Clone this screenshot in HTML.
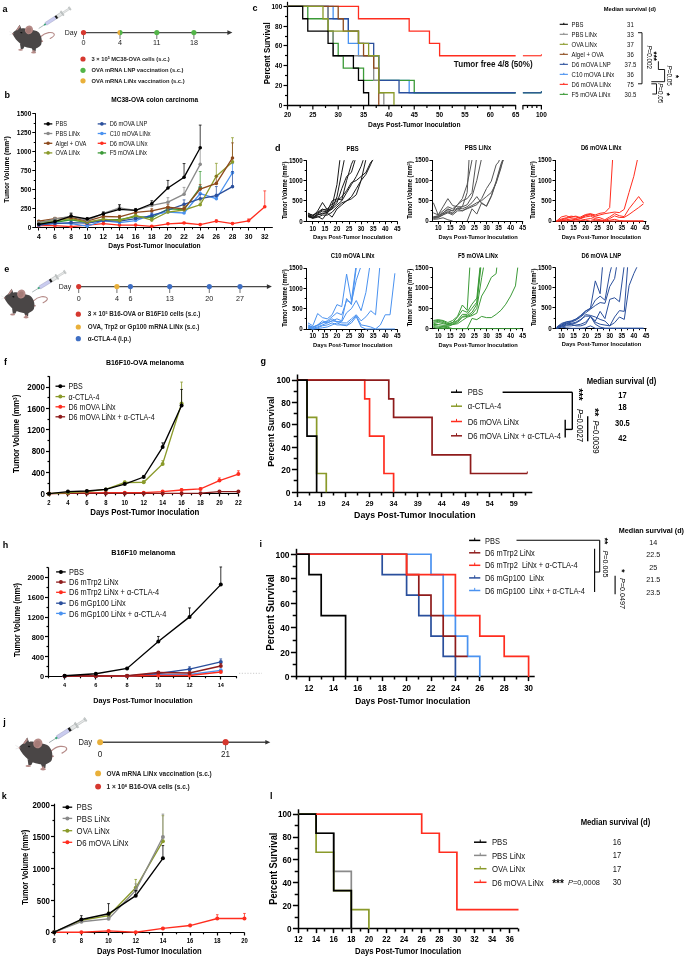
<!DOCTYPE html><html><head><meta charset="utf-8"><style>html,body{margin:0;padding:0;background:#fff;width:685px;height:957px;overflow:hidden}svg{display:block;will-change:transform}</style></head><body><svg width="685" height="957" viewBox="0 0 685 957" font-family='"Liberation Sans", sans-serif'>
<rect width="685" height="957" fill="#fff"/>
<defs>
<g id="mouse">
<path d="M40.2,37 C43,34.5 45.5,33 48.5,32.6 C51.5,32.2 54.2,33 54.3,34.6 C54.4,36.2 52.5,37.2 50.2,38.4" fill="none" stroke="#b58a87" stroke-width="1.1" stroke-linecap="round"/>
<ellipse cx="41.3" cy="41.2" rx="1.9" ry="0.9" fill="#b58a87"/>
<path d="M31.5,47 L36,47.5 L35.6,51.6 L33,51.8 Z" fill="#4a4646"/>
<ellipse cx="33.6" cy="52.6" rx="2.5" ry="1.0" fill="#b58a87"/>
<rect x="32.6" y="50.2" width="2" height="2.2" fill="#b58a87"/>
<path d="M20,43.5 L25,45.5 L23.3,48.8 L20.8,49.2 Z" fill="#4a4646"/>
<ellipse cx="20.6" cy="49.8" rx="2.4" ry="0.9" fill="#b58a87"/>
<path d="M12.3,33.6 C13.5,31.8 14.8,30.8 16.2,30 L19.7,24.7 L21.3,28.6 C23,28.2 24,28.3 24.9,28.5 L32.5,30.1 C34,30.3 35.5,30.6 36.6,31.1 C38.5,32 39.6,33.3 40.2,34.7 C41.2,36.5 41.7,38.2 41.7,39.8 C41.8,41.5 41.6,43 41.2,44.4 C40.6,45.6 39.7,46.4 38.7,46.9 C37.6,47.6 36.6,48.1 35.6,48.5 C33.7,48.6 31.8,48.4 30,48 C28,47.6 26,47 24.3,46.4 C23.4,46 22.6,45.5 21.8,44.9 C20.4,43.9 19.2,42.9 18.2,41.8 C16.6,40.2 15.2,38.5 14.1,36.7 C13.4,35.7 12.8,34.6 12.3,33.6 Z" fill="#4a4646"/>
<path d="M15.9,30.3 L19.6,24.9 L20.2,27.2 L17.6,30.2 Z" fill="#b58a87"/>
<ellipse cx="29" cy="29.9" rx="4.0" ry="4.4" fill="#b58a87" transform="rotate(20 29 29.9)"/>
<ellipse cx="28.6" cy="30.4" rx="2.4" ry="3.0" fill="#a57b77" transform="rotate(20 28.6 30.4)"/>
<ellipse cx="21.3" cy="32.6" rx="1.1" ry="0.65" fill="#111" transform="rotate(15 21.3 32.6)"/>
<circle cx="12.9" cy="33.8" r="0.8" fill="#b58a87"/>
<path d="M12,33 L9.3,31.6 M12,34 L9.5,34.8" stroke="#d8d8d8" stroke-width="0.4"/>
</g>
<g id="syr">
<line x1="0" y1="0" x2="8.6" y2="0" stroke="#7a8c8c" stroke-width="0.55"/>
<rect x="6.5" y="-0.9" width="2.2" height="1.8" fill="#3aa67a"/>
<rect x="8.5" y="-1.6" width="12" height="3.2" fill="#c9cbef" stroke="#9a9cb8" stroke-width="0.35"/>
<rect x="20" y="-1.7" width="2.2" height="3.4" fill="#1a1a1a"/>
<rect x="22.2" y="-1.6" width="5.6" height="3.2" fill="#e4e6e6" stroke="#8f9696" stroke-width="0.35"/>
<rect x="27.4" y="-2.6" width="1.2" height="5.2" fill="#c8cccc" stroke="#8f9696" stroke-width="0.3"/>
<rect x="28.6" y="-0.85" width="8" height="1.7" fill="#e6e8e8" stroke="#9aa0a0" stroke-width="0.3"/>
<rect x="36.4" y="-1.7" width="1.2" height="3.4" fill="#d0d4d4" stroke="#8f9696" stroke-width="0.3"/>
</g>
</defs>
<text x="0" y="3.24" font-size="9.00" font-weight="bold" text-anchor="start" fill="#000" transform="translate(2.60 8.76) scale(1 1)">a</text>
<use href="#mouse" transform="translate(12.30 33.60) scale(1.0) translate(-12.3 -33.6)"/>
<use href="#syr" transform="translate(38.70 28.50) rotate(-32.85) scale(1.000)"/>
<text x="0" y="2.74" font-size="7.61" font-weight="normal" text-anchor="start" fill="#222" transform="translate(64.80 32.60) scale(0.92 1)">Day</text>
<line x1="83.50" y1="32.60" x2="229.40" y2="32.60" stroke="#4a4a4a" stroke-width="1.4"/>
<path d="M232.40,32.60 L227.40,30.30 L227.40,34.90 Z" fill="#333"/>
<line x1="83.50" y1="32.60" x2="83.50" y2="39.00" stroke="#444" stroke-width="0.75"/>
<line x1="120.00" y1="32.60" x2="120.00" y2="39.00" stroke="#444" stroke-width="0.75"/>
<line x1="156.80" y1="32.60" x2="156.80" y2="39.00" stroke="#444" stroke-width="0.75"/>
<line x1="193.90" y1="32.60" x2="193.90" y2="39.00" stroke="#444" stroke-width="0.75"/>
<circle cx="83.50" cy="32.60" r="2.6" fill="#d6382f"/>
<path d="M120.00,30.00 A2.6,2.6 0 0 0 120.00,35.20 Z" fill="#e9b03a"/>
<path d="M120.00,30.00 A2.6,2.6 0 0 1 120.00,35.20 Z" fill="#53b548"/>
<circle cx="156.80" cy="32.60" r="2.6" fill="#53b548"/>
<circle cx="193.90" cy="32.60" r="2.6" fill="#53b548"/>
<text x="0" y="2.82" font-size="7.83" font-weight="normal" text-anchor="middle" fill="#222" transform="translate(83.50 42.50) scale(0.92 1)">0</text>
<text x="0" y="2.82" font-size="7.83" font-weight="normal" text-anchor="middle" fill="#222" transform="translate(120.00 42.50) scale(0.92 1)">4</text>
<text x="0" y="2.82" font-size="7.83" font-weight="normal" text-anchor="middle" fill="#222" transform="translate(156.80 42.50) scale(0.92 1)">11</text>
<text x="0" y="2.82" font-size="7.83" font-weight="normal" text-anchor="middle" fill="#222" transform="translate(193.90 42.50) scale(0.92 1)">18</text>
<circle cx="83.00" cy="59.00" r="2.6" fill="#d6382f"/>
<text x="0" y="2.07" font-size="5.75" font-weight="bold" text-anchor="start" fill="#222" transform="translate(91.50 59.00) scale(1.0 1)">3 × 10<tspan font-size="3.6" dy="-2.2">5</tspan><tspan dy="2.2"> MC38-OVA cells (s.c.)</tspan></text>
<circle cx="83.00" cy="70.30" r="2.6" fill="#53b548"/>
<text x="0" y="2.07" font-size="5.75" font-weight="bold" text-anchor="start" fill="#222" transform="translate(91.50 70.30) scale(1.0 1)">OVA mRNA LNP vaccination (s.c.)</text>
<circle cx="83.00" cy="80.80" r="2.6" fill="#e9b03a"/>
<text x="0" y="2.07" font-size="5.75" font-weight="bold" text-anchor="start" fill="#222" transform="translate(91.50 80.80) scale(1.0 1)">OVA mRNA LiNx vaccination (s.c.)</text>
<text x="0" y="3.24" font-size="9.00" font-weight="bold" text-anchor="start" fill="#000" transform="translate(4.30 268.26) scale(1 1)">e</text>
<use href="#mouse" transform="translate(4.10 297.80) scale(1.03) translate(-12.3 -33.6)"/>
<use href="#syr" transform="translate(32.20 292.10) rotate(-31.57) scale(1.036)"/>
<text x="0" y="2.74" font-size="7.61" font-weight="normal" text-anchor="start" fill="#222" transform="translate(58.70 286.60) scale(0.92 1)">Day</text>
<line x1="78.70" y1="286.60" x2="268.90" y2="286.60" stroke="#4a4a4a" stroke-width="1.4"/>
<path d="M271.90,286.60 L266.90,284.30 L266.90,288.90 Z" fill="#333"/>
<line x1="78.70" y1="286.60" x2="78.70" y2="293.00" stroke="#444" stroke-width="0.75"/>
<line x1="116.90" y1="286.60" x2="116.90" y2="293.00" stroke="#444" stroke-width="0.75"/>
<line x1="130.40" y1="286.60" x2="130.40" y2="293.00" stroke="#444" stroke-width="0.75"/>
<line x1="169.70" y1="286.60" x2="169.70" y2="293.00" stroke="#444" stroke-width="0.75"/>
<line x1="209.30" y1="286.60" x2="209.30" y2="293.00" stroke="#444" stroke-width="0.75"/>
<line x1="240.00" y1="286.60" x2="240.00" y2="293.00" stroke="#444" stroke-width="0.75"/>
<circle cx="78.70" cy="286.60" r="2.6" fill="#d6382f"/>
<circle cx="116.90" cy="286.60" r="2.6" fill="#e9b03a"/>
<circle cx="130.40" cy="286.60" r="2.6" fill="#3f6fc4"/>
<circle cx="169.70" cy="286.60" r="2.6" fill="#3f6fc4"/>
<circle cx="209.30" cy="286.60" r="2.6" fill="#3f6fc4"/>
<circle cx="240.00" cy="286.60" r="2.6" fill="#3f6fc4"/>
<text x="0" y="2.82" font-size="7.83" font-weight="normal" text-anchor="middle" fill="#222" transform="translate(78.70 297.80) scale(0.92 1)">0</text>
<text x="0" y="2.82" font-size="7.83" font-weight="normal" text-anchor="middle" fill="#222" transform="translate(116.90 297.80) scale(0.92 1)">4</text>
<text x="0" y="2.82" font-size="7.83" font-weight="normal" text-anchor="middle" fill="#222" transform="translate(130.40 297.80) scale(0.92 1)">6</text>
<text x="0" y="2.82" font-size="7.83" font-weight="normal" text-anchor="middle" fill="#222" transform="translate(169.70 297.80) scale(0.92 1)">13</text>
<text x="0" y="2.82" font-size="7.83" font-weight="normal" text-anchor="middle" fill="#222" transform="translate(209.30 297.80) scale(0.92 1)">20</text>
<text x="0" y="2.82" font-size="7.83" font-weight="normal" text-anchor="middle" fill="#222" transform="translate(240.00 297.80) scale(0.92 1)">27</text>
<circle cx="78.30" cy="314.20" r="2.6" fill="#d6382f"/>
<text x="0" y="2.27" font-size="6.30" font-weight="bold" text-anchor="start" fill="#222" transform="translate(87.80 314.20) scale(1.0 1)">3 × 10<tspan font-size="3.6" dy="-2.2">5</tspan><tspan dy="2.2"> B16-OVA or B16F10 cells (s.c.)</tspan></text>
<circle cx="78.30" cy="327.00" r="2.6" fill="#e9b03a"/>
<text x="0" y="2.27" font-size="6.30" font-weight="bold" text-anchor="start" fill="#222" transform="translate(87.80 327.00) scale(1.0 1)">OVA, Trp2 or Gp100 mRNA LiNx (s.c.)</text>
<circle cx="78.30" cy="338.70" r="2.6" fill="#3f6fc4"/>
<text x="0" y="2.27" font-size="6.30" font-weight="bold" text-anchor="start" fill="#222" transform="translate(87.80 338.70) scale(1.0 1)">α-CTLA-4 (i.p.)</text>
<text x="0" y="3.24" font-size="9.00" font-weight="bold" text-anchor="start" fill="#000" transform="translate(3.20 721.46) scale(1 1)">j</text>
<use href="#mouse" transform="translate(18.80 747.60) scale(1.14) translate(-12.3 -33.6)"/>
<use href="#syr" transform="translate(49.10 742.60) rotate(-32.45) scale(1.160)"/>
<text x="0" y="2.97" font-size="8.26" font-weight="normal" text-anchor="start" fill="#222" transform="translate(78.50 742.30) scale(0.92 1)">Day</text>
<line x1="100.10" y1="742.30" x2="267.30" y2="742.30" stroke="#4a4a4a" stroke-width="1.5"/>
<path d="M270.30,742.30 L265.30,740.00 L265.30,744.60 Z" fill="#333"/>
<circle cx="100.10" cy="742.30" r="2.95" fill="#e9b03a"/>
<circle cx="225.60" cy="742.30" r="2.95" fill="#d6382f"/>
<text x="0" y="3.21" font-size="8.91" font-weight="normal" text-anchor="middle" fill="#222" transform="translate(100.10 754.20) scale(0.92 1)">0</text>
<text x="0" y="3.21" font-size="8.91" font-weight="normal" text-anchor="middle" fill="#222" transform="translate(225.60 754.20) scale(0.92 1)">21</text>
<line x1="225.60" y1="742.30" x2="225.60" y2="750.00" stroke="#444" stroke-width="0.8"/>
<circle cx="225.60" cy="742.30" r="2.95" fill="#d6382f"/>
<circle cx="98.10" cy="773.40" r="2.95" fill="#e9b03a"/>
<text x="0" y="2.34" font-size="6.50" font-weight="bold" text-anchor="start" fill="#222" transform="translate(106.50 773.40) scale(1.0 1)">OVA mRNA LiNx vaccination (s.c.)</text>
<circle cx="98.10" cy="786.60" r="2.95" fill="#d6382f"/>
<text x="0" y="2.34" font-size="6.50" font-weight="bold" text-anchor="start" fill="#222" transform="translate(106.50 786.60) scale(1.0 1)">1 × 10<tspan font-size="4.4" dy="-2.4">6</tspan><tspan dy="2.4"> B16-OVA cells (s.c.)</tspan></text>
<text x="0" y="3.24" font-size="9.00" font-weight="bold" text-anchor="start" fill="#000" transform="translate(4.60 94.66) scale(1 1)">b</text>
<text x="0" y="2.56" font-size="7.12" font-weight="bold" text-anchor="middle" fill="#000" transform="translate(154.70 99.00) scale(0.92 1)">MC38-OVA colon carcinoma</text>
<line x1="35.50" y1="113.20" x2="35.50" y2="227.80" stroke="#000" stroke-width="1"/>
<line x1="32.30" y1="227.50" x2="35.50" y2="227.50" stroke="#000" stroke-width="1"/>
<line x1="32.30" y1="208.50" x2="35.50" y2="208.50" stroke="#000" stroke-width="1"/>
<line x1="32.30" y1="189.50" x2="35.50" y2="189.50" stroke="#000" stroke-width="1"/>
<line x1="32.30" y1="170.50" x2="35.50" y2="170.50" stroke="#000" stroke-width="1"/>
<line x1="32.30" y1="151.50" x2="35.50" y2="151.50" stroke="#000" stroke-width="1"/>
<line x1="32.30" y1="132.50" x2="35.50" y2="132.50" stroke="#000" stroke-width="1"/>
<line x1="32.30" y1="113.50" x2="35.50" y2="113.50" stroke="#000" stroke-width="1"/>
<line x1="33.70" y1="217.50" x2="35.50" y2="217.50" stroke="#000" stroke-width="1"/>
<line x1="33.70" y1="198.50" x2="35.50" y2="198.50" stroke="#000" stroke-width="1"/>
<line x1="33.70" y1="180.50" x2="35.50" y2="180.50" stroke="#000" stroke-width="1"/>
<line x1="33.70" y1="161.50" x2="35.50" y2="161.50" stroke="#000" stroke-width="1"/>
<line x1="33.70" y1="142.50" x2="35.50" y2="142.50" stroke="#000" stroke-width="1"/>
<line x1="33.70" y1="123.50" x2="35.50" y2="123.50" stroke="#000" stroke-width="1"/>
<text x="0" y="2.54" font-size="7.07" font-weight="bold" text-anchor="end" fill="#000" transform="translate(31.30 227.30) scale(0.92 1)">0</text>
<text x="0" y="2.54" font-size="7.07" font-weight="bold" text-anchor="end" fill="#000" transform="translate(31.30 208.40) scale(0.92 1)">250</text>
<text x="0" y="2.54" font-size="7.07" font-weight="bold" text-anchor="end" fill="#000" transform="translate(31.30 189.50) scale(0.92 1)">500</text>
<text x="0" y="2.54" font-size="7.07" font-weight="bold" text-anchor="end" fill="#000" transform="translate(31.30 170.60) scale(0.92 1)">750</text>
<text x="0" y="2.54" font-size="7.07" font-weight="bold" text-anchor="end" fill="#000" transform="translate(31.30 151.70) scale(0.92 1)">1000</text>
<text x="0" y="2.54" font-size="7.07" font-weight="bold" text-anchor="end" fill="#000" transform="translate(31.30 132.80) scale(0.92 1)">1250</text>
<text x="0" y="2.54" font-size="7.07" font-weight="bold" text-anchor="end" fill="#000" transform="translate(31.30 113.90) scale(0.92 1)">1500</text>
<line x1="34.90" y1="227.50" x2="272.80" y2="227.50" stroke="#000" stroke-width="1"/>
<line x1="38.50" y1="227.50" x2="38.50" y2="230.50" stroke="#000" stroke-width="1"/>
<line x1="54.50" y1="227.50" x2="54.50" y2="230.50" stroke="#000" stroke-width="1"/>
<line x1="71.50" y1="227.50" x2="71.50" y2="230.50" stroke="#000" stroke-width="1"/>
<line x1="87.50" y1="227.50" x2="87.50" y2="230.50" stroke="#000" stroke-width="1"/>
<line x1="103.50" y1="227.50" x2="103.50" y2="230.50" stroke="#000" stroke-width="1"/>
<line x1="119.50" y1="227.50" x2="119.50" y2="230.50" stroke="#000" stroke-width="1"/>
<line x1="135.50" y1="227.50" x2="135.50" y2="230.50" stroke="#000" stroke-width="1"/>
<line x1="151.50" y1="227.50" x2="151.50" y2="230.50" stroke="#000" stroke-width="1"/>
<line x1="167.50" y1="227.50" x2="167.50" y2="230.50" stroke="#000" stroke-width="1"/>
<line x1="184.50" y1="227.50" x2="184.50" y2="230.50" stroke="#000" stroke-width="1"/>
<line x1="200.50" y1="227.50" x2="200.50" y2="230.50" stroke="#000" stroke-width="1"/>
<line x1="216.50" y1="227.50" x2="216.50" y2="230.50" stroke="#000" stroke-width="1"/>
<line x1="232.50" y1="227.50" x2="232.50" y2="230.50" stroke="#000" stroke-width="1"/>
<line x1="248.50" y1="227.50" x2="248.50" y2="230.50" stroke="#000" stroke-width="1"/>
<line x1="264.50" y1="227.50" x2="264.50" y2="230.50" stroke="#000" stroke-width="1"/>
<line x1="46.50" y1="227.50" x2="46.50" y2="229.30" stroke="#000" stroke-width="1"/>
<line x1="63.50" y1="227.50" x2="63.50" y2="229.30" stroke="#000" stroke-width="1"/>
<line x1="79.50" y1="227.50" x2="79.50" y2="229.30" stroke="#000" stroke-width="1"/>
<line x1="95.50" y1="227.50" x2="95.50" y2="229.30" stroke="#000" stroke-width="1"/>
<line x1="111.50" y1="227.50" x2="111.50" y2="229.30" stroke="#000" stroke-width="1"/>
<line x1="127.50" y1="227.50" x2="127.50" y2="229.30" stroke="#000" stroke-width="1"/>
<line x1="143.50" y1="227.50" x2="143.50" y2="229.30" stroke="#000" stroke-width="1"/>
<line x1="159.50" y1="227.50" x2="159.50" y2="229.30" stroke="#000" stroke-width="1"/>
<line x1="175.50" y1="227.50" x2="175.50" y2="229.30" stroke="#000" stroke-width="1"/>
<line x1="192.50" y1="227.50" x2="192.50" y2="229.30" stroke="#000" stroke-width="1"/>
<line x1="208.50" y1="227.50" x2="208.50" y2="229.30" stroke="#000" stroke-width="1"/>
<line x1="224.50" y1="227.50" x2="224.50" y2="229.30" stroke="#000" stroke-width="1"/>
<line x1="240.50" y1="227.50" x2="240.50" y2="229.30" stroke="#000" stroke-width="1"/>
<line x1="256.50" y1="227.50" x2="256.50" y2="229.30" stroke="#000" stroke-width="1"/>
<text x="0" y="2.66" font-size="7.39" font-weight="bold" text-anchor="middle" fill="#000" transform="translate(38.80 236.00) scale(0.92 1)">4</text>
<text x="0" y="2.66" font-size="7.39" font-weight="bold" text-anchor="middle" fill="#000" transform="translate(54.94 236.00) scale(0.92 1)">6</text>
<text x="0" y="2.66" font-size="7.39" font-weight="bold" text-anchor="middle" fill="#000" transform="translate(71.08 236.00) scale(0.92 1)">8</text>
<text x="0" y="2.66" font-size="7.39" font-weight="bold" text-anchor="middle" fill="#000" transform="translate(87.22 236.00) scale(0.92 1)">10</text>
<text x="0" y="2.66" font-size="7.39" font-weight="bold" text-anchor="middle" fill="#000" transform="translate(103.36 236.00) scale(0.92 1)">12</text>
<text x="0" y="2.66" font-size="7.39" font-weight="bold" text-anchor="middle" fill="#000" transform="translate(119.50 236.00) scale(0.92 1)">14</text>
<text x="0" y="2.66" font-size="7.39" font-weight="bold" text-anchor="middle" fill="#000" transform="translate(135.64 236.00) scale(0.92 1)">16</text>
<text x="0" y="2.66" font-size="7.39" font-weight="bold" text-anchor="middle" fill="#000" transform="translate(151.78 236.00) scale(0.92 1)">18</text>
<text x="0" y="2.66" font-size="7.39" font-weight="bold" text-anchor="middle" fill="#000" transform="translate(167.92 236.00) scale(0.92 1)">20</text>
<text x="0" y="2.66" font-size="7.39" font-weight="bold" text-anchor="middle" fill="#000" transform="translate(184.06 236.00) scale(0.92 1)">22</text>
<text x="0" y="2.66" font-size="7.39" font-weight="bold" text-anchor="middle" fill="#000" transform="translate(200.20 236.00) scale(0.92 1)">24</text>
<text x="0" y="2.66" font-size="7.39" font-weight="bold" text-anchor="middle" fill="#000" transform="translate(216.34 236.00) scale(0.92 1)">26</text>
<text x="0" y="2.66" font-size="7.39" font-weight="bold" text-anchor="middle" fill="#000" transform="translate(232.48 236.00) scale(0.92 1)">28</text>
<text x="0" y="2.66" font-size="7.39" font-weight="bold" text-anchor="middle" fill="#000" transform="translate(248.62 236.00) scale(0.92 1)">30</text>
<text x="0" y="2.66" font-size="7.39" font-weight="bold" text-anchor="middle" fill="#000" transform="translate(264.76 236.00) scale(0.92 1)">32</text>
<text x="0" y="2.62" font-size="7.28" font-weight="bold" text-anchor="middle" fill="#000" transform="translate(6.30 169.50) rotate(-90) scale(0.92 1)">Tumor Volume (mm<tspan font-size="4.4" dy="-2.2">3</tspan><tspan dy="2.2">)</tspan></text>
<text x="0" y="2.62" font-size="7.28" font-weight="bold" text-anchor="middle" fill="#000" transform="translate(154.50 245.80) scale(0.92 1)">Days Post-Tumor Inoculation</text>
<line x1="38.80" y1="225.71" x2="38.80" y2="225.33" stroke="#ff2d1f" stroke-width="0.75"/>
<line x1="37.40" y1="225.33" x2="40.20" y2="225.33" stroke="#ff2d1f" stroke-width="0.75"/>
<line x1="54.94" y1="225.71" x2="54.94" y2="225.33" stroke="#ff2d1f" stroke-width="0.75"/>
<line x1="53.54" y1="225.33" x2="56.34" y2="225.33" stroke="#ff2d1f" stroke-width="0.75"/>
<line x1="71.08" y1="226.70" x2="71.08" y2="226.32" stroke="#ff2d1f" stroke-width="0.75"/>
<line x1="69.68" y1="226.32" x2="72.48" y2="226.32" stroke="#ff2d1f" stroke-width="0.75"/>
<line x1="87.22" y1="225.11" x2="87.22" y2="224.73" stroke="#ff2d1f" stroke-width="0.75"/>
<line x1="85.82" y1="224.73" x2="88.62" y2="224.73" stroke="#ff2d1f" stroke-width="0.75"/>
<line x1="103.36" y1="223.60" x2="103.36" y2="222.84" stroke="#ff2d1f" stroke-width="0.75"/>
<line x1="101.96" y1="222.84" x2="104.76" y2="222.84" stroke="#ff2d1f" stroke-width="0.75"/>
<line x1="119.50" y1="225.11" x2="119.50" y2="224.35" stroke="#ff2d1f" stroke-width="0.75"/>
<line x1="118.10" y1="224.35" x2="120.90" y2="224.35" stroke="#ff2d1f" stroke-width="0.75"/>
<line x1="135.64" y1="225.11" x2="135.64" y2="224.35" stroke="#ff2d1f" stroke-width="0.75"/>
<line x1="134.24" y1="224.35" x2="137.04" y2="224.35" stroke="#ff2d1f" stroke-width="0.75"/>
<line x1="151.78" y1="226.32" x2="151.78" y2="225.56" stroke="#ff2d1f" stroke-width="0.75"/>
<line x1="150.38" y1="225.56" x2="153.18" y2="225.56" stroke="#ff2d1f" stroke-width="0.75"/>
<line x1="167.92" y1="223.82" x2="167.92" y2="223.07" stroke="#ff2d1f" stroke-width="0.75"/>
<line x1="166.52" y1="223.07" x2="169.32" y2="223.07" stroke="#ff2d1f" stroke-width="0.75"/>
<line x1="184.06" y1="222.99" x2="184.06" y2="222.23" stroke="#ff2d1f" stroke-width="0.75"/>
<line x1="182.66" y1="222.23" x2="185.46" y2="222.23" stroke="#ff2d1f" stroke-width="0.75"/>
<line x1="200.20" y1="224.58" x2="200.20" y2="223.82" stroke="#ff2d1f" stroke-width="0.75"/>
<line x1="198.80" y1="223.82" x2="201.60" y2="223.82" stroke="#ff2d1f" stroke-width="0.75"/>
<line x1="216.34" y1="221.18" x2="216.34" y2="219.66" stroke="#ff2d1f" stroke-width="0.75"/>
<line x1="214.94" y1="219.66" x2="217.74" y2="219.66" stroke="#ff2d1f" stroke-width="0.75"/>
<line x1="232.48" y1="223.60" x2="232.48" y2="222.46" stroke="#ff2d1f" stroke-width="0.75"/>
<line x1="231.08" y1="222.46" x2="233.88" y2="222.46" stroke="#ff2d1f" stroke-width="0.75"/>
<line x1="248.62" y1="220.80" x2="248.62" y2="218.91" stroke="#ff2d1f" stroke-width="0.75"/>
<line x1="247.22" y1="218.91" x2="250.02" y2="218.91" stroke="#ff2d1f" stroke-width="0.75"/>
<line x1="264.76" y1="206.74" x2="264.76" y2="190.86" stroke="#ff2d1f" stroke-width="0.75"/>
<line x1="263.36" y1="190.86" x2="266.16" y2="190.86" stroke="#ff2d1f" stroke-width="0.75"/>
<polyline points="38.80,225.71 54.94,225.71 71.08,226.70 87.22,225.11 103.36,223.60 119.50,225.11 135.64,225.11 151.78,226.32 167.92,223.82 184.06,222.99 200.20,224.58 216.34,221.18 232.48,223.60 248.62,220.80 264.76,206.74" fill="none" stroke="#ff2d1f" stroke-width="1.3" stroke-linejoin="miter"/>
<circle cx="38.80" cy="225.71" r="1.8" fill="#ff2d1f"/>
<circle cx="54.94" cy="225.71" r="1.8" fill="#ff2d1f"/>
<circle cx="71.08" cy="226.70" r="1.8" fill="#ff2d1f"/>
<circle cx="87.22" cy="225.11" r="1.8" fill="#ff2d1f"/>
<circle cx="103.36" cy="223.60" r="1.8" fill="#ff2d1f"/>
<circle cx="119.50" cy="225.11" r="1.8" fill="#ff2d1f"/>
<circle cx="135.64" cy="225.11" r="1.8" fill="#ff2d1f"/>
<circle cx="151.78" cy="226.32" r="1.8" fill="#ff2d1f"/>
<circle cx="167.92" cy="223.82" r="1.8" fill="#ff2d1f"/>
<circle cx="184.06" cy="222.99" r="1.8" fill="#ff2d1f"/>
<circle cx="200.20" cy="224.58" r="1.8" fill="#ff2d1f"/>
<circle cx="216.34" cy="221.18" r="1.8" fill="#ff2d1f"/>
<circle cx="232.48" cy="223.60" r="1.8" fill="#ff2d1f"/>
<circle cx="248.62" cy="220.80" r="1.8" fill="#ff2d1f"/>
<circle cx="264.76" cy="206.74" r="1.8" fill="#ff2d1f"/>
<line x1="38.80" y1="223.52" x2="38.80" y2="222.76" stroke="#3b9a37" stroke-width="0.75"/>
<line x1="37.40" y1="222.76" x2="40.20" y2="222.76" stroke="#3b9a37" stroke-width="0.75"/>
<line x1="54.94" y1="222.23" x2="54.94" y2="221.48" stroke="#3b9a37" stroke-width="0.75"/>
<line x1="53.54" y1="221.48" x2="56.34" y2="221.48" stroke="#3b9a37" stroke-width="0.75"/>
<line x1="71.08" y1="219.74" x2="71.08" y2="218.61" stroke="#3b9a37" stroke-width="0.75"/>
<line x1="69.68" y1="218.61" x2="72.48" y2="218.61" stroke="#3b9a37" stroke-width="0.75"/>
<line x1="87.22" y1="222.61" x2="87.22" y2="221.48" stroke="#3b9a37" stroke-width="0.75"/>
<line x1="85.82" y1="221.48" x2="88.62" y2="221.48" stroke="#3b9a37" stroke-width="0.75"/>
<line x1="103.36" y1="219.74" x2="103.36" y2="218.61" stroke="#3b9a37" stroke-width="0.75"/>
<line x1="101.96" y1="218.61" x2="104.76" y2="218.61" stroke="#3b9a37" stroke-width="0.75"/>
<line x1="119.50" y1="219.74" x2="119.50" y2="218.61" stroke="#3b9a37" stroke-width="0.75"/>
<line x1="118.10" y1="218.61" x2="120.90" y2="218.61" stroke="#3b9a37" stroke-width="0.75"/>
<line x1="135.64" y1="216.49" x2="135.64" y2="214.98" stroke="#3b9a37" stroke-width="0.75"/>
<line x1="134.24" y1="214.98" x2="137.04" y2="214.98" stroke="#3b9a37" stroke-width="0.75"/>
<line x1="151.78" y1="217.70" x2="151.78" y2="216.19" stroke="#3b9a37" stroke-width="0.75"/>
<line x1="150.38" y1="216.19" x2="153.18" y2="216.19" stroke="#3b9a37" stroke-width="0.75"/>
<line x1="167.92" y1="208.85" x2="167.92" y2="206.59" stroke="#3b9a37" stroke-width="0.75"/>
<line x1="166.52" y1="206.59" x2="169.32" y2="206.59" stroke="#3b9a37" stroke-width="0.75"/>
<line x1="184.06" y1="209.53" x2="184.06" y2="207.27" stroke="#3b9a37" stroke-width="0.75"/>
<line x1="182.66" y1="207.27" x2="185.46" y2="207.27" stroke="#3b9a37" stroke-width="0.75"/>
<line x1="200.20" y1="187.38" x2="200.20" y2="171.51" stroke="#3b9a37" stroke-width="0.75"/>
<line x1="198.80" y1="171.51" x2="201.60" y2="171.51" stroke="#3b9a37" stroke-width="0.75"/>
<polyline points="38.80,223.52 54.94,222.23 71.08,219.74 87.22,222.61 103.36,219.74 119.50,219.74 135.64,216.49 151.78,217.70 167.92,208.85 184.06,209.53 200.20,187.38" fill="none" stroke="#3b9a37" stroke-width="1.3" stroke-linejoin="miter"/>
<circle cx="38.80" cy="223.52" r="1.8" fill="#3b9a37"/>
<circle cx="54.94" cy="222.23" r="1.8" fill="#3b9a37"/>
<circle cx="71.08" cy="219.74" r="1.8" fill="#3b9a37"/>
<circle cx="87.22" cy="222.61" r="1.8" fill="#3b9a37"/>
<circle cx="103.36" cy="219.74" r="1.8" fill="#3b9a37"/>
<circle cx="119.50" cy="219.74" r="1.8" fill="#3b9a37"/>
<circle cx="135.64" cy="216.49" r="1.8" fill="#3b9a37"/>
<circle cx="151.78" cy="217.70" r="1.8" fill="#3b9a37"/>
<circle cx="167.92" cy="208.85" r="1.8" fill="#3b9a37"/>
<circle cx="184.06" cy="209.53" r="1.8" fill="#3b9a37"/>
<circle cx="200.20" cy="187.38" r="1.8" fill="#3b9a37"/>
<line x1="38.80" y1="225.11" x2="38.80" y2="224.73" stroke="#4a92f0" stroke-width="0.75"/>
<line x1="37.40" y1="224.73" x2="40.20" y2="224.73" stroke="#4a92f0" stroke-width="0.75"/>
<line x1="54.94" y1="223.22" x2="54.94" y2="222.46" stroke="#4a92f0" stroke-width="0.75"/>
<line x1="53.54" y1="222.46" x2="56.34" y2="222.46" stroke="#4a92f0" stroke-width="0.75"/>
<line x1="71.08" y1="223.60" x2="71.08" y2="222.84" stroke="#4a92f0" stroke-width="0.75"/>
<line x1="69.68" y1="222.84" x2="72.48" y2="222.84" stroke="#4a92f0" stroke-width="0.75"/>
<line x1="87.22" y1="226.09" x2="87.22" y2="225.33" stroke="#4a92f0" stroke-width="0.75"/>
<line x1="85.82" y1="225.33" x2="88.62" y2="225.33" stroke="#4a92f0" stroke-width="0.75"/>
<line x1="103.36" y1="220.57" x2="103.36" y2="219.44" stroke="#4a92f0" stroke-width="0.75"/>
<line x1="101.96" y1="219.44" x2="104.76" y2="219.44" stroke="#4a92f0" stroke-width="0.75"/>
<line x1="119.50" y1="222.61" x2="119.50" y2="221.48" stroke="#4a92f0" stroke-width="0.75"/>
<line x1="118.10" y1="221.48" x2="120.90" y2="221.48" stroke="#4a92f0" stroke-width="0.75"/>
<line x1="135.64" y1="220.57" x2="135.64" y2="219.06" stroke="#4a92f0" stroke-width="0.75"/>
<line x1="134.24" y1="219.06" x2="137.04" y2="219.06" stroke="#4a92f0" stroke-width="0.75"/>
<line x1="151.78" y1="214.98" x2="151.78" y2="212.71" stroke="#4a92f0" stroke-width="0.75"/>
<line x1="150.38" y1="212.71" x2="153.18" y2="212.71" stroke="#4a92f0" stroke-width="0.75"/>
<line x1="167.92" y1="212.03" x2="167.92" y2="209.00" stroke="#4a92f0" stroke-width="0.75"/>
<line x1="166.52" y1="209.00" x2="169.32" y2="209.00" stroke="#4a92f0" stroke-width="0.75"/>
<line x1="184.06" y1="213.01" x2="184.06" y2="209.99" stroke="#4a92f0" stroke-width="0.75"/>
<line x1="182.66" y1="209.99" x2="185.46" y2="209.99" stroke="#4a92f0" stroke-width="0.75"/>
<line x1="200.20" y1="193.58" x2="200.20" y2="186.78" stroke="#4a92f0" stroke-width="0.75"/>
<line x1="198.80" y1="186.78" x2="201.60" y2="186.78" stroke="#4a92f0" stroke-width="0.75"/>
<line x1="216.34" y1="198.72" x2="216.34" y2="194.19" stroke="#4a92f0" stroke-width="0.75"/>
<line x1="214.94" y1="194.19" x2="217.74" y2="194.19" stroke="#4a92f0" stroke-width="0.75"/>
<line x1="232.48" y1="172.72" x2="232.48" y2="163.64" stroke="#4a92f0" stroke-width="0.75"/>
<line x1="231.08" y1="163.64" x2="233.88" y2="163.64" stroke="#4a92f0" stroke-width="0.75"/>
<polyline points="38.80,225.11 54.94,223.22 71.08,223.60 87.22,226.09 103.36,220.57 119.50,222.61 135.64,220.57 151.78,214.98 167.92,212.03 184.06,213.01 200.20,193.58 216.34,198.72 232.48,172.72" fill="none" stroke="#4a92f0" stroke-width="1.3" stroke-linejoin="miter"/>
<circle cx="38.80" cy="225.11" r="1.8" fill="#4a92f0"/>
<circle cx="54.94" cy="223.22" r="1.8" fill="#4a92f0"/>
<circle cx="71.08" cy="223.60" r="1.8" fill="#4a92f0"/>
<circle cx="87.22" cy="226.09" r="1.8" fill="#4a92f0"/>
<circle cx="103.36" cy="220.57" r="1.8" fill="#4a92f0"/>
<circle cx="119.50" cy="222.61" r="1.8" fill="#4a92f0"/>
<circle cx="135.64" cy="220.57" r="1.8" fill="#4a92f0"/>
<circle cx="151.78" cy="214.98" r="1.8" fill="#4a92f0"/>
<circle cx="167.92" cy="212.03" r="1.8" fill="#4a92f0"/>
<circle cx="184.06" cy="213.01" r="1.8" fill="#4a92f0"/>
<circle cx="200.20" cy="193.58" r="1.8" fill="#4a92f0"/>
<circle cx="216.34" cy="198.72" r="1.8" fill="#4a92f0"/>
<circle cx="232.48" cy="172.72" r="1.8" fill="#4a92f0"/>
<line x1="38.80" y1="224.73" x2="38.80" y2="224.35" stroke="#2a4f9c" stroke-width="0.75"/>
<line x1="37.40" y1="224.35" x2="40.20" y2="224.35" stroke="#2a4f9c" stroke-width="0.75"/>
<line x1="54.94" y1="223.60" x2="54.94" y2="222.84" stroke="#2a4f9c" stroke-width="0.75"/>
<line x1="53.54" y1="222.84" x2="56.34" y2="222.84" stroke="#2a4f9c" stroke-width="0.75"/>
<line x1="71.08" y1="222.61" x2="71.08" y2="221.86" stroke="#2a4f9c" stroke-width="0.75"/>
<line x1="69.68" y1="221.86" x2="72.48" y2="221.86" stroke="#2a4f9c" stroke-width="0.75"/>
<line x1="87.22" y1="223.22" x2="87.22" y2="222.46" stroke="#2a4f9c" stroke-width="0.75"/>
<line x1="85.82" y1="222.46" x2="88.62" y2="222.46" stroke="#2a4f9c" stroke-width="0.75"/>
<line x1="103.36" y1="220.57" x2="103.36" y2="219.44" stroke="#2a4f9c" stroke-width="0.75"/>
<line x1="101.96" y1="219.44" x2="104.76" y2="219.44" stroke="#2a4f9c" stroke-width="0.75"/>
<line x1="119.50" y1="221.03" x2="119.50" y2="219.89" stroke="#2a4f9c" stroke-width="0.75"/>
<line x1="118.10" y1="219.89" x2="120.90" y2="219.89" stroke="#2a4f9c" stroke-width="0.75"/>
<line x1="135.64" y1="218.53" x2="135.64" y2="217.02" stroke="#2a4f9c" stroke-width="0.75"/>
<line x1="134.24" y1="217.02" x2="137.04" y2="217.02" stroke="#2a4f9c" stroke-width="0.75"/>
<line x1="151.78" y1="215.96" x2="151.78" y2="213.69" stroke="#2a4f9c" stroke-width="0.75"/>
<line x1="150.38" y1="213.69" x2="153.18" y2="213.69" stroke="#2a4f9c" stroke-width="0.75"/>
<line x1="167.92" y1="209.99" x2="167.92" y2="206.96" stroke="#2a4f9c" stroke-width="0.75"/>
<line x1="166.52" y1="206.96" x2="169.32" y2="206.96" stroke="#2a4f9c" stroke-width="0.75"/>
<line x1="184.06" y1="204.39" x2="184.06" y2="199.86" stroke="#2a4f9c" stroke-width="0.75"/>
<line x1="182.66" y1="199.86" x2="185.46" y2="199.86" stroke="#2a4f9c" stroke-width="0.75"/>
<line x1="200.20" y1="198.72" x2="200.20" y2="194.19" stroke="#2a4f9c" stroke-width="0.75"/>
<line x1="198.80" y1="194.19" x2="201.60" y2="194.19" stroke="#2a4f9c" stroke-width="0.75"/>
<line x1="216.34" y1="195.62" x2="216.34" y2="186.55" stroke="#2a4f9c" stroke-width="0.75"/>
<line x1="214.94" y1="186.55" x2="217.74" y2="186.55" stroke="#2a4f9c" stroke-width="0.75"/>
<line x1="232.48" y1="186.63" x2="232.48" y2="171.51" stroke="#2a4f9c" stroke-width="0.75"/>
<line x1="231.08" y1="171.51" x2="233.88" y2="171.51" stroke="#2a4f9c" stroke-width="0.75"/>
<polyline points="38.80,224.73 54.94,223.60 71.08,222.61 87.22,223.22 103.36,220.57 119.50,221.03 135.64,218.53 151.78,215.96 167.92,209.99 184.06,204.39 200.20,198.72 216.34,195.62 232.48,186.63" fill="none" stroke="#2a4f9c" stroke-width="1.3" stroke-linejoin="miter"/>
<circle cx="38.80" cy="224.73" r="1.8" fill="#2a4f9c"/>
<circle cx="54.94" cy="223.60" r="1.8" fill="#2a4f9c"/>
<circle cx="71.08" cy="222.61" r="1.8" fill="#2a4f9c"/>
<circle cx="87.22" cy="223.22" r="1.8" fill="#2a4f9c"/>
<circle cx="103.36" cy="220.57" r="1.8" fill="#2a4f9c"/>
<circle cx="119.50" cy="221.03" r="1.8" fill="#2a4f9c"/>
<circle cx="135.64" cy="218.53" r="1.8" fill="#2a4f9c"/>
<circle cx="151.78" cy="215.96" r="1.8" fill="#2a4f9c"/>
<circle cx="167.92" cy="209.99" r="1.8" fill="#2a4f9c"/>
<circle cx="184.06" cy="204.39" r="1.8" fill="#2a4f9c"/>
<circle cx="200.20" cy="198.72" r="1.8" fill="#2a4f9c"/>
<circle cx="216.34" cy="195.62" r="1.8" fill="#2a4f9c"/>
<circle cx="232.48" cy="186.63" r="1.8" fill="#2a4f9c"/>
<line x1="38.80" y1="222.23" x2="38.80" y2="221.48" stroke="#8a9a2a" stroke-width="0.75"/>
<line x1="37.40" y1="221.48" x2="40.20" y2="221.48" stroke="#8a9a2a" stroke-width="0.75"/>
<line x1="54.94" y1="220.57" x2="54.94" y2="219.44" stroke="#8a9a2a" stroke-width="0.75"/>
<line x1="53.54" y1="219.44" x2="56.34" y2="219.44" stroke="#8a9a2a" stroke-width="0.75"/>
<line x1="71.08" y1="218.53" x2="71.08" y2="217.02" stroke="#8a9a2a" stroke-width="0.75"/>
<line x1="69.68" y1="217.02" x2="72.48" y2="217.02" stroke="#8a9a2a" stroke-width="0.75"/>
<line x1="87.22" y1="222.23" x2="87.22" y2="221.10" stroke="#8a9a2a" stroke-width="0.75"/>
<line x1="85.82" y1="221.10" x2="88.62" y2="221.10" stroke="#8a9a2a" stroke-width="0.75"/>
<line x1="103.36" y1="219.14" x2="103.36" y2="217.62" stroke="#8a9a2a" stroke-width="0.75"/>
<line x1="101.96" y1="217.62" x2="104.76" y2="217.62" stroke="#8a9a2a" stroke-width="0.75"/>
<line x1="119.50" y1="220.57" x2="119.50" y2="219.06" stroke="#8a9a2a" stroke-width="0.75"/>
<line x1="118.10" y1="219.06" x2="120.90" y2="219.06" stroke="#8a9a2a" stroke-width="0.75"/>
<line x1="135.64" y1="215.51" x2="135.64" y2="213.24" stroke="#8a9a2a" stroke-width="0.75"/>
<line x1="134.24" y1="213.24" x2="137.04" y2="213.24" stroke="#8a9a2a" stroke-width="0.75"/>
<line x1="151.78" y1="220.12" x2="151.78" y2="217.85" stroke="#8a9a2a" stroke-width="0.75"/>
<line x1="150.38" y1="217.85" x2="153.18" y2="217.85" stroke="#8a9a2a" stroke-width="0.75"/>
<line x1="167.92" y1="212.03" x2="167.92" y2="209.00" stroke="#8a9a2a" stroke-width="0.75"/>
<line x1="166.52" y1="209.00" x2="169.32" y2="209.00" stroke="#8a9a2a" stroke-width="0.75"/>
<line x1="184.06" y1="209.99" x2="184.06" y2="206.96" stroke="#8a9a2a" stroke-width="0.75"/>
<line x1="182.66" y1="206.96" x2="185.46" y2="206.96" stroke="#8a9a2a" stroke-width="0.75"/>
<line x1="200.20" y1="204.77" x2="200.20" y2="200.24" stroke="#8a9a2a" stroke-width="0.75"/>
<line x1="198.80" y1="200.24" x2="201.60" y2="200.24" stroke="#8a9a2a" stroke-width="0.75"/>
<line x1="216.34" y1="176.19" x2="216.34" y2="163.34" stroke="#8a9a2a" stroke-width="0.75"/>
<line x1="214.94" y1="163.34" x2="217.74" y2="163.34" stroke="#8a9a2a" stroke-width="0.75"/>
<line x1="232.48" y1="161.91" x2="232.48" y2="137.71" stroke="#8a9a2a" stroke-width="0.75"/>
<line x1="231.08" y1="137.71" x2="233.88" y2="137.71" stroke="#8a9a2a" stroke-width="0.75"/>
<polyline points="38.80,222.23 54.94,220.57 71.08,218.53 87.22,222.23 103.36,219.14 119.50,220.57 135.64,215.51 151.78,220.12 167.92,212.03 184.06,209.99 200.20,204.77 216.34,176.19 232.48,161.91" fill="none" stroke="#8a9a2a" stroke-width="1.3" stroke-linejoin="miter"/>
<circle cx="38.80" cy="222.23" r="1.8" fill="#8a9a2a"/>
<circle cx="54.94" cy="220.57" r="1.8" fill="#8a9a2a"/>
<circle cx="71.08" cy="218.53" r="1.8" fill="#8a9a2a"/>
<circle cx="87.22" cy="222.23" r="1.8" fill="#8a9a2a"/>
<circle cx="103.36" cy="219.14" r="1.8" fill="#8a9a2a"/>
<circle cx="119.50" cy="220.57" r="1.8" fill="#8a9a2a"/>
<circle cx="135.64" cy="215.51" r="1.8" fill="#8a9a2a"/>
<circle cx="151.78" cy="220.12" r="1.8" fill="#8a9a2a"/>
<circle cx="167.92" cy="212.03" r="1.8" fill="#8a9a2a"/>
<circle cx="184.06" cy="209.99" r="1.8" fill="#8a9a2a"/>
<circle cx="200.20" cy="204.77" r="1.8" fill="#8a9a2a"/>
<circle cx="216.34" cy="176.19" r="1.8" fill="#8a9a2a"/>
<circle cx="232.48" cy="161.91" r="1.8" fill="#8a9a2a"/>
<line x1="38.80" y1="221.18" x2="38.80" y2="220.42" stroke="#8e4a1c" stroke-width="0.75"/>
<line x1="37.40" y1="220.42" x2="40.20" y2="220.42" stroke="#8e4a1c" stroke-width="0.75"/>
<line x1="54.94" y1="218.53" x2="54.94" y2="217.40" stroke="#8e4a1c" stroke-width="0.75"/>
<line x1="53.54" y1="217.40" x2="56.34" y2="217.40" stroke="#8e4a1c" stroke-width="0.75"/>
<line x1="71.08" y1="217.47" x2="71.08" y2="215.96" stroke="#8e4a1c" stroke-width="0.75"/>
<line x1="69.68" y1="215.96" x2="72.48" y2="215.96" stroke="#8e4a1c" stroke-width="0.75"/>
<line x1="87.22" y1="221.03" x2="87.22" y2="219.89" stroke="#8e4a1c" stroke-width="0.75"/>
<line x1="85.82" y1="219.89" x2="88.62" y2="219.89" stroke="#8e4a1c" stroke-width="0.75"/>
<line x1="103.36" y1="216.49" x2="103.36" y2="214.98" stroke="#8e4a1c" stroke-width="0.75"/>
<line x1="101.96" y1="214.98" x2="104.76" y2="214.98" stroke="#8e4a1c" stroke-width="0.75"/>
<line x1="119.50" y1="216.87" x2="119.50" y2="215.36" stroke="#8e4a1c" stroke-width="0.75"/>
<line x1="118.10" y1="215.36" x2="120.90" y2="215.36" stroke="#8e4a1c" stroke-width="0.75"/>
<line x1="135.64" y1="212.41" x2="135.64" y2="210.14" stroke="#8e4a1c" stroke-width="0.75"/>
<line x1="134.24" y1="210.14" x2="137.04" y2="210.14" stroke="#8e4a1c" stroke-width="0.75"/>
<line x1="151.78" y1="210.97" x2="151.78" y2="208.70" stroke="#8e4a1c" stroke-width="0.75"/>
<line x1="150.38" y1="208.70" x2="153.18" y2="208.70" stroke="#8e4a1c" stroke-width="0.75"/>
<line x1="167.92" y1="207.27" x2="167.92" y2="204.24" stroke="#8e4a1c" stroke-width="0.75"/>
<line x1="166.52" y1="204.24" x2="169.32" y2="204.24" stroke="#8e4a1c" stroke-width="0.75"/>
<line x1="184.06" y1="208.85" x2="184.06" y2="205.83" stroke="#8e4a1c" stroke-width="0.75"/>
<line x1="182.66" y1="205.83" x2="185.46" y2="205.83" stroke="#8e4a1c" stroke-width="0.75"/>
<line x1="200.20" y1="189.12" x2="200.20" y2="184.59" stroke="#8e4a1c" stroke-width="0.75"/>
<line x1="198.80" y1="184.59" x2="201.60" y2="184.59" stroke="#8e4a1c" stroke-width="0.75"/>
<line x1="216.34" y1="183.38" x2="216.34" y2="175.82" stroke="#8e4a1c" stroke-width="0.75"/>
<line x1="214.94" y1="175.82" x2="217.74" y2="175.82" stroke="#8e4a1c" stroke-width="0.75"/>
<line x1="232.48" y1="157.97" x2="232.48" y2="142.85" stroke="#8e4a1c" stroke-width="0.75"/>
<line x1="231.08" y1="142.85" x2="233.88" y2="142.85" stroke="#8e4a1c" stroke-width="0.75"/>
<polyline points="38.80,221.18 54.94,218.53 71.08,217.47 87.22,221.03 103.36,216.49 119.50,216.87 135.64,212.41 151.78,210.97 167.92,207.27 184.06,208.85 200.20,189.12 216.34,183.38 232.48,157.97" fill="none" stroke="#8e4a1c" stroke-width="1.3" stroke-linejoin="miter"/>
<circle cx="38.80" cy="221.18" r="1.8" fill="#8e4a1c"/>
<circle cx="54.94" cy="218.53" r="1.8" fill="#8e4a1c"/>
<circle cx="71.08" cy="217.47" r="1.8" fill="#8e4a1c"/>
<circle cx="87.22" cy="221.03" r="1.8" fill="#8e4a1c"/>
<circle cx="103.36" cy="216.49" r="1.8" fill="#8e4a1c"/>
<circle cx="119.50" cy="216.87" r="1.8" fill="#8e4a1c"/>
<circle cx="135.64" cy="212.41" r="1.8" fill="#8e4a1c"/>
<circle cx="151.78" cy="210.97" r="1.8" fill="#8e4a1c"/>
<circle cx="167.92" cy="207.27" r="1.8" fill="#8e4a1c"/>
<circle cx="184.06" cy="208.85" r="1.8" fill="#8e4a1c"/>
<circle cx="200.20" cy="189.12" r="1.8" fill="#8e4a1c"/>
<circle cx="216.34" cy="183.38" r="1.8" fill="#8e4a1c"/>
<circle cx="232.48" cy="157.97" r="1.8" fill="#8e4a1c"/>
<line x1="38.80" y1="222.61" x2="38.80" y2="221.86" stroke="#8a8a8a" stroke-width="0.75"/>
<line x1="37.40" y1="221.86" x2="40.20" y2="221.86" stroke="#8a8a8a" stroke-width="0.75"/>
<line x1="54.94" y1="219.14" x2="54.94" y2="217.62" stroke="#8a8a8a" stroke-width="0.75"/>
<line x1="53.54" y1="217.62" x2="56.34" y2="217.62" stroke="#8a8a8a" stroke-width="0.75"/>
<line x1="71.08" y1="216.11" x2="71.08" y2="213.84" stroke="#8a8a8a" stroke-width="0.75"/>
<line x1="69.68" y1="213.84" x2="72.48" y2="213.84" stroke="#8a8a8a" stroke-width="0.75"/>
<line x1="87.22" y1="220.57" x2="87.22" y2="219.06" stroke="#8a8a8a" stroke-width="0.75"/>
<line x1="85.82" y1="219.06" x2="88.62" y2="219.06" stroke="#8a8a8a" stroke-width="0.75"/>
<line x1="103.36" y1="213.39" x2="103.36" y2="211.88" stroke="#8a8a8a" stroke-width="0.75"/>
<line x1="101.96" y1="211.88" x2="104.76" y2="211.88" stroke="#8a8a8a" stroke-width="0.75"/>
<line x1="119.50" y1="207.87" x2="119.50" y2="204.85" stroke="#8a8a8a" stroke-width="0.75"/>
<line x1="118.10" y1="204.85" x2="120.90" y2="204.85" stroke="#8a8a8a" stroke-width="0.75"/>
<line x1="135.64" y1="210.29" x2="135.64" y2="208.78" stroke="#8a8a8a" stroke-width="0.75"/>
<line x1="134.24" y1="208.78" x2="137.04" y2="208.78" stroke="#8a8a8a" stroke-width="0.75"/>
<line x1="151.78" y1="205.38" x2="151.78" y2="203.11" stroke="#8a8a8a" stroke-width="0.75"/>
<line x1="150.38" y1="203.11" x2="153.18" y2="203.11" stroke="#8a8a8a" stroke-width="0.75"/>
<line x1="167.92" y1="202.20" x2="167.92" y2="197.66" stroke="#8a8a8a" stroke-width="0.75"/>
<line x1="166.52" y1="197.66" x2="169.32" y2="197.66" stroke="#8a8a8a" stroke-width="0.75"/>
<line x1="184.06" y1="194.19" x2="184.06" y2="187.38" stroke="#8a8a8a" stroke-width="0.75"/>
<line x1="182.66" y1="187.38" x2="185.46" y2="187.38" stroke="#8a8a8a" stroke-width="0.75"/>
<line x1="200.20" y1="164.33" x2="200.20" y2="147.69" stroke="#8a8a8a" stroke-width="0.75"/>
<line x1="198.80" y1="147.69" x2="201.60" y2="147.69" stroke="#8a8a8a" stroke-width="0.75"/>
<polyline points="38.80,222.61 54.94,219.14 71.08,216.11 87.22,220.57 103.36,213.39 119.50,207.87 135.64,210.29 151.78,205.38 167.92,202.20 184.06,194.19 200.20,164.33" fill="none" stroke="#8a8a8a" stroke-width="1.3" stroke-linejoin="miter"/>
<circle cx="38.80" cy="222.61" r="1.8" fill="#8a8a8a"/>
<circle cx="54.94" cy="219.14" r="1.8" fill="#8a8a8a"/>
<circle cx="71.08" cy="216.11" r="1.8" fill="#8a8a8a"/>
<circle cx="87.22" cy="220.57" r="1.8" fill="#8a8a8a"/>
<circle cx="103.36" cy="213.39" r="1.8" fill="#8a8a8a"/>
<circle cx="119.50" cy="207.87" r="1.8" fill="#8a8a8a"/>
<circle cx="135.64" cy="210.29" r="1.8" fill="#8a8a8a"/>
<circle cx="151.78" cy="205.38" r="1.8" fill="#8a8a8a"/>
<circle cx="167.92" cy="202.20" r="1.8" fill="#8a8a8a"/>
<circle cx="184.06" cy="194.19" r="1.8" fill="#8a8a8a"/>
<circle cx="200.20" cy="164.33" r="1.8" fill="#8a8a8a"/>
<line x1="38.80" y1="224.28" x2="38.80" y2="223.52" stroke="#000" stroke-width="0.75"/>
<line x1="37.40" y1="223.52" x2="40.20" y2="223.52" stroke="#000" stroke-width="0.75"/>
<line x1="54.94" y1="221.63" x2="54.94" y2="220.12" stroke="#000" stroke-width="0.75"/>
<line x1="53.54" y1="220.12" x2="56.34" y2="220.12" stroke="#000" stroke-width="0.75"/>
<line x1="71.08" y1="216.11" x2="71.08" y2="213.09" stroke="#000" stroke-width="0.75"/>
<line x1="69.68" y1="213.09" x2="72.48" y2="213.09" stroke="#000" stroke-width="0.75"/>
<line x1="87.22" y1="218.98" x2="87.22" y2="217.47" stroke="#000" stroke-width="0.75"/>
<line x1="85.82" y1="217.47" x2="88.62" y2="217.47" stroke="#000" stroke-width="0.75"/>
<line x1="103.36" y1="213.99" x2="103.36" y2="212.10" stroke="#000" stroke-width="0.75"/>
<line x1="101.96" y1="212.10" x2="104.76" y2="212.10" stroke="#000" stroke-width="0.75"/>
<line x1="119.50" y1="209.31" x2="119.50" y2="204.77" stroke="#000" stroke-width="0.75"/>
<line x1="118.10" y1="204.77" x2="120.90" y2="204.77" stroke="#000" stroke-width="0.75"/>
<line x1="135.64" y1="210.37" x2="135.64" y2="208.48" stroke="#000" stroke-width="0.75"/>
<line x1="134.24" y1="208.48" x2="137.04" y2="208.48" stroke="#000" stroke-width="0.75"/>
<line x1="151.78" y1="203.79" x2="151.78" y2="200.76" stroke="#000" stroke-width="0.75"/>
<line x1="150.38" y1="200.76" x2="153.18" y2="200.76" stroke="#000" stroke-width="0.75"/>
<line x1="167.92" y1="187.99" x2="167.92" y2="180.43" stroke="#000" stroke-width="0.75"/>
<line x1="166.52" y1="180.43" x2="169.32" y2="180.43" stroke="#000" stroke-width="0.75"/>
<line x1="184.06" y1="177.18" x2="184.06" y2="163.57" stroke="#000" stroke-width="0.75"/>
<line x1="182.66" y1="163.57" x2="185.46" y2="163.57" stroke="#000" stroke-width="0.75"/>
<line x1="200.20" y1="147.77" x2="200.20" y2="125.09" stroke="#000" stroke-width="0.75"/>
<line x1="198.80" y1="125.09" x2="201.60" y2="125.09" stroke="#000" stroke-width="0.75"/>
<polyline points="38.80,224.28 54.94,221.63 71.08,216.11 87.22,218.98 103.36,213.99 119.50,209.31 135.64,210.37 151.78,203.79 167.92,187.99 184.06,177.18 200.20,147.77" fill="none" stroke="#000" stroke-width="1.3" stroke-linejoin="miter"/>
<circle cx="38.80" cy="224.28" r="1.8" fill="#000"/>
<circle cx="54.94" cy="221.63" r="1.8" fill="#000"/>
<circle cx="71.08" cy="216.11" r="1.8" fill="#000"/>
<circle cx="87.22" cy="218.98" r="1.8" fill="#000"/>
<circle cx="103.36" cy="213.99" r="1.8" fill="#000"/>
<circle cx="119.50" cy="209.31" r="1.8" fill="#000"/>
<circle cx="135.64" cy="210.37" r="1.8" fill="#000"/>
<circle cx="151.78" cy="203.79" r="1.8" fill="#000"/>
<circle cx="167.92" cy="187.99" r="1.8" fill="#000"/>
<circle cx="184.06" cy="177.18" r="1.8" fill="#000"/>
<circle cx="200.20" cy="147.77" r="1.8" fill="#000"/>
<line x1="43.90" y1="123.90" x2="52.30" y2="123.90" stroke="#000" stroke-width="1.3"/>
<circle cx="48.10" cy="123.90" r="1.8" fill="#000"/>
<text x="0" y="2.50" font-size="6.95" font-weight="normal" text-anchor="start" fill="#111" transform="translate(55.60 123.90) scale(0.82 1)">PBS</text>
<line x1="43.90" y1="133.50" x2="52.30" y2="133.50" stroke="#8a8a8a" stroke-width="1.3"/>
<circle cx="48.10" cy="133.50" r="1.8" fill="#8a8a8a"/>
<text x="0" y="2.50" font-size="6.95" font-weight="normal" text-anchor="start" fill="#111" transform="translate(55.60 133.50) scale(0.82 1)">PBS LiNx</text>
<line x1="43.90" y1="143.30" x2="52.30" y2="143.30" stroke="#8e4a1c" stroke-width="1.3"/>
<circle cx="48.10" cy="143.30" r="1.8" fill="#8e4a1c"/>
<text x="0" y="2.50" font-size="6.95" font-weight="normal" text-anchor="start" fill="#111" transform="translate(55.60 143.30) scale(0.82 1)">Algel + OVA</text>
<line x1="43.90" y1="152.90" x2="52.30" y2="152.90" stroke="#8a9a2a" stroke-width="1.3"/>
<circle cx="48.10" cy="152.90" r="1.8" fill="#8a9a2a"/>
<text x="0" y="2.50" font-size="6.95" font-weight="normal" text-anchor="start" fill="#111" transform="translate(55.60 152.90) scale(0.82 1)">OVA LiNx</text>
<line x1="97.70" y1="123.90" x2="106.10" y2="123.90" stroke="#2a4f9c" stroke-width="1.3"/>
<circle cx="101.90" cy="123.90" r="1.8" fill="#2a4f9c"/>
<text x="0" y="2.50" font-size="6.95" font-weight="normal" text-anchor="start" fill="#111" transform="translate(109.70 123.90) scale(0.82 1)">D6 mOVA LNP</text>
<line x1="97.70" y1="133.50" x2="106.10" y2="133.50" stroke="#4a92f0" stroke-width="1.3"/>
<circle cx="101.90" cy="133.50" r="1.8" fill="#4a92f0"/>
<text x="0" y="2.50" font-size="6.95" font-weight="normal" text-anchor="start" fill="#111" transform="translate(109.70 133.50) scale(0.82 1)">C10 mOVA LiNx</text>
<line x1="97.70" y1="143.30" x2="106.10" y2="143.30" stroke="#ff2d1f" stroke-width="1.3"/>
<circle cx="101.90" cy="143.30" r="1.8" fill="#ff2d1f"/>
<text x="0" y="2.50" font-size="6.95" font-weight="normal" text-anchor="start" fill="#111" transform="translate(109.70 143.30) scale(0.82 1)">D6 mOVA LiNx</text>
<line x1="97.70" y1="152.90" x2="106.10" y2="152.90" stroke="#3b9a37" stroke-width="1.3"/>
<circle cx="101.90" cy="152.90" r="1.8" fill="#3b9a37"/>
<text x="0" y="2.50" font-size="6.95" font-weight="normal" text-anchor="start" fill="#111" transform="translate(109.70 152.90) scale(0.82 1)">F5 mOVA LiNx</text>
<text x="0" y="3.24" font-size="9.00" font-weight="bold" text-anchor="start" fill="#000" transform="translate(252.60 7.26) scale(1 1)">c</text>
<line x1="287.50" y1="1.80" x2="287.50" y2="105.60" stroke="#000" stroke-width="1.2"/>
<line x1="283.50" y1="105.50" x2="287.50" y2="105.50" stroke="#000" stroke-width="1.2"/>
<line x1="283.50" y1="85.50" x2="287.50" y2="85.50" stroke="#000" stroke-width="1.2"/>
<line x1="283.50" y1="65.50" x2="287.50" y2="65.50" stroke="#000" stroke-width="1.2"/>
<line x1="283.50" y1="45.50" x2="287.50" y2="45.50" stroke="#000" stroke-width="1.2"/>
<line x1="283.50" y1="26.50" x2="287.50" y2="26.50" stroke="#000" stroke-width="1.2"/>
<line x1="283.50" y1="6.50" x2="287.50" y2="6.50" stroke="#000" stroke-width="1.2"/>
<line x1="285.00" y1="95.50" x2="287.50" y2="95.50" stroke="#000" stroke-width="1.2"/>
<line x1="285.00" y1="75.50" x2="287.50" y2="75.50" stroke="#000" stroke-width="1.2"/>
<line x1="285.00" y1="55.50" x2="287.50" y2="55.50" stroke="#000" stroke-width="1.2"/>
<line x1="285.00" y1="36.50" x2="287.50" y2="36.50" stroke="#000" stroke-width="1.2"/>
<line x1="285.00" y1="16.50" x2="287.50" y2="16.50" stroke="#000" stroke-width="1.2"/>
<text x="0" y="2.54" font-size="7.07" font-weight="bold" text-anchor="end" fill="#000" transform="translate(282.30 105.10) scale(0.92 1)">0</text>
<text x="0" y="2.54" font-size="7.07" font-weight="bold" text-anchor="end" fill="#000" transform="translate(282.30 85.36) scale(0.92 1)">20</text>
<text x="0" y="2.54" font-size="7.07" font-weight="bold" text-anchor="end" fill="#000" transform="translate(282.30 65.62) scale(0.92 1)">40</text>
<text x="0" y="2.54" font-size="7.07" font-weight="bold" text-anchor="end" fill="#000" transform="translate(282.30 45.88) scale(0.92 1)">60</text>
<text x="0" y="2.54" font-size="7.07" font-weight="bold" text-anchor="end" fill="#000" transform="translate(282.30 26.14) scale(0.92 1)">80</text>
<text x="0" y="2.54" font-size="7.07" font-weight="bold" text-anchor="end" fill="#000" transform="translate(282.30 6.40) scale(0.92 1)">100</text>
<line x1="286.90" y1="105.50" x2="515.90" y2="105.50" stroke="#000" stroke-width="1.3"/>
<line x1="287.50" y1="105.10" x2="287.50" y2="109.60" stroke="#000" stroke-width="1.2"/>
<text x="0" y="2.54" font-size="7.07" font-weight="bold" text-anchor="middle" fill="#000" transform="translate(287.50 114.50) scale(0.92 1)">20</text>
<line x1="312.85" y1="105.10" x2="312.85" y2="109.60" stroke="#000" stroke-width="1.2"/>
<text x="0" y="2.54" font-size="7.07" font-weight="bold" text-anchor="middle" fill="#000" transform="translate(312.85 114.50) scale(0.92 1)">25</text>
<line x1="338.20" y1="105.10" x2="338.20" y2="109.60" stroke="#000" stroke-width="1.2"/>
<text x="0" y="2.54" font-size="7.07" font-weight="bold" text-anchor="middle" fill="#000" transform="translate(338.20 114.50) scale(0.92 1)">30</text>
<line x1="363.55" y1="105.10" x2="363.55" y2="109.60" stroke="#000" stroke-width="1.2"/>
<text x="0" y="2.54" font-size="7.07" font-weight="bold" text-anchor="middle" fill="#000" transform="translate(363.55 114.50) scale(0.92 1)">35</text>
<line x1="388.90" y1="105.10" x2="388.90" y2="109.60" stroke="#000" stroke-width="1.2"/>
<text x="0" y="2.54" font-size="7.07" font-weight="bold" text-anchor="middle" fill="#000" transform="translate(388.90 114.50) scale(0.92 1)">40</text>
<line x1="414.25" y1="105.10" x2="414.25" y2="109.60" stroke="#000" stroke-width="1.2"/>
<text x="0" y="2.54" font-size="7.07" font-weight="bold" text-anchor="middle" fill="#000" transform="translate(414.25 114.50) scale(0.92 1)">45</text>
<line x1="439.60" y1="105.10" x2="439.60" y2="109.60" stroke="#000" stroke-width="1.2"/>
<text x="0" y="2.54" font-size="7.07" font-weight="bold" text-anchor="middle" fill="#000" transform="translate(439.60 114.50) scale(0.92 1)">50</text>
<line x1="464.95" y1="105.10" x2="464.95" y2="109.60" stroke="#000" stroke-width="1.2"/>
<text x="0" y="2.54" font-size="7.07" font-weight="bold" text-anchor="middle" fill="#000" transform="translate(464.95 114.50) scale(0.92 1)">55</text>
<line x1="490.30" y1="105.10" x2="490.30" y2="109.60" stroke="#000" stroke-width="1.2"/>
<text x="0" y="2.54" font-size="7.07" font-weight="bold" text-anchor="middle" fill="#000" transform="translate(490.30 114.50) scale(0.92 1)">60</text>
<line x1="515.65" y1="105.10" x2="515.65" y2="109.60" stroke="#000" stroke-width="1.2"/>
<text x="0" y="2.54" font-size="7.07" font-weight="bold" text-anchor="middle" fill="#000" transform="translate(515.65 114.50) scale(0.92 1)">65</text>
<line x1="300.18" y1="105.10" x2="300.18" y2="108.00" stroke="#000" stroke-width="1.2"/>
<line x1="325.52" y1="105.10" x2="325.52" y2="108.00" stroke="#000" stroke-width="1.2"/>
<line x1="350.88" y1="105.10" x2="350.88" y2="108.00" stroke="#000" stroke-width="1.2"/>
<line x1="376.23" y1="105.10" x2="376.23" y2="108.00" stroke="#000" stroke-width="1.2"/>
<line x1="401.57" y1="105.10" x2="401.57" y2="108.00" stroke="#000" stroke-width="1.2"/>
<line x1="426.93" y1="105.10" x2="426.93" y2="108.00" stroke="#000" stroke-width="1.2"/>
<line x1="452.27" y1="105.10" x2="452.27" y2="108.00" stroke="#000" stroke-width="1.2"/>
<line x1="477.62" y1="105.10" x2="477.62" y2="108.00" stroke="#000" stroke-width="1.2"/>
<line x1="502.98" y1="105.10" x2="502.98" y2="108.00" stroke="#000" stroke-width="1.2"/>
<line x1="522.90" y1="105.50" x2="541.40" y2="105.50" stroke="#000" stroke-width="1.3"/>
<line x1="522.90" y1="105.10" x2="522.90" y2="109.60" stroke="#000" stroke-width="1.2"/>
<line x1="541.40" y1="105.10" x2="541.40" y2="109.60" stroke="#000" stroke-width="1.2"/>
<line x1="527.50" y1="105.10" x2="527.50" y2="108.00" stroke="#000" stroke-width="1.2"/>
<line x1="532.10" y1="105.10" x2="532.10" y2="108.00" stroke="#000" stroke-width="1.2"/>
<line x1="536.80" y1="105.10" x2="536.80" y2="108.00" stroke="#000" stroke-width="1.2"/>
<text x="0" y="2.54" font-size="7.07" font-weight="bold" text-anchor="middle" fill="#000" transform="translate(541.40 114.50) scale(0.92 1)">100</text>
<text x="0" y="3.09" font-size="8.59" font-weight="bold" text-anchor="middle" fill="#000" transform="translate(266.40 53.30) rotate(-90) scale(0.92 1)">Percent Survival</text>
<text x="0" y="2.62" font-size="7.28" font-weight="bold" text-anchor="middle" fill="#000" transform="translate(414.30 124.30) scale(0.92 1)">Days Post-Tumor Inoculation</text>
<polyline points="287.50,6.40 358.48,6.40 358.48,18.74 409.18,18.74 409.18,31.07 429.46,31.07 429.46,43.41 439.60,43.41 439.60,55.75 515.65,55.75" fill="none" stroke="#ff2d1f" stroke-width="1.3" stroke-linejoin="miter"/>
<line x1="522.90" y1="55.75" x2="541.40" y2="55.75" stroke="#ff2d1f" stroke-width="1.15"/>
<line x1="541.40" y1="55.75" x2="541.40" y2="54.15" stroke="#ff2d1f" stroke-width="0.9"/>
<polyline points="287.50,6.40 333.13,6.40 333.13,18.74 348.34,18.74 348.34,43.41 358.48,43.41 358.48,55.75 378.76,55.75 378.76,80.42 409.18,80.42 409.18,92.76 515.65,92.76" fill="none" stroke="#4a92f0" stroke-width="1.3" stroke-linejoin="miter"/>
<line x1="522.90" y1="92.76" x2="541.40" y2="92.76" stroke="#4a92f0" stroke-width="1.15"/>
<line x1="541.40" y1="92.76" x2="541.40" y2="91.16" stroke="#4a92f0" stroke-width="0.9"/>
<polyline points="287.50,6.40 307.78,6.40 307.78,18.74 328.06,18.74 328.06,31.07 333.13,31.07 333.13,43.41 338.20,43.41 338.20,55.75 343.27,55.75 343.27,68.09 363.55,68.09 363.55,80.42 414.25,80.42 414.25,92.76 515.65,92.76" fill="none" stroke="#3b9a37" stroke-width="1.3" stroke-linejoin="miter"/>
<line x1="522.90" y1="92.76" x2="541.40" y2="92.76" stroke="#3b9a37" stroke-width="1.15"/>
<line x1="541.40" y1="92.76" x2="541.40" y2="91.16" stroke="#3b9a37" stroke-width="0.9"/>
<polyline points="287.50,6.40 328.06,6.40 328.06,18.74 348.34,18.74 348.34,31.07 358.48,31.07 358.48,43.41 373.69,43.41 373.69,55.75 378.76,55.75 378.76,80.42 399.04,80.42 399.04,92.76 515.65,92.76" fill="none" stroke="#2a4f9c" stroke-width="1.3" stroke-linejoin="miter"/>
<line x1="522.90" y1="92.76" x2="541.40" y2="92.76" stroke="#2a4f9c" stroke-width="1.15"/>
<line x1="541.40" y1="92.76" x2="541.40" y2="91.16" stroke="#2a4f9c" stroke-width="0.9"/>
<polyline points="287.50,6.40 328.06,6.40 328.06,31.07 333.13,31.07 333.13,55.75 373.69,55.75 373.69,80.42 378.76,80.42 378.76,92.76 383.83,92.76 383.83,105.10 383.83,105.10" fill="none" stroke="#8a8a8a" stroke-width="1.3" stroke-linejoin="miter"/>
<polyline points="287.50,6.40 338.20,6.40 338.20,18.74 343.27,18.74 343.27,31.07 358.48,31.07 358.48,43.41 363.55,43.41 363.55,55.75 373.69,55.75 373.69,68.09 378.76,68.09 378.76,105.10 378.76,105.10" fill="none" stroke="#8e4a1c" stroke-width="1.3" stroke-linejoin="miter"/>
<polyline points="287.50,6.40 322.99,6.40 322.99,18.74 328.06,18.74 328.06,31.07 358.48,31.07 358.48,43.41 368.62,43.41 368.62,55.75 378.76,55.75 378.76,92.76 393.97,92.76 393.97,105.10 393.97,105.10" fill="none" stroke="#8a9a2a" stroke-width="1.3" stroke-linejoin="miter"/>
<polyline points="287.50,6.40 302.71,6.40 302.71,18.74 307.78,18.74 307.78,31.07 328.06,31.07 328.06,43.41 333.13,43.41 333.13,55.75 353.41,55.75 353.41,68.09 358.48,68.09 358.48,80.42 363.55,80.42 363.55,92.76 368.62,92.76 368.62,105.10 368.62,105.10" fill="none" stroke="#000" stroke-width="1.3" stroke-linejoin="miter"/>
<text x="0" y="3.17" font-size="8.80" font-weight="bold" text-anchor="middle" fill="#111" transform="translate(493.30 63.50) scale(0.92 1)">Tumor free 4/8 (50%)</text>
<text x="0" y="2.25" font-size="6.25" font-weight="bold" text-anchor="middle" fill="#000" transform="translate(629.80 8.80) scale(0.92 1)">Median survival (d)</text>
<line x1="559.70" y1="24.30" x2="567.90" y2="24.30" stroke="#000" stroke-width="1.1"/>
<line x1="563.80" y1="22.80" x2="563.80" y2="24.30" stroke="#000" stroke-width="1.0"/>
<text x="0" y="2.55" font-size="7.08" font-weight="normal" text-anchor="start" fill="#111" transform="translate(571.60 24.30) scale(0.84 1)">PBS</text>
<text x="0" y="2.57" font-size="7.14" font-weight="normal" text-anchor="middle" fill="#111" transform="translate(630.40 24.30) scale(0.84 1)">31</text>
<line x1="559.70" y1="34.31" x2="567.90" y2="34.31" stroke="#8a8a8a" stroke-width="1.1"/>
<line x1="563.80" y1="32.81" x2="563.80" y2="34.31" stroke="#8a8a8a" stroke-width="1.0"/>
<text x="0" y="2.55" font-size="7.08" font-weight="normal" text-anchor="start" fill="#111" transform="translate(571.60 34.31) scale(0.84 1)">PBS LiNx</text>
<text x="0" y="2.57" font-size="7.14" font-weight="normal" text-anchor="middle" fill="#111" transform="translate(630.40 34.31) scale(0.84 1)">33</text>
<line x1="559.70" y1="44.32" x2="567.90" y2="44.32" stroke="#8a9a2a" stroke-width="1.1"/>
<line x1="563.80" y1="42.82" x2="563.80" y2="44.32" stroke="#8a9a2a" stroke-width="1.0"/>
<text x="0" y="2.55" font-size="7.08" font-weight="normal" text-anchor="start" fill="#111" transform="translate(571.60 44.32) scale(0.84 1)">OVA LiNx</text>
<text x="0" y="2.57" font-size="7.14" font-weight="normal" text-anchor="middle" fill="#111" transform="translate(630.40 44.32) scale(0.84 1)">37</text>
<line x1="559.70" y1="54.33" x2="567.90" y2="54.33" stroke="#8e4a1c" stroke-width="1.1"/>
<line x1="563.80" y1="52.83" x2="563.80" y2="54.33" stroke="#8e4a1c" stroke-width="1.0"/>
<text x="0" y="2.55" font-size="7.08" font-weight="normal" text-anchor="start" fill="#111" transform="translate(571.60 54.33) scale(0.84 1)">Algel + OVA</text>
<text x="0" y="2.57" font-size="7.14" font-weight="normal" text-anchor="middle" fill="#111" transform="translate(630.40 54.33) scale(0.84 1)">36</text>
<line x1="559.70" y1="64.34" x2="567.90" y2="64.34" stroke="#2a4f9c" stroke-width="1.1"/>
<line x1="563.80" y1="62.84" x2="563.80" y2="64.34" stroke="#2a4f9c" stroke-width="1.0"/>
<text x="0" y="2.55" font-size="7.08" font-weight="normal" text-anchor="start" fill="#111" transform="translate(571.60 64.34) scale(0.84 1)">D6 mOVA LNP</text>
<text x="0" y="2.57" font-size="7.14" font-weight="normal" text-anchor="middle" fill="#111" transform="translate(630.40 64.34) scale(0.84 1)">37.5</text>
<line x1="559.70" y1="74.35" x2="567.90" y2="74.35" stroke="#4a92f0" stroke-width="1.1"/>
<line x1="563.80" y1="72.85" x2="563.80" y2="74.35" stroke="#4a92f0" stroke-width="1.0"/>
<text x="0" y="2.55" font-size="7.08" font-weight="normal" text-anchor="start" fill="#111" transform="translate(571.60 74.35) scale(0.84 1)">C10 mOVA LiNx</text>
<text x="0" y="2.57" font-size="7.14" font-weight="normal" text-anchor="middle" fill="#111" transform="translate(630.40 74.35) scale(0.84 1)">36</text>
<line x1="559.70" y1="84.36" x2="567.90" y2="84.36" stroke="#ff2d1f" stroke-width="1.1"/>
<line x1="563.80" y1="82.86" x2="563.80" y2="84.36" stroke="#ff2d1f" stroke-width="1.0"/>
<text x="0" y="2.55" font-size="7.08" font-weight="normal" text-anchor="start" fill="#111" transform="translate(571.60 84.36) scale(0.84 1)">D6 mOVA LiNx</text>
<text x="0" y="2.57" font-size="7.14" font-weight="normal" text-anchor="middle" fill="#111" transform="translate(630.40 84.36) scale(0.84 1)">75</text>
<line x1="559.70" y1="94.37" x2="567.90" y2="94.37" stroke="#3b9a37" stroke-width="1.1"/>
<line x1="563.80" y1="92.87" x2="563.80" y2="94.37" stroke="#3b9a37" stroke-width="1.0"/>
<text x="0" y="2.55" font-size="7.08" font-weight="normal" text-anchor="start" fill="#111" transform="translate(571.60 94.37) scale(0.84 1)">F5 mOVA LiNx</text>
<text x="0" y="2.57" font-size="7.14" font-weight="normal" text-anchor="middle" fill="#111" transform="translate(630.40 94.37) scale(0.84 1)">30.5</text>
<polyline points="638.00,32.70 642.00,32.70 642.00,83.80 638.00,83.80" fill="none" stroke="#000" stroke-width="0.9" stroke-linejoin="miter"/>
<text x="0" y="2.47" font-size="6.85" font-weight="normal" text-anchor="middle" fill="#000" transform="translate(649.40 57.20) rotate(90) scale(0.92 1)"><tspan font-style="italic">P</tspan>=0.002</text>
<text x="0" y="3.13" font-size="8.70" font-weight="bold" text-anchor="middle" fill="#000" transform="translate(654.30 56.20) rotate(90) scale(0.92 1)">***</text>
<polyline points="651.30,81.70 664.60,81.70 664.60,69.50 658.40,69.50 658.40,61.30" fill="none" stroke="#000" stroke-width="0.9" stroke-linejoin="miter"/>
<text x="0" y="2.47" font-size="6.85" font-weight="normal" text-anchor="middle" fill="#000" transform="translate(669.20 75.60) rotate(90) scale(0.92 1)"><tspan font-style="italic">P</tspan>=0.05</text>
<text x="0" y="3.13" font-size="8.70" font-weight="bold" text-anchor="middle" fill="#000" transform="translate(675.80 76.60) rotate(90) scale(0.92 1)">*</text>
<polyline points="651.30,83.80 656.50,83.80 656.50,94.00 652.30,94.00" fill="none" stroke="#000" stroke-width="0.9" stroke-linejoin="miter"/>
<text x="0" y="2.47" font-size="6.85" font-weight="normal" text-anchor="middle" fill="#000" transform="translate(660.70 93.20) rotate(90) scale(0.92 1)"><tspan font-style="italic">P</tspan>=0.05</text>
<text x="0" y="3.13" font-size="8.70" font-weight="bold" text-anchor="middle" fill="#000" transform="translate(667.60 94.40) rotate(90) scale(0.92 1)">*</text>
<text x="0" y="3.24" font-size="9.00" font-weight="bold" text-anchor="start" fill="#000" transform="translate(275.10 147.86) scale(1 1)">d</text>
<text x="0" y="2.29" font-size="6.36" font-weight="bold" text-anchor="middle" fill="#000" transform="translate(352.60 148.40) scale(0.92 1)">PBS</text>
<line x1="306.50" y1="160.20" x2="306.50" y2="221.70" stroke="#000" stroke-width="1.0"/>
<line x1="303.50" y1="221.50" x2="306.50" y2="221.50" stroke="#000" stroke-width="1.0"/>
<line x1="303.50" y1="200.50" x2="306.50" y2="200.50" stroke="#000" stroke-width="1.0"/>
<line x1="303.50" y1="180.50" x2="306.50" y2="180.50" stroke="#000" stroke-width="1.0"/>
<line x1="303.50" y1="160.50" x2="306.50" y2="160.50" stroke="#000" stroke-width="1.0"/>
<line x1="304.70" y1="211.50" x2="306.50" y2="211.50" stroke="#000" stroke-width="1.0"/>
<line x1="304.70" y1="190.50" x2="306.50" y2="190.50" stroke="#000" stroke-width="1.0"/>
<line x1="304.70" y1="170.50" x2="306.50" y2="170.50" stroke="#000" stroke-width="1.0"/>
<text x="0" y="2.43" font-size="6.74" font-weight="bold" text-anchor="end" fill="#000" transform="translate(302.70 221.20) scale(0.92 1)">0</text>
<text x="0" y="2.43" font-size="6.74" font-weight="bold" text-anchor="end" fill="#000" transform="translate(302.70 200.87) scale(0.92 1)">500</text>
<text x="0" y="2.43" font-size="6.74" font-weight="bold" text-anchor="end" fill="#000" transform="translate(302.70 180.53) scale(0.92 1)">1000</text>
<text x="0" y="2.43" font-size="6.74" font-weight="bold" text-anchor="end" fill="#000" transform="translate(302.70 160.20) scale(0.92 1)">1500</text>
<line x1="306.00" y1="221.50" x2="397.79" y2="221.50" stroke="#000" stroke-width="1.0"/>
<line x1="312.50" y1="221.50" x2="312.50" y2="224.30" stroke="#000" stroke-width="1.0"/>
<text x="0" y="2.35" font-size="6.52" font-weight="bold" text-anchor="middle" fill="#000" transform="translate(312.80 228.30) scale(0.92 1)">10</text>
<line x1="324.50" y1="221.50" x2="324.50" y2="224.30" stroke="#000" stroke-width="1.0"/>
<text x="0" y="2.35" font-size="6.52" font-weight="bold" text-anchor="middle" fill="#000" transform="translate(324.87 228.30) scale(0.92 1)">15</text>
<line x1="336.50" y1="221.50" x2="336.50" y2="224.30" stroke="#000" stroke-width="1.0"/>
<text x="0" y="2.35" font-size="6.52" font-weight="bold" text-anchor="middle" fill="#000" transform="translate(336.94 228.30) scale(0.92 1)">20</text>
<line x1="349.50" y1="221.50" x2="349.50" y2="224.30" stroke="#000" stroke-width="1.0"/>
<text x="0" y="2.35" font-size="6.52" font-weight="bold" text-anchor="middle" fill="#000" transform="translate(349.01 228.30) scale(0.92 1)">25</text>
<line x1="361.50" y1="221.50" x2="361.50" y2="224.30" stroke="#000" stroke-width="1.0"/>
<text x="0" y="2.35" font-size="6.52" font-weight="bold" text-anchor="middle" fill="#000" transform="translate(361.08 228.30) scale(0.92 1)">30</text>
<line x1="373.50" y1="221.50" x2="373.50" y2="224.30" stroke="#000" stroke-width="1.0"/>
<text x="0" y="2.35" font-size="6.52" font-weight="bold" text-anchor="middle" fill="#000" transform="translate(373.15 228.30) scale(0.92 1)">35</text>
<line x1="385.50" y1="221.50" x2="385.50" y2="224.30" stroke="#000" stroke-width="1.0"/>
<text x="0" y="2.35" font-size="6.52" font-weight="bold" text-anchor="middle" fill="#000" transform="translate(385.22 228.30) scale(0.92 1)">40</text>
<line x1="397.50" y1="221.50" x2="397.50" y2="224.30" stroke="#000" stroke-width="1.0"/>
<text x="0" y="2.35" font-size="6.52" font-weight="bold" text-anchor="middle" fill="#000" transform="translate(397.29 228.30) scale(0.92 1)">45</text>
<line x1="318.50" y1="221.50" x2="318.50" y2="223.20" stroke="#000" stroke-width="1.0"/>
<line x1="330.50" y1="221.50" x2="330.50" y2="223.20" stroke="#000" stroke-width="1.0"/>
<line x1="342.50" y1="221.50" x2="342.50" y2="223.20" stroke="#000" stroke-width="1.0"/>
<line x1="355.50" y1="221.50" x2="355.50" y2="223.20" stroke="#000" stroke-width="1.0"/>
<line x1="367.50" y1="221.50" x2="367.50" y2="223.20" stroke="#000" stroke-width="1.0"/>
<line x1="379.50" y1="221.50" x2="379.50" y2="223.20" stroke="#000" stroke-width="1.0"/>
<line x1="391.50" y1="221.50" x2="391.50" y2="223.20" stroke="#000" stroke-width="1.0"/>
<text x="0" y="2.27" font-size="6.30" font-weight="bold" text-anchor="middle" fill="#000" transform="translate(284.60 190.20) rotate(-90) scale(0.92 1)">Tumor Volume (mm<tspan font-size="3.8" dy="-2">3</tspan><tspan dy="2">)</tspan></text>
<text x="0" y="2.25" font-size="6.25" font-weight="bold" text-anchor="middle" fill="#000" transform="translate(352.80 237.00) scale(0.92 1)">Days Post-Tumor Inoculation</text>
<polyline points="307.97,215.91 312.80,217.54 317.63,213.88 322.46,211.03 327.28,211.85 332.11,205.75 336.94,184.60 339.84,160.20" fill="none" stroke="#1a1a1a" stroke-width="1.0" stroke-linejoin="miter" stroke-linejoin="round"/>
<polyline points="307.97,214.69 312.80,216.32 317.63,211.03 322.46,202.49 327.28,209.81 332.11,209.00 336.94,196.80 341.77,172.40 344.18,160.20" fill="none" stroke="#1a1a1a" stroke-width="1.0" stroke-linejoin="miter" stroke-linejoin="round"/>
<polyline points="307.97,213.88 312.80,215.10 317.63,212.25 322.46,209.00 327.28,211.03 332.11,200.87 336.94,198.83 341.77,200.05 346.60,180.53 351.42,164.27 353.36,160.20" fill="none" stroke="#1a1a1a" stroke-width="1.0" stroke-linejoin="miter" stroke-linejoin="round"/>
<polyline points="307.97,216.32 312.80,217.95 317.63,215.10 322.46,213.07 327.28,213.07 332.11,206.97 336.94,202.90 341.77,188.67 346.60,176.47 351.42,172.40 355.05,160.20" fill="none" stroke="#1a1a1a" stroke-width="1.0" stroke-linejoin="miter" stroke-linejoin="round"/>
<polyline points="307.97,215.51 312.80,217.13 317.63,214.69 322.46,213.88 327.28,212.25 332.11,209.00 336.94,204.93 341.77,200.87 346.60,192.73 351.42,184.60 356.25,176.47 361.08,166.30 363.15,160.20" fill="none" stroke="#1a1a1a" stroke-width="1.0" stroke-linejoin="miter" stroke-linejoin="round"/>
<polyline points="307.97,216.73 312.80,218.35 317.63,217.13 322.46,215.10 327.28,215.10 332.11,212.25 336.94,206.97 341.77,202.90 346.60,200.87 351.42,196.80 356.25,188.67 361.08,180.53 365.72,160.20" fill="none" stroke="#1a1a1a" stroke-width="1.0" stroke-linejoin="miter" stroke-linejoin="round"/>
<polyline points="307.97,215.10 312.80,217.95 317.63,216.32 322.46,219.17 327.28,213.07 332.11,217.13 336.94,209.00 341.77,204.93 346.60,200.87 351.42,198.83 356.25,194.77 361.08,180.53 365.91,174.43 370.74,164.27 372.35,160.20" fill="none" stroke="#1a1a1a" stroke-width="1.0" stroke-linejoin="miter" stroke-linejoin="round"/>
<polyline points="307.97,213.07 312.80,215.51 317.63,213.07 322.46,209.81 327.28,209.00 332.11,204.12 336.94,200.87 341.77,196.80 346.60,190.70 351.42,182.57 356.25,180.53 361.08,176.47 365.91,172.40 370.74,162.23 373.15,160.20" fill="none" stroke="#1a1a1a" stroke-width="1.0" stroke-linejoin="miter" stroke-linejoin="round"/>
<text x="0" y="2.29" font-size="6.36" font-weight="bold" text-anchor="middle" fill="#000" transform="translate(478.00 148.20) scale(0.92 1)">PBS LiNx</text>
<line x1="432.50" y1="160.00" x2="432.50" y2="221.50" stroke="#000" stroke-width="1.0"/>
<line x1="429.50" y1="221.50" x2="432.50" y2="221.50" stroke="#000" stroke-width="1.0"/>
<line x1="429.50" y1="200.50" x2="432.50" y2="200.50" stroke="#000" stroke-width="1.0"/>
<line x1="429.50" y1="180.50" x2="432.50" y2="180.50" stroke="#000" stroke-width="1.0"/>
<line x1="429.50" y1="160.50" x2="432.50" y2="160.50" stroke="#000" stroke-width="1.0"/>
<line x1="430.70" y1="210.50" x2="432.50" y2="210.50" stroke="#000" stroke-width="1.0"/>
<line x1="430.70" y1="190.50" x2="432.50" y2="190.50" stroke="#000" stroke-width="1.0"/>
<line x1="430.70" y1="170.50" x2="432.50" y2="170.50" stroke="#000" stroke-width="1.0"/>
<text x="0" y="2.43" font-size="6.74" font-weight="bold" text-anchor="end" fill="#000" transform="translate(428.70 221.00) scale(0.92 1)">0</text>
<text x="0" y="2.43" font-size="6.74" font-weight="bold" text-anchor="end" fill="#000" transform="translate(428.70 200.67) scale(0.92 1)">500</text>
<text x="0" y="2.43" font-size="6.74" font-weight="bold" text-anchor="end" fill="#000" transform="translate(428.70 180.33) scale(0.92 1)">1000</text>
<text x="0" y="2.43" font-size="6.74" font-weight="bold" text-anchor="end" fill="#000" transform="translate(428.70 160.00) scale(0.92 1)">1500</text>
<line x1="432.00" y1="221.50" x2="523.19" y2="221.50" stroke="#000" stroke-width="1.0"/>
<line x1="438.50" y1="221.50" x2="438.50" y2="224.30" stroke="#000" stroke-width="1.0"/>
<text x="0" y="2.35" font-size="6.52" font-weight="bold" text-anchor="middle" fill="#000" transform="translate(438.20 228.10) scale(0.92 1)">10</text>
<line x1="450.50" y1="221.50" x2="450.50" y2="224.30" stroke="#000" stroke-width="1.0"/>
<text x="0" y="2.35" font-size="6.52" font-weight="bold" text-anchor="middle" fill="#000" transform="translate(450.27 228.10) scale(0.92 1)">15</text>
<line x1="462.50" y1="221.50" x2="462.50" y2="224.30" stroke="#000" stroke-width="1.0"/>
<text x="0" y="2.35" font-size="6.52" font-weight="bold" text-anchor="middle" fill="#000" transform="translate(462.34 228.10) scale(0.92 1)">20</text>
<line x1="474.50" y1="221.50" x2="474.50" y2="224.30" stroke="#000" stroke-width="1.0"/>
<text x="0" y="2.35" font-size="6.52" font-weight="bold" text-anchor="middle" fill="#000" transform="translate(474.41 228.10) scale(0.92 1)">25</text>
<line x1="486.50" y1="221.50" x2="486.50" y2="224.30" stroke="#000" stroke-width="1.0"/>
<text x="0" y="2.35" font-size="6.52" font-weight="bold" text-anchor="middle" fill="#000" transform="translate(486.48 228.10) scale(0.92 1)">30</text>
<line x1="498.50" y1="221.50" x2="498.50" y2="224.30" stroke="#000" stroke-width="1.0"/>
<text x="0" y="2.35" font-size="6.52" font-weight="bold" text-anchor="middle" fill="#000" transform="translate(498.55 228.10) scale(0.92 1)">35</text>
<line x1="510.50" y1="221.50" x2="510.50" y2="224.30" stroke="#000" stroke-width="1.0"/>
<text x="0" y="2.35" font-size="6.52" font-weight="bold" text-anchor="middle" fill="#000" transform="translate(510.62 228.10) scale(0.92 1)">40</text>
<line x1="522.50" y1="221.50" x2="522.50" y2="224.30" stroke="#000" stroke-width="1.0"/>
<text x="0" y="2.35" font-size="6.52" font-weight="bold" text-anchor="middle" fill="#000" transform="translate(522.69 228.10) scale(0.92 1)">45</text>
<line x1="444.50" y1="221.50" x2="444.50" y2="223.20" stroke="#000" stroke-width="1.0"/>
<line x1="456.50" y1="221.50" x2="456.50" y2="223.20" stroke="#000" stroke-width="1.0"/>
<line x1="468.50" y1="221.50" x2="468.50" y2="223.20" stroke="#000" stroke-width="1.0"/>
<line x1="480.50" y1="221.50" x2="480.50" y2="223.20" stroke="#000" stroke-width="1.0"/>
<line x1="492.50" y1="221.50" x2="492.50" y2="223.20" stroke="#000" stroke-width="1.0"/>
<line x1="504.50" y1="221.50" x2="504.50" y2="223.20" stroke="#000" stroke-width="1.0"/>
<line x1="516.50" y1="221.50" x2="516.50" y2="223.20" stroke="#000" stroke-width="1.0"/>
<text x="0" y="2.27" font-size="6.30" font-weight="bold" text-anchor="middle" fill="#000" transform="translate(410.00 190.00) rotate(-90) scale(0.92 1)">Tumor Volume (mm<tspan font-size="3.8" dy="-2">3</tspan><tspan dy="2">)</tspan></text>
<text x="0" y="2.25" font-size="6.25" font-weight="bold" text-anchor="middle" fill="#000" transform="translate(478.20 236.80) scale(0.92 1)">Days Post-Tumor Inoculation</text>
<polyline points="433.37,202.70 438.20,214.90 443.03,206.77 447.86,198.63 452.68,205.55 457.51,206.77 462.34,206.77 467.17,192.53 469.01,160.00" fill="none" stroke="#555555" stroke-width="1.0" stroke-linejoin="miter" stroke-linejoin="round"/>
<polyline points="433.37,212.87 438.20,214.90 443.03,210.83 447.86,206.77 452.68,208.80 457.51,204.73 462.34,198.63 467.17,184.40 472.00,160.00" fill="none" stroke="#555555" stroke-width="1.0" stroke-linejoin="miter" stroke-linejoin="round"/>
<polyline points="433.37,216.93 438.20,215.71 443.03,212.87 447.86,208.80 452.68,210.83 457.51,204.73 462.34,200.67 467.17,198.63 472.00,192.53 476.29,160.00" fill="none" stroke="#555555" stroke-width="1.0" stroke-linejoin="miter" stroke-linejoin="round"/>
<polyline points="433.37,217.75 438.20,216.93 443.03,214.90 447.86,210.83 452.68,212.87 457.51,208.80 462.34,206.77 467.17,204.73 472.00,196.60 476.82,180.33 481.21,160.00" fill="none" stroke="#555555" stroke-width="1.0" stroke-linejoin="miter" stroke-linejoin="round"/>
<polyline points="433.37,216.93 438.20,216.12 443.03,212.87 447.86,209.61 452.68,210.83 457.51,207.99 462.34,208.80 467.17,206.77 472.00,202.70 476.82,196.60 481.65,203.51 486.48,205.95 491.31,195.79 496.14,181.15 500.96,164.07 502.57,160.00" fill="none" stroke="#555555" stroke-width="1.0" stroke-linejoin="miter" stroke-linejoin="round"/>
<polyline points="433.37,218.56 438.20,217.75 443.03,214.90 447.86,212.87 452.68,214.90 457.51,210.83 462.34,210.83 467.17,208.80 472.00,206.77 476.82,204.73 481.65,198.63 486.48,188.55 491.31,181.15 496.14,164.88 498.55,162.03 499.35,160.00" fill="none" stroke="#555555" stroke-width="1.0" stroke-linejoin="miter" stroke-linejoin="round"/>
<polyline points="433.37,219.37 438.20,218.97 443.03,217.75 447.86,219.78 452.68,221.00" fill="none" stroke="#555555" stroke-width="1.0" stroke-linejoin="miter" stroke-linejoin="round"/>
<polyline points="467.17,221.00 472.00,208.80 476.82,214.09 481.65,202.70 486.48,206.36 491.31,196.60 496.14,182.37 500.96,166.10 503.38,160.00" fill="none" stroke="#555555" stroke-width="1.0" stroke-linejoin="miter" stroke-linejoin="round"/>
<polyline points="433.37,217.75 438.20,216.93 443.03,213.68 447.86,212.05 452.68,213.68 457.51,208.80 462.34,210.83 467.17,207.99 472.00,205.55 476.82,202.70 481.65,200.67 486.48,196.60 491.31,192.53 496.14,183.18 500.96,168.13 502.90,160.00" fill="none" stroke="#555555" stroke-width="1.0" stroke-linejoin="miter" stroke-linejoin="round"/>
<text x="0" y="2.29" font-size="6.36" font-weight="bold" text-anchor="middle" fill="#000" transform="translate(601.20 148.20) scale(0.92 1)">D6 mOVA LiNx</text>
<line x1="555.50" y1="160.00" x2="555.50" y2="221.50" stroke="#000" stroke-width="1.0"/>
<line x1="552.50" y1="221.50" x2="555.50" y2="221.50" stroke="#000" stroke-width="1.0"/>
<line x1="552.50" y1="200.50" x2="555.50" y2="200.50" stroke="#000" stroke-width="1.0"/>
<line x1="552.50" y1="180.50" x2="555.50" y2="180.50" stroke="#000" stroke-width="1.0"/>
<line x1="552.50" y1="160.50" x2="555.50" y2="160.50" stroke="#000" stroke-width="1.0"/>
<line x1="553.70" y1="210.50" x2="555.50" y2="210.50" stroke="#000" stroke-width="1.0"/>
<line x1="553.70" y1="190.50" x2="555.50" y2="190.50" stroke="#000" stroke-width="1.0"/>
<line x1="553.70" y1="170.50" x2="555.50" y2="170.50" stroke="#000" stroke-width="1.0"/>
<text x="0" y="2.43" font-size="6.74" font-weight="bold" text-anchor="end" fill="#000" transform="translate(551.70 221.00) scale(0.92 1)">0</text>
<text x="0" y="2.43" font-size="6.74" font-weight="bold" text-anchor="end" fill="#000" transform="translate(551.70 200.67) scale(0.92 1)">500</text>
<text x="0" y="2.43" font-size="6.74" font-weight="bold" text-anchor="end" fill="#000" transform="translate(551.70 180.33) scale(0.92 1)">1000</text>
<text x="0" y="2.43" font-size="6.74" font-weight="bold" text-anchor="end" fill="#000" transform="translate(551.70 160.00) scale(0.92 1)">1500</text>
<line x1="555.00" y1="221.50" x2="646.39" y2="221.50" stroke="#000" stroke-width="1.0"/>
<line x1="561.50" y1="221.50" x2="561.50" y2="224.30" stroke="#000" stroke-width="1.0"/>
<text x="0" y="2.35" font-size="6.52" font-weight="bold" text-anchor="middle" fill="#000" transform="translate(561.40 228.10) scale(0.92 1)">10</text>
<line x1="573.50" y1="221.50" x2="573.50" y2="224.30" stroke="#000" stroke-width="1.0"/>
<text x="0" y="2.35" font-size="6.52" font-weight="bold" text-anchor="middle" fill="#000" transform="translate(573.47 228.10) scale(0.92 1)">15</text>
<line x1="585.50" y1="221.50" x2="585.50" y2="224.30" stroke="#000" stroke-width="1.0"/>
<text x="0" y="2.35" font-size="6.52" font-weight="bold" text-anchor="middle" fill="#000" transform="translate(585.54 228.10) scale(0.92 1)">20</text>
<line x1="597.50" y1="221.50" x2="597.50" y2="224.30" stroke="#000" stroke-width="1.0"/>
<text x="0" y="2.35" font-size="6.52" font-weight="bold" text-anchor="middle" fill="#000" transform="translate(597.61 228.10) scale(0.92 1)">25</text>
<line x1="609.50" y1="221.50" x2="609.50" y2="224.30" stroke="#000" stroke-width="1.0"/>
<text x="0" y="2.35" font-size="6.52" font-weight="bold" text-anchor="middle" fill="#000" transform="translate(609.68 228.10) scale(0.92 1)">30</text>
<line x1="621.50" y1="221.50" x2="621.50" y2="224.30" stroke="#000" stroke-width="1.0"/>
<text x="0" y="2.35" font-size="6.52" font-weight="bold" text-anchor="middle" fill="#000" transform="translate(621.75 228.10) scale(0.92 1)">35</text>
<line x1="633.50" y1="221.50" x2="633.50" y2="224.30" stroke="#000" stroke-width="1.0"/>
<text x="0" y="2.35" font-size="6.52" font-weight="bold" text-anchor="middle" fill="#000" transform="translate(633.82 228.10) scale(0.92 1)">40</text>
<line x1="645.50" y1="221.50" x2="645.50" y2="224.30" stroke="#000" stroke-width="1.0"/>
<text x="0" y="2.35" font-size="6.52" font-weight="bold" text-anchor="middle" fill="#000" transform="translate(645.89 228.10) scale(0.92 1)">45</text>
<line x1="567.50" y1="221.50" x2="567.50" y2="223.20" stroke="#000" stroke-width="1.0"/>
<line x1="579.50" y1="221.50" x2="579.50" y2="223.20" stroke="#000" stroke-width="1.0"/>
<line x1="591.50" y1="221.50" x2="591.50" y2="223.20" stroke="#000" stroke-width="1.0"/>
<line x1="603.50" y1="221.50" x2="603.50" y2="223.20" stroke="#000" stroke-width="1.0"/>
<line x1="615.50" y1="221.50" x2="615.50" y2="223.20" stroke="#000" stroke-width="1.0"/>
<line x1="627.50" y1="221.50" x2="627.50" y2="223.20" stroke="#000" stroke-width="1.0"/>
<line x1="639.50" y1="221.50" x2="639.50" y2="223.20" stroke="#000" stroke-width="1.0"/>
<text x="0" y="2.27" font-size="6.30" font-weight="bold" text-anchor="middle" fill="#000" transform="translate(533.20 190.00) rotate(-90) scale(0.92 1)">Tumor Volume (mm<tspan font-size="3.8" dy="-2">3</tspan><tspan dy="2">)</tspan></text>
<text x="0" y="2.25" font-size="6.25" font-weight="bold" text-anchor="middle" fill="#000" transform="translate(601.40 236.80) scale(0.92 1)">Days Post-Tumor Inoculation</text>
<polyline points="556.57,221.00 561.40,216.93 566.23,215.71 571.06,217.75 575.88,218.56 580.71,216.93 585.54,214.49 590.37,213.68 595.20,214.90 600.02,213.27 604.85,212.62 609.68,207.58 612.55,160.00" fill="none" stroke="#ff2d1f" stroke-width="1.0" stroke-linejoin="miter" stroke-linejoin="round"/>
<polyline points="556.57,221.00 561.40,218.97 566.23,217.75 571.06,216.12 575.88,216.93 580.71,218.56 585.54,215.71 590.37,214.09 595.20,216.12 600.02,214.90 604.85,213.68 609.68,212.87 614.51,212.05 619.34,212.62 624.16,209.41 628.99,192.53 633.82,176.27 637.33,160.00" fill="none" stroke="#ff2d1f" stroke-width="1.0" stroke-linejoin="miter" stroke-linejoin="round"/>
<polyline points="556.57,221.00 561.40,219.78 566.23,218.56 571.06,216.93 575.88,216.12 580.71,217.75 585.54,215.31 590.37,214.90 595.20,216.93 600.02,217.75 604.85,219.78 609.68,216.93 614.51,213.68 619.34,215.71 624.16,216.65 628.99,208.80 633.82,202.70 638.65,196.56 643.48,202.98" fill="none" stroke="#ff2d1f" stroke-width="1.0" stroke-linejoin="miter" stroke-linejoin="round"/>
<polyline points="556.57,221.00 561.40,220.19 566.23,219.78 571.06,218.97 575.88,219.78 580.71,218.56 585.54,216.93 590.37,216.12 595.20,218.56 600.02,219.78 604.85,220.67 609.68,218.56 614.51,215.84 619.34,217.46 624.16,217.46 628.99,214.49 633.82,211.04 638.65,207.58 643.48,203.80" fill="none" stroke="#ff2d1f" stroke-width="1.0" stroke-linejoin="miter" stroke-linejoin="round"/>
<polyline points="556.57,221.00 561.40,221.00 566.23,220.19 571.06,220.59 575.88,219.78 580.71,220.19 585.54,219.37 590.37,218.56 595.20,219.78 600.02,220.59 604.85,221.00 609.68,220.19 614.51,219.37 619.34,220.59 624.16,221.00 628.99,221.00 633.82,221.00 638.65,221.00 643.48,221.00" fill="none" stroke="#ff2d1f" stroke-width="1.0" stroke-linejoin="miter" stroke-linejoin="round"/>
<polyline points="556.57,221.00 561.40,220.59 566.23,221.00 571.06,220.59 575.88,221.00 580.71,220.59 585.54,220.19 590.37,221.00 595.20,220.59 600.02,221.00 604.85,221.00 609.68,221.00 614.51,221.00 619.34,221.00 624.16,221.00 628.99,221.00 633.82,221.00 638.65,221.00 643.48,221.00" fill="none" stroke="#ff2d1f" stroke-width="1.0" stroke-linejoin="miter" stroke-linejoin="round"/>
<text x="0" y="2.29" font-size="6.36" font-weight="bold" text-anchor="middle" fill="#000" transform="translate(352.60 256.20) scale(0.92 1)">C10 mOVA LiNx</text>
<line x1="306.50" y1="268.00" x2="306.50" y2="329.50" stroke="#000" stroke-width="1.0"/>
<line x1="303.50" y1="329.50" x2="306.50" y2="329.50" stroke="#000" stroke-width="1.0"/>
<line x1="303.50" y1="308.50" x2="306.50" y2="308.50" stroke="#000" stroke-width="1.0"/>
<line x1="303.50" y1="288.50" x2="306.50" y2="288.50" stroke="#000" stroke-width="1.0"/>
<line x1="303.50" y1="268.50" x2="306.50" y2="268.50" stroke="#000" stroke-width="1.0"/>
<line x1="304.70" y1="318.50" x2="306.50" y2="318.50" stroke="#000" stroke-width="1.0"/>
<line x1="304.70" y1="298.50" x2="306.50" y2="298.50" stroke="#000" stroke-width="1.0"/>
<line x1="304.70" y1="278.50" x2="306.50" y2="278.50" stroke="#000" stroke-width="1.0"/>
<text x="0" y="2.43" font-size="6.74" font-weight="bold" text-anchor="end" fill="#000" transform="translate(302.70 329.00) scale(0.92 1)">0</text>
<text x="0" y="2.43" font-size="6.74" font-weight="bold" text-anchor="end" fill="#000" transform="translate(302.70 308.67) scale(0.92 1)">500</text>
<text x="0" y="2.43" font-size="6.74" font-weight="bold" text-anchor="end" fill="#000" transform="translate(302.70 288.33) scale(0.92 1)">1000</text>
<text x="0" y="2.43" font-size="6.74" font-weight="bold" text-anchor="end" fill="#000" transform="translate(302.70 268.00) scale(0.92 1)">1500</text>
<line x1="306.00" y1="329.50" x2="397.79" y2="329.50" stroke="#000" stroke-width="1.0"/>
<line x1="312.50" y1="329.50" x2="312.50" y2="332.30" stroke="#000" stroke-width="1.0"/>
<text x="0" y="2.35" font-size="6.52" font-weight="bold" text-anchor="middle" fill="#000" transform="translate(312.80 336.10) scale(0.92 1)">10</text>
<line x1="324.50" y1="329.50" x2="324.50" y2="332.30" stroke="#000" stroke-width="1.0"/>
<text x="0" y="2.35" font-size="6.52" font-weight="bold" text-anchor="middle" fill="#000" transform="translate(324.87 336.10) scale(0.92 1)">15</text>
<line x1="336.50" y1="329.50" x2="336.50" y2="332.30" stroke="#000" stroke-width="1.0"/>
<text x="0" y="2.35" font-size="6.52" font-weight="bold" text-anchor="middle" fill="#000" transform="translate(336.94 336.10) scale(0.92 1)">20</text>
<line x1="349.50" y1="329.50" x2="349.50" y2="332.30" stroke="#000" stroke-width="1.0"/>
<text x="0" y="2.35" font-size="6.52" font-weight="bold" text-anchor="middle" fill="#000" transform="translate(349.01 336.10) scale(0.92 1)">25</text>
<line x1="361.50" y1="329.50" x2="361.50" y2="332.30" stroke="#000" stroke-width="1.0"/>
<text x="0" y="2.35" font-size="6.52" font-weight="bold" text-anchor="middle" fill="#000" transform="translate(361.08 336.10) scale(0.92 1)">30</text>
<line x1="373.50" y1="329.50" x2="373.50" y2="332.30" stroke="#000" stroke-width="1.0"/>
<text x="0" y="2.35" font-size="6.52" font-weight="bold" text-anchor="middle" fill="#000" transform="translate(373.15 336.10) scale(0.92 1)">35</text>
<line x1="385.50" y1="329.50" x2="385.50" y2="332.30" stroke="#000" stroke-width="1.0"/>
<text x="0" y="2.35" font-size="6.52" font-weight="bold" text-anchor="middle" fill="#000" transform="translate(385.22 336.10) scale(0.92 1)">40</text>
<line x1="397.50" y1="329.50" x2="397.50" y2="332.30" stroke="#000" stroke-width="1.0"/>
<text x="0" y="2.35" font-size="6.52" font-weight="bold" text-anchor="middle" fill="#000" transform="translate(397.29 336.10) scale(0.92 1)">45</text>
<line x1="318.50" y1="329.50" x2="318.50" y2="331.20" stroke="#000" stroke-width="1.0"/>
<line x1="330.50" y1="329.50" x2="330.50" y2="331.20" stroke="#000" stroke-width="1.0"/>
<line x1="342.50" y1="329.50" x2="342.50" y2="331.20" stroke="#000" stroke-width="1.0"/>
<line x1="355.50" y1="329.50" x2="355.50" y2="331.20" stroke="#000" stroke-width="1.0"/>
<line x1="367.50" y1="329.50" x2="367.50" y2="331.20" stroke="#000" stroke-width="1.0"/>
<line x1="379.50" y1="329.50" x2="379.50" y2="331.20" stroke="#000" stroke-width="1.0"/>
<line x1="391.50" y1="329.50" x2="391.50" y2="331.20" stroke="#000" stroke-width="1.0"/>
<text x="0" y="2.27" font-size="6.30" font-weight="bold" text-anchor="middle" fill="#000" transform="translate(284.60 298.00) rotate(-90) scale(0.92 1)">Tumor Volume (mm<tspan font-size="3.8" dy="-2">3</tspan><tspan dy="2">)</tspan></text>
<text x="0" y="2.25" font-size="6.25" font-weight="bold" text-anchor="middle" fill="#000" transform="translate(352.80 344.80) scale(0.92 1)">Days Post-Tumor Inoculation</text>
<polyline points="307.97,322.90 312.80,325.75 317.63,313.55 322.46,317.61 327.28,318.83 332.11,314.77 336.94,304.60 341.77,306.63 346.60,274.10 351.42,300.53 355.72,268.00" fill="none" stroke="#4a92f0" stroke-width="1.0" stroke-linejoin="miter" stroke-linejoin="round"/>
<polyline points="307.97,324.93 312.80,326.97 317.63,324.93 322.46,322.90 327.28,320.87 332.11,316.80 336.94,312.73 341.77,314.77 346.60,300.53 351.42,302.57 356.25,280.20 360.39,268.00" fill="none" stroke="#4a92f0" stroke-width="1.0" stroke-linejoin="miter" stroke-linejoin="round"/>
<polyline points="307.97,325.75 312.80,327.78 317.63,324.93 322.46,320.87 327.28,322.90 332.11,320.87 336.94,318.83 341.77,320.87 346.60,298.50 351.42,304.60 356.25,268.00" fill="none" stroke="#4a92f0" stroke-width="1.0" stroke-linejoin="miter" stroke-linejoin="round"/>
<polyline points="307.97,326.97 312.80,326.97 317.63,325.75 322.46,322.90 327.28,321.68 332.11,318.83 336.94,321.68 341.77,321.68 346.60,312.73 351.42,308.67 356.25,300.53 361.08,310.70 365.91,292.40 369.53,268.00" fill="none" stroke="#4a92f0" stroke-width="1.0" stroke-linejoin="miter" stroke-linejoin="round"/>
<polyline points="307.97,326.97 312.80,328.19 317.63,326.97 322.46,324.93 327.28,322.90 332.11,320.87 336.94,321.68 341.77,322.90 346.60,322.90 351.42,318.83 356.25,314.77 361.08,320.87 365.91,316.80 370.74,310.70 375.56,314.77 379.68,268.00" fill="none" stroke="#4a92f0" stroke-width="1.0" stroke-linejoin="miter" stroke-linejoin="round"/>
<polyline points="307.97,327.78 312.80,329.00 317.63,327.78 322.46,325.75 327.28,324.93 332.11,322.90 336.94,324.93 341.77,324.93 346.60,324.93 351.42,320.87 356.25,315.58 361.08,324.93 365.91,325.75 370.74,326.97 375.56,329.00" fill="none" stroke="#4a92f0" stroke-width="1.0" stroke-linejoin="miter" stroke-linejoin="round"/>
<polyline points="375.56,329.00 380.39,324.93 385.22,314.77 390.05,314.77 394.88,273.29" fill="none" stroke="#4a92f0" stroke-width="1.0" stroke-linejoin="miter" stroke-linejoin="round"/>
<polyline points="307.97,328.19 312.80,329.00 317.63,328.59 322.46,327.78 327.28,326.97 332.11,324.93 336.94,322.90 341.77,324.93 346.60,325.75 351.42,322.90 356.25,316.80 361.08,326.97 365.91,329.00 370.74,329.00 375.56,329.00 380.39,329.00 385.22,329.00 390.05,329.00 394.88,329.00" fill="none" stroke="#4a92f0" stroke-width="1.0" stroke-linejoin="miter" stroke-linejoin="round"/>
<text x="0" y="2.29" font-size="6.36" font-weight="bold" text-anchor="middle" fill="#000" transform="translate(478.00 255.80) scale(0.92 1)">F5 mOVA LiNx</text>
<line x1="432.50" y1="267.60" x2="432.50" y2="329.10" stroke="#000" stroke-width="1.0"/>
<line x1="429.50" y1="328.50" x2="432.50" y2="328.50" stroke="#000" stroke-width="1.0"/>
<line x1="429.50" y1="308.50" x2="432.50" y2="308.50" stroke="#000" stroke-width="1.0"/>
<line x1="429.50" y1="287.50" x2="432.50" y2="287.50" stroke="#000" stroke-width="1.0"/>
<line x1="429.50" y1="267.50" x2="432.50" y2="267.50" stroke="#000" stroke-width="1.0"/>
<line x1="430.70" y1="318.50" x2="432.50" y2="318.50" stroke="#000" stroke-width="1.0"/>
<line x1="430.70" y1="298.50" x2="432.50" y2="298.50" stroke="#000" stroke-width="1.0"/>
<line x1="430.70" y1="277.50" x2="432.50" y2="277.50" stroke="#000" stroke-width="1.0"/>
<text x="0" y="2.43" font-size="6.74" font-weight="bold" text-anchor="end" fill="#000" transform="translate(428.70 328.60) scale(0.92 1)">0</text>
<text x="0" y="2.43" font-size="6.74" font-weight="bold" text-anchor="end" fill="#000" transform="translate(428.70 308.27) scale(0.92 1)">500</text>
<text x="0" y="2.43" font-size="6.74" font-weight="bold" text-anchor="end" fill="#000" transform="translate(428.70 287.93) scale(0.92 1)">1000</text>
<text x="0" y="2.43" font-size="6.74" font-weight="bold" text-anchor="end" fill="#000" transform="translate(428.70 267.60) scale(0.92 1)">1500</text>
<line x1="432.00" y1="328.50" x2="523.19" y2="328.50" stroke="#000" stroke-width="1.0"/>
<line x1="438.50" y1="328.50" x2="438.50" y2="331.30" stroke="#000" stroke-width="1.0"/>
<text x="0" y="2.35" font-size="6.52" font-weight="bold" text-anchor="middle" fill="#000" transform="translate(438.20 335.70) scale(0.92 1)">10</text>
<line x1="450.50" y1="328.50" x2="450.50" y2="331.30" stroke="#000" stroke-width="1.0"/>
<text x="0" y="2.35" font-size="6.52" font-weight="bold" text-anchor="middle" fill="#000" transform="translate(450.27 335.70) scale(0.92 1)">15</text>
<line x1="462.50" y1="328.50" x2="462.50" y2="331.30" stroke="#000" stroke-width="1.0"/>
<text x="0" y="2.35" font-size="6.52" font-weight="bold" text-anchor="middle" fill="#000" transform="translate(462.34 335.70) scale(0.92 1)">20</text>
<line x1="474.50" y1="328.50" x2="474.50" y2="331.30" stroke="#000" stroke-width="1.0"/>
<text x="0" y="2.35" font-size="6.52" font-weight="bold" text-anchor="middle" fill="#000" transform="translate(474.41 335.70) scale(0.92 1)">25</text>
<line x1="486.50" y1="328.50" x2="486.50" y2="331.30" stroke="#000" stroke-width="1.0"/>
<text x="0" y="2.35" font-size="6.52" font-weight="bold" text-anchor="middle" fill="#000" transform="translate(486.48 335.70) scale(0.92 1)">30</text>
<line x1="498.50" y1="328.50" x2="498.50" y2="331.30" stroke="#000" stroke-width="1.0"/>
<text x="0" y="2.35" font-size="6.52" font-weight="bold" text-anchor="middle" fill="#000" transform="translate(498.55 335.70) scale(0.92 1)">35</text>
<line x1="510.50" y1="328.50" x2="510.50" y2="331.30" stroke="#000" stroke-width="1.0"/>
<text x="0" y="2.35" font-size="6.52" font-weight="bold" text-anchor="middle" fill="#000" transform="translate(510.62 335.70) scale(0.92 1)">40</text>
<line x1="522.50" y1="328.50" x2="522.50" y2="331.30" stroke="#000" stroke-width="1.0"/>
<text x="0" y="2.35" font-size="6.52" font-weight="bold" text-anchor="middle" fill="#000" transform="translate(522.69 335.70) scale(0.92 1)">45</text>
<line x1="444.50" y1="328.50" x2="444.50" y2="330.20" stroke="#000" stroke-width="1.0"/>
<line x1="456.50" y1="328.50" x2="456.50" y2="330.20" stroke="#000" stroke-width="1.0"/>
<line x1="468.50" y1="328.50" x2="468.50" y2="330.20" stroke="#000" stroke-width="1.0"/>
<line x1="480.50" y1="328.50" x2="480.50" y2="330.20" stroke="#000" stroke-width="1.0"/>
<line x1="492.50" y1="328.50" x2="492.50" y2="330.20" stroke="#000" stroke-width="1.0"/>
<line x1="504.50" y1="328.50" x2="504.50" y2="330.20" stroke="#000" stroke-width="1.0"/>
<line x1="516.50" y1="328.50" x2="516.50" y2="330.20" stroke="#000" stroke-width="1.0"/>
<text x="0" y="2.27" font-size="6.30" font-weight="bold" text-anchor="middle" fill="#000" transform="translate(410.00 297.60) rotate(-90) scale(0.92 1)">Tumor Volume (mm<tspan font-size="3.8" dy="-2">3</tspan><tspan dy="2">)</tspan></text>
<text x="0" y="2.25" font-size="6.25" font-weight="bold" text-anchor="middle" fill="#000" transform="translate(478.20 344.40) scale(0.92 1)">Days Post-Tumor Inoculation</text>
<polyline points="433.37,320.47 438.20,319.65 443.03,320.47 447.86,322.50 452.68,320.47 457.51,316.40 462.34,305.01 467.17,310.30 469.77,267.60" fill="none" stroke="#3b9a37" stroke-width="1.0" stroke-linejoin="miter" stroke-linejoin="round"/>
<polyline points="433.37,321.28 438.20,320.47 443.03,321.28 447.86,323.72 452.68,322.50 457.51,317.21 462.34,310.30 467.17,312.33 472.00,304.20 476.82,298.10 479.97,267.60" fill="none" stroke="#3b9a37" stroke-width="1.0" stroke-linejoin="miter" stroke-linejoin="round"/>
<polyline points="433.37,322.50 438.20,321.28 443.03,322.50 447.86,324.53 452.68,322.50 457.51,320.47 462.34,314.37 467.17,314.37 472.00,308.27 476.82,302.17 480.39,267.60" fill="none" stroke="#3b9a37" stroke-width="1.0" stroke-linejoin="miter" stroke-linejoin="round"/>
<polyline points="433.37,323.72 438.20,322.50 443.03,323.72 447.86,324.53 452.68,323.72 457.51,321.28 462.34,316.40 467.17,315.59 472.00,312.33 476.82,304.20 480.77,267.60" fill="none" stroke="#3b9a37" stroke-width="1.0" stroke-linejoin="miter" stroke-linejoin="round"/>
<polyline points="433.37,324.53 438.20,324.53 443.03,325.35 447.86,325.35 452.68,324.53 457.51,322.50 462.34,317.21 467.17,316.40 472.00,314.37 476.82,308.27 481.65,277.77 483.51,267.60" fill="none" stroke="#3b9a37" stroke-width="1.0" stroke-linejoin="miter" stroke-linejoin="round"/>
<polyline points="433.37,325.35 438.20,326.16 443.03,326.57 447.86,326.57 452.68,324.53 457.51,323.72 462.34,320.47 467.17,317.21 472.00,315.59 476.82,313.15 481.65,296.07 486.48,287.93 491.31,277.36 496.14,273.70 496.77,267.60" fill="none" stroke="#3b9a37" stroke-width="1.0" stroke-linejoin="miter" stroke-linejoin="round"/>
<polyline points="433.37,326.57 438.20,327.38 443.03,327.79 447.86,327.38 452.68,328.60 457.51,328.60 462.34,328.60 467.17,328.60 472.00,318.43 476.82,319.65 481.65,316.40 486.48,317.62 491.31,317.62 496.14,314.37 500.96,310.30 505.79,304.20 510.62,296.07 515.45,285.90 517.73,267.60" fill="none" stroke="#3b9a37" stroke-width="1.0" stroke-linejoin="miter" stroke-linejoin="round"/>
<polyline points="433.37,327.38 438.20,328.60 443.03,328.60 447.86,328.60 452.68,328.60 457.51,328.60 462.34,328.60 467.17,328.60 472.00,328.60 476.82,328.60 481.65,328.60 486.48,328.60 491.31,328.60 496.14,328.60 500.96,328.60 505.79,328.60 510.62,328.60 515.45,328.60 520.28,328.60" fill="none" stroke="#3b9a37" stroke-width="1.0" stroke-linejoin="miter" stroke-linejoin="round"/>
<text x="0" y="2.29" font-size="6.36" font-weight="bold" text-anchor="middle" fill="#000" transform="translate(601.30 255.50) scale(0.92 1)">D6 mOVA LNP</text>
<line x1="555.50" y1="267.30" x2="555.50" y2="328.80" stroke="#000" stroke-width="1.0"/>
<line x1="552.50" y1="328.50" x2="555.50" y2="328.50" stroke="#000" stroke-width="1.0"/>
<line x1="552.50" y1="307.50" x2="555.50" y2="307.50" stroke="#000" stroke-width="1.0"/>
<line x1="552.50" y1="287.50" x2="555.50" y2="287.50" stroke="#000" stroke-width="1.0"/>
<line x1="552.50" y1="267.50" x2="555.50" y2="267.50" stroke="#000" stroke-width="1.0"/>
<line x1="553.70" y1="318.50" x2="555.50" y2="318.50" stroke="#000" stroke-width="1.0"/>
<line x1="553.70" y1="297.50" x2="555.50" y2="297.50" stroke="#000" stroke-width="1.0"/>
<line x1="553.70" y1="277.50" x2="555.50" y2="277.50" stroke="#000" stroke-width="1.0"/>
<text x="0" y="2.43" font-size="6.74" font-weight="bold" text-anchor="end" fill="#000" transform="translate(551.70 328.30) scale(0.92 1)">0</text>
<text x="0" y="2.43" font-size="6.74" font-weight="bold" text-anchor="end" fill="#000" transform="translate(551.70 307.97) scale(0.92 1)">500</text>
<text x="0" y="2.43" font-size="6.74" font-weight="bold" text-anchor="end" fill="#000" transform="translate(551.70 287.63) scale(0.92 1)">1000</text>
<text x="0" y="2.43" font-size="6.74" font-weight="bold" text-anchor="end" fill="#000" transform="translate(551.70 267.30) scale(0.92 1)">1500</text>
<line x1="555.00" y1="328.50" x2="646.49" y2="328.50" stroke="#000" stroke-width="1.0"/>
<line x1="561.50" y1="328.50" x2="561.50" y2="331.30" stroke="#000" stroke-width="1.0"/>
<text x="0" y="2.35" font-size="6.52" font-weight="bold" text-anchor="middle" fill="#000" transform="translate(561.50 335.40) scale(0.92 1)">10</text>
<line x1="573.50" y1="328.50" x2="573.50" y2="331.30" stroke="#000" stroke-width="1.0"/>
<text x="0" y="2.35" font-size="6.52" font-weight="bold" text-anchor="middle" fill="#000" transform="translate(573.57 335.40) scale(0.92 1)">15</text>
<line x1="585.50" y1="328.50" x2="585.50" y2="331.30" stroke="#000" stroke-width="1.0"/>
<text x="0" y="2.35" font-size="6.52" font-weight="bold" text-anchor="middle" fill="#000" transform="translate(585.64 335.40) scale(0.92 1)">20</text>
<line x1="597.50" y1="328.50" x2="597.50" y2="331.30" stroke="#000" stroke-width="1.0"/>
<text x="0" y="2.35" font-size="6.52" font-weight="bold" text-anchor="middle" fill="#000" transform="translate(597.71 335.40) scale(0.92 1)">25</text>
<line x1="609.50" y1="328.50" x2="609.50" y2="331.30" stroke="#000" stroke-width="1.0"/>
<text x="0" y="2.35" font-size="6.52" font-weight="bold" text-anchor="middle" fill="#000" transform="translate(609.78 335.40) scale(0.92 1)">30</text>
<line x1="621.50" y1="328.50" x2="621.50" y2="331.30" stroke="#000" stroke-width="1.0"/>
<text x="0" y="2.35" font-size="6.52" font-weight="bold" text-anchor="middle" fill="#000" transform="translate(621.85 335.40) scale(0.92 1)">35</text>
<line x1="633.50" y1="328.50" x2="633.50" y2="331.30" stroke="#000" stroke-width="1.0"/>
<text x="0" y="2.35" font-size="6.52" font-weight="bold" text-anchor="middle" fill="#000" transform="translate(633.92 335.40) scale(0.92 1)">40</text>
<line x1="645.50" y1="328.50" x2="645.50" y2="331.30" stroke="#000" stroke-width="1.0"/>
<text x="0" y="2.35" font-size="6.52" font-weight="bold" text-anchor="middle" fill="#000" transform="translate(645.99 335.40) scale(0.92 1)">45</text>
<line x1="567.50" y1="328.50" x2="567.50" y2="330.20" stroke="#000" stroke-width="1.0"/>
<line x1="579.50" y1="328.50" x2="579.50" y2="330.20" stroke="#000" stroke-width="1.0"/>
<line x1="591.50" y1="328.50" x2="591.50" y2="330.20" stroke="#000" stroke-width="1.0"/>
<line x1="603.50" y1="328.50" x2="603.50" y2="330.20" stroke="#000" stroke-width="1.0"/>
<line x1="615.50" y1="328.50" x2="615.50" y2="330.20" stroke="#000" stroke-width="1.0"/>
<line x1="627.50" y1="328.50" x2="627.50" y2="330.20" stroke="#000" stroke-width="1.0"/>
<line x1="639.50" y1="328.50" x2="639.50" y2="330.20" stroke="#000" stroke-width="1.0"/>
<text x="0" y="2.27" font-size="6.30" font-weight="bold" text-anchor="middle" fill="#000" transform="translate(533.30 297.30) rotate(-90) scale(0.92 1)">Tumor Volume (mm<tspan font-size="3.8" dy="-2">3</tspan><tspan dy="2">)</tspan></text>
<text x="0" y="2.25" font-size="6.25" font-weight="bold" text-anchor="middle" fill="#000" transform="translate(601.50 344.10) scale(0.92 1)">Days Post-Tumor Inoculation</text>
<polyline points="556.67,327.49 561.50,324.23 566.33,322.20 571.16,321.39 575.98,319.35 580.81,316.10 585.64,311.22 590.47,307.97 595.30,280.88 600.12,293.73 602.45,267.30" fill="none" stroke="#2a4f9c" stroke-width="1.0" stroke-linejoin="miter" stroke-linejoin="round"/>
<polyline points="556.67,327.08 561.50,323.42 566.33,321.79 571.16,320.98 575.98,318.95 580.81,315.29 585.64,310.81 590.47,308.78 595.30,300.16 600.12,296.13 604.95,300.16 609.78,273.40 611.39,267.30" fill="none" stroke="#2a4f9c" stroke-width="1.0" stroke-linejoin="miter" stroke-linejoin="round"/>
<polyline points="556.67,327.89 561.50,325.05 566.33,323.01 571.16,322.20 575.98,320.17 580.81,316.91 585.64,312.85 590.47,309.19 595.30,305.53 600.12,302.56 604.95,303.37 609.78,286.49 614.61,278.48 616.44,267.30" fill="none" stroke="#2a4f9c" stroke-width="1.0" stroke-linejoin="miter" stroke-linejoin="round"/>
<polyline points="556.67,328.30 561.50,325.86 566.33,324.23 571.16,323.42 575.98,322.20 580.81,319.35 585.64,316.10 590.47,316.22 595.30,321.02 600.12,311.38 604.95,318.62 609.78,299.35 614.61,297.76 619.44,301.74 623.99,267.30" fill="none" stroke="#2a4f9c" stroke-width="1.0" stroke-linejoin="miter" stroke-linejoin="round"/>
<polyline points="556.67,328.30 561.50,326.27 566.33,325.05 571.16,324.23 575.98,323.01 580.81,320.17 585.64,314.60 590.47,315.41 595.30,316.99 600.12,319.43 604.95,321.02 609.78,325.86 614.61,316.99 619.44,310.61 624.26,311.38 627.57,267.30" fill="none" stroke="#2a4f9c" stroke-width="1.0" stroke-linejoin="miter" stroke-linejoin="round"/>
<polyline points="556.67,328.30 561.50,327.08 566.33,325.86 571.16,325.86 575.98,325.05 580.81,324.23 585.64,322.20 590.47,316.51 595.30,322.20 600.12,324.23 604.95,325.05 609.78,325.86 614.61,322.65 619.44,316.99 624.26,319.43 629.09,285.68 633.92,273.40 636.82,267.30" fill="none" stroke="#2a4f9c" stroke-width="1.0" stroke-linejoin="miter" stroke-linejoin="round"/>
<polyline points="556.67,328.30 561.50,325.05 566.33,323.42 571.16,324.23 575.98,325.86 580.81,325.86 585.64,324.23 590.47,316.22 595.30,324.23 600.12,327.08 604.95,328.30 609.78,328.30 614.61,328.30 619.44,328.30 624.26,328.30 629.09,328.30 633.92,328.30 638.75,328.30 643.58,328.30" fill="none" stroke="#2a4f9c" stroke-width="1.0" stroke-linejoin="miter" stroke-linejoin="round"/>
<polyline points="556.67,328.30 561.50,327.08 566.33,327.89 571.16,328.30 575.98,328.30 580.81,328.30 585.64,327.89 590.47,325.86 595.30,328.30 600.12,328.30 604.95,328.30 609.78,328.30 614.61,328.30 619.44,328.30 624.26,328.30 629.09,328.30 633.92,328.30 638.75,328.30 643.58,328.30" fill="none" stroke="#2a4f9c" stroke-width="1.0" stroke-linejoin="miter" stroke-linejoin="round"/>
<text x="0" y="3.24" font-size="9.00" font-weight="bold" text-anchor="start" fill="#000" transform="translate(3.90 362.06) scale(1 1)">f</text>
<text x="0" y="2.74" font-size="7.61" font-weight="bold" text-anchor="start" fill="#000" transform="translate(105.90 362.30) scale(0.92 1)">B16F10-OVA melanoma</text>
<line x1="49.50" y1="376.20" x2="49.50" y2="494.20" stroke="#000" stroke-width="1.2"/>
<line x1="46.00" y1="493.50" x2="49.50" y2="493.50" stroke="#000" stroke-width="1.2"/>
<line x1="46.00" y1="472.50" x2="49.50" y2="472.50" stroke="#000" stroke-width="1.2"/>
<line x1="46.00" y1="451.50" x2="49.50" y2="451.50" stroke="#000" stroke-width="1.2"/>
<line x1="46.00" y1="429.50" x2="49.50" y2="429.50" stroke="#000" stroke-width="1.2"/>
<line x1="46.00" y1="408.50" x2="49.50" y2="408.50" stroke="#000" stroke-width="1.2"/>
<line x1="46.00" y1="387.50" x2="49.50" y2="387.50" stroke="#000" stroke-width="1.2"/>
<line x1="47.50" y1="483.50" x2="49.50" y2="483.50" stroke="#000" stroke-width="1.2"/>
<line x1="47.50" y1="461.50" x2="49.50" y2="461.50" stroke="#000" stroke-width="1.2"/>
<line x1="47.50" y1="440.50" x2="49.50" y2="440.50" stroke="#000" stroke-width="1.2"/>
<line x1="47.50" y1="419.50" x2="49.50" y2="419.50" stroke="#000" stroke-width="1.2"/>
<line x1="47.50" y1="397.50" x2="49.50" y2="397.50" stroke="#000" stroke-width="1.2"/>
<line x1="47.50" y1="376.50" x2="49.50" y2="376.50" stroke="#000" stroke-width="1.2"/>
<text x="0" y="3.13" font-size="8.70" font-weight="bold" text-anchor="end" fill="#000" transform="translate(45.00 493.70) scale(0.92 1)">0</text>
<text x="0" y="3.13" font-size="8.70" font-weight="bold" text-anchor="end" fill="#000" transform="translate(45.00 472.40) scale(0.92 1)">400</text>
<text x="0" y="3.13" font-size="8.70" font-weight="bold" text-anchor="end" fill="#000" transform="translate(45.00 451.10) scale(0.92 1)">800</text>
<text x="0" y="3.13" font-size="8.70" font-weight="bold" text-anchor="end" fill="#000" transform="translate(45.00 429.80) scale(0.92 1)">1200</text>
<text x="0" y="3.13" font-size="8.70" font-weight="bold" text-anchor="end" fill="#000" transform="translate(45.00 408.50) scale(0.92 1)">1600</text>
<text x="0" y="3.13" font-size="8.70" font-weight="bold" text-anchor="end" fill="#000" transform="translate(45.00 387.20) scale(0.92 1)">2000</text>
<line x1="48.90" y1="493.50" x2="238.30" y2="493.50" stroke="#000" stroke-width="1.2"/>
<line x1="49.50" y1="493.50" x2="49.50" y2="496.50" stroke="#000" stroke-width="1.2"/>
<line x1="67.50" y1="493.50" x2="67.50" y2="496.50" stroke="#000" stroke-width="1.2"/>
<line x1="86.50" y1="493.50" x2="86.50" y2="496.50" stroke="#000" stroke-width="1.2"/>
<line x1="105.50" y1="493.50" x2="105.50" y2="496.50" stroke="#000" stroke-width="1.2"/>
<line x1="124.50" y1="493.50" x2="124.50" y2="496.50" stroke="#000" stroke-width="1.2"/>
<line x1="143.50" y1="493.50" x2="143.50" y2="496.50" stroke="#000" stroke-width="1.2"/>
<line x1="162.50" y1="493.50" x2="162.50" y2="496.50" stroke="#000" stroke-width="1.2"/>
<line x1="181.50" y1="493.50" x2="181.50" y2="496.50" stroke="#000" stroke-width="1.2"/>
<line x1="200.50" y1="493.50" x2="200.50" y2="496.50" stroke="#000" stroke-width="1.2"/>
<line x1="219.50" y1="493.50" x2="219.50" y2="496.50" stroke="#000" stroke-width="1.2"/>
<line x1="238.50" y1="493.50" x2="238.50" y2="496.50" stroke="#000" stroke-width="1.2"/>
<line x1="58.50" y1="493.50" x2="58.50" y2="495.30" stroke="#000" stroke-width="1.2"/>
<line x1="77.50" y1="493.50" x2="77.50" y2="495.30" stroke="#000" stroke-width="1.2"/>
<line x1="96.50" y1="493.50" x2="96.50" y2="495.30" stroke="#000" stroke-width="1.2"/>
<line x1="115.50" y1="493.50" x2="115.50" y2="495.30" stroke="#000" stroke-width="1.2"/>
<line x1="134.50" y1="493.50" x2="134.50" y2="495.30" stroke="#000" stroke-width="1.2"/>
<line x1="153.50" y1="493.50" x2="153.50" y2="495.30" stroke="#000" stroke-width="1.2"/>
<line x1="172.50" y1="493.50" x2="172.50" y2="495.30" stroke="#000" stroke-width="1.2"/>
<line x1="191.50" y1="493.50" x2="191.50" y2="495.30" stroke="#000" stroke-width="1.2"/>
<line x1="209.50" y1="493.50" x2="209.50" y2="495.30" stroke="#000" stroke-width="1.2"/>
<line x1="228.50" y1="493.50" x2="228.50" y2="495.30" stroke="#000" stroke-width="1.2"/>
<text x="0" y="2.31" font-size="6.41" font-weight="bold" text-anchor="middle" fill="#000" transform="translate(49.00 502.30) scale(0.92 1)">2</text>
<text x="0" y="2.31" font-size="6.41" font-weight="bold" text-anchor="middle" fill="#000" transform="translate(67.94 502.30) scale(0.92 1)">4</text>
<text x="0" y="2.31" font-size="6.41" font-weight="bold" text-anchor="middle" fill="#000" transform="translate(86.88 502.30) scale(0.92 1)">6</text>
<text x="0" y="2.31" font-size="6.41" font-weight="bold" text-anchor="middle" fill="#000" transform="translate(105.82 502.30) scale(0.92 1)">8</text>
<text x="0" y="2.31" font-size="6.41" font-weight="bold" text-anchor="middle" fill="#000" transform="translate(124.76 502.30) scale(0.92 1)">10</text>
<text x="0" y="2.31" font-size="6.41" font-weight="bold" text-anchor="middle" fill="#000" transform="translate(143.70 502.30) scale(0.92 1)">12</text>
<text x="0" y="2.31" font-size="6.41" font-weight="bold" text-anchor="middle" fill="#000" transform="translate(162.64 502.30) scale(0.92 1)">14</text>
<text x="0" y="2.31" font-size="6.41" font-weight="bold" text-anchor="middle" fill="#000" transform="translate(181.58 502.30) scale(0.92 1)">16</text>
<text x="0" y="2.31" font-size="6.41" font-weight="bold" text-anchor="middle" fill="#000" transform="translate(200.52 502.30) scale(0.92 1)">18</text>
<text x="0" y="2.31" font-size="6.41" font-weight="bold" text-anchor="middle" fill="#000" transform="translate(219.46 502.30) scale(0.92 1)">20</text>
<text x="0" y="2.31" font-size="6.41" font-weight="bold" text-anchor="middle" fill="#000" transform="translate(238.40 502.30) scale(0.92 1)">22</text>
<text x="0" y="3.09" font-size="8.59" font-weight="bold" text-anchor="middle" fill="#000" transform="translate(16.00 433.80) rotate(-90) scale(0.92 1)">Tumor Volume (mm<tspan font-size="5" dy="-2.6">3</tspan><tspan dy="2.6">)</tspan></text>
<text x="0" y="3.09" font-size="8.59" font-weight="bold" text-anchor="middle" fill="#000" transform="translate(144.80 511.50) scale(0.92 1)">Days Post-Tumor Inoculation</text>
<line x1="67.94" y1="493.17" x2="67.94" y2="492.90" stroke="#ff2d1f" stroke-width="0.8"/>
<line x1="66.64" y1="492.90" x2="69.24" y2="492.90" stroke="#ff2d1f" stroke-width="0.8"/>
<line x1="86.88" y1="492.90" x2="86.88" y2="492.63" stroke="#ff2d1f" stroke-width="0.8"/>
<line x1="85.58" y1="492.63" x2="88.18" y2="492.63" stroke="#ff2d1f" stroke-width="0.8"/>
<line x1="105.82" y1="492.63" x2="105.82" y2="492.37" stroke="#ff2d1f" stroke-width="0.8"/>
<line x1="104.52" y1="492.37" x2="107.12" y2="492.37" stroke="#ff2d1f" stroke-width="0.8"/>
<line x1="124.76" y1="492.63" x2="124.76" y2="492.37" stroke="#ff2d1f" stroke-width="0.8"/>
<line x1="123.46" y1="492.37" x2="126.06" y2="492.37" stroke="#ff2d1f" stroke-width="0.8"/>
<line x1="143.70" y1="492.63" x2="143.70" y2="492.10" stroke="#ff2d1f" stroke-width="0.8"/>
<line x1="142.40" y1="492.10" x2="145.00" y2="492.10" stroke="#ff2d1f" stroke-width="0.8"/>
<line x1="162.64" y1="491.57" x2="162.64" y2="491.04" stroke="#ff2d1f" stroke-width="0.8"/>
<line x1="161.34" y1="491.04" x2="163.94" y2="491.04" stroke="#ff2d1f" stroke-width="0.8"/>
<line x1="181.58" y1="489.97" x2="181.58" y2="488.91" stroke="#ff2d1f" stroke-width="0.8"/>
<line x1="180.28" y1="488.91" x2="182.88" y2="488.91" stroke="#ff2d1f" stroke-width="0.8"/>
<line x1="200.52" y1="488.91" x2="200.52" y2="487.84" stroke="#ff2d1f" stroke-width="0.8"/>
<line x1="199.22" y1="487.84" x2="201.82" y2="487.84" stroke="#ff2d1f" stroke-width="0.8"/>
<line x1="219.46" y1="480.60" x2="219.46" y2="477.94" stroke="#ff2d1f" stroke-width="0.8"/>
<line x1="218.16" y1="477.94" x2="220.76" y2="477.94" stroke="#ff2d1f" stroke-width="0.8"/>
<line x1="238.40" y1="474.10" x2="238.40" y2="470.80" stroke="#ff2d1f" stroke-width="0.8"/>
<line x1="237.10" y1="470.80" x2="239.70" y2="470.80" stroke="#ff2d1f" stroke-width="0.8"/>
<polyline points="49.00,493.70 67.94,493.17 86.88,492.90 105.82,492.63 124.76,492.63 143.70,492.63 162.64,491.57 181.58,489.97 200.52,488.91 219.46,480.60 238.40,474.10" fill="none" stroke="#ff2d1f" stroke-width="1.35" stroke-linejoin="miter"/>
<circle cx="49.00" cy="493.70" r="2.0" fill="#ff2d1f"/>
<circle cx="67.94" cy="493.17" r="2.0" fill="#ff2d1f"/>
<circle cx="86.88" cy="492.90" r="2.0" fill="#ff2d1f"/>
<circle cx="105.82" cy="492.63" r="2.0" fill="#ff2d1f"/>
<circle cx="124.76" cy="492.63" r="2.0" fill="#ff2d1f"/>
<circle cx="143.70" cy="492.63" r="2.0" fill="#ff2d1f"/>
<circle cx="162.64" cy="491.57" r="2.0" fill="#ff2d1f"/>
<circle cx="181.58" cy="489.97" r="2.0" fill="#ff2d1f"/>
<circle cx="200.52" cy="488.91" r="2.0" fill="#ff2d1f"/>
<circle cx="219.46" cy="480.60" r="2.0" fill="#ff2d1f"/>
<circle cx="238.40" cy="474.10" r="2.0" fill="#ff2d1f"/>
<line x1="67.94" y1="493.43" x2="67.94" y2="493.17" stroke="#8e1b1b" stroke-width="0.8"/>
<line x1="66.64" y1="493.17" x2="69.24" y2="493.17" stroke="#8e1b1b" stroke-width="0.8"/>
<line x1="86.88" y1="493.43" x2="86.88" y2="493.17" stroke="#8e1b1b" stroke-width="0.8"/>
<line x1="85.58" y1="493.17" x2="88.18" y2="493.17" stroke="#8e1b1b" stroke-width="0.8"/>
<line x1="105.82" y1="493.43" x2="105.82" y2="493.17" stroke="#8e1b1b" stroke-width="0.8"/>
<line x1="104.52" y1="493.17" x2="107.12" y2="493.17" stroke="#8e1b1b" stroke-width="0.8"/>
<line x1="124.76" y1="493.43" x2="124.76" y2="493.17" stroke="#8e1b1b" stroke-width="0.8"/>
<line x1="123.46" y1="493.17" x2="126.06" y2="493.17" stroke="#8e1b1b" stroke-width="0.8"/>
<line x1="143.70" y1="493.43" x2="143.70" y2="493.17" stroke="#8e1b1b" stroke-width="0.8"/>
<line x1="142.40" y1="493.17" x2="145.00" y2="493.17" stroke="#8e1b1b" stroke-width="0.8"/>
<line x1="162.64" y1="493.43" x2="162.64" y2="493.17" stroke="#8e1b1b" stroke-width="0.8"/>
<line x1="161.34" y1="493.17" x2="163.94" y2="493.17" stroke="#8e1b1b" stroke-width="0.8"/>
<line x1="181.58" y1="493.43" x2="181.58" y2="493.17" stroke="#8e1b1b" stroke-width="0.8"/>
<line x1="180.28" y1="493.17" x2="182.88" y2="493.17" stroke="#8e1b1b" stroke-width="0.8"/>
<line x1="200.52" y1="493.17" x2="200.52" y2="492.90" stroke="#8e1b1b" stroke-width="0.8"/>
<line x1="199.22" y1="492.90" x2="201.82" y2="492.90" stroke="#8e1b1b" stroke-width="0.8"/>
<line x1="219.46" y1="491.57" x2="219.46" y2="491.04" stroke="#8e1b1b" stroke-width="0.8"/>
<line x1="218.16" y1="491.04" x2="220.76" y2="491.04" stroke="#8e1b1b" stroke-width="0.8"/>
<line x1="238.40" y1="491.57" x2="238.40" y2="491.04" stroke="#8e1b1b" stroke-width="0.8"/>
<line x1="237.10" y1="491.04" x2="239.70" y2="491.04" stroke="#8e1b1b" stroke-width="0.8"/>
<polyline points="49.00,493.70 67.94,493.43 86.88,493.43 105.82,493.43 124.76,493.43 143.70,493.43 162.64,493.43 181.58,493.43 200.52,493.17 219.46,491.57 238.40,491.57" fill="none" stroke="#8e1b1b" stroke-width="1.35" stroke-linejoin="miter"/>
<circle cx="49.00" cy="493.70" r="2.0" fill="#8e1b1b"/>
<circle cx="67.94" cy="493.43" r="2.0" fill="#8e1b1b"/>
<circle cx="86.88" cy="493.43" r="2.0" fill="#8e1b1b"/>
<circle cx="105.82" cy="493.43" r="2.0" fill="#8e1b1b"/>
<circle cx="124.76" cy="493.43" r="2.0" fill="#8e1b1b"/>
<circle cx="143.70" cy="493.43" r="2.0" fill="#8e1b1b"/>
<circle cx="162.64" cy="493.43" r="2.0" fill="#8e1b1b"/>
<circle cx="181.58" cy="493.43" r="2.0" fill="#8e1b1b"/>
<circle cx="200.52" cy="493.17" r="2.0" fill="#8e1b1b"/>
<circle cx="219.46" cy="491.57" r="2.0" fill="#8e1b1b"/>
<circle cx="238.40" cy="491.57" r="2.0" fill="#8e1b1b"/>
<line x1="67.94" y1="492.63" x2="67.94" y2="492.37" stroke="#8a9a2a" stroke-width="0.8"/>
<line x1="66.64" y1="492.37" x2="69.24" y2="492.37" stroke="#8a9a2a" stroke-width="0.8"/>
<line x1="86.88" y1="491.57" x2="86.88" y2="491.04" stroke="#8a9a2a" stroke-width="0.8"/>
<line x1="85.58" y1="491.04" x2="88.18" y2="491.04" stroke="#8a9a2a" stroke-width="0.8"/>
<line x1="105.82" y1="489.44" x2="105.82" y2="488.91" stroke="#8a9a2a" stroke-width="0.8"/>
<line x1="104.52" y1="488.91" x2="107.12" y2="488.91" stroke="#8a9a2a" stroke-width="0.8"/>
<line x1="124.76" y1="482.52" x2="124.76" y2="480.92" stroke="#8a9a2a" stroke-width="0.8"/>
<line x1="123.46" y1="480.92" x2="126.06" y2="480.92" stroke="#8a9a2a" stroke-width="0.8"/>
<line x1="143.70" y1="482.30" x2="143.70" y2="480.71" stroke="#8a9a2a" stroke-width="0.8"/>
<line x1="142.40" y1="480.71" x2="145.00" y2="480.71" stroke="#8a9a2a" stroke-width="0.8"/>
<line x1="162.64" y1="463.88" x2="162.64" y2="460.69" stroke="#8a9a2a" stroke-width="0.8"/>
<line x1="161.34" y1="460.69" x2="163.94" y2="460.69" stroke="#8a9a2a" stroke-width="0.8"/>
<line x1="181.58" y1="403.39" x2="181.58" y2="382.09" stroke="#8a9a2a" stroke-width="0.8"/>
<line x1="180.28" y1="382.09" x2="182.88" y2="382.09" stroke="#8a9a2a" stroke-width="0.8"/>
<polyline points="49.00,493.70 67.94,492.63 86.88,491.57 105.82,489.44 124.76,482.52 143.70,482.30 162.64,463.88 181.58,403.39" fill="none" stroke="#8a9a2a" stroke-width="1.35" stroke-linejoin="miter"/>
<circle cx="49.00" cy="493.70" r="2.0" fill="#8a9a2a"/>
<circle cx="67.94" cy="492.63" r="2.0" fill="#8a9a2a"/>
<circle cx="86.88" cy="491.57" r="2.0" fill="#8a9a2a"/>
<circle cx="105.82" cy="489.44" r="2.0" fill="#8a9a2a"/>
<circle cx="124.76" cy="482.52" r="2.0" fill="#8a9a2a"/>
<circle cx="143.70" cy="482.30" r="2.0" fill="#8a9a2a"/>
<circle cx="162.64" cy="463.88" r="2.0" fill="#8a9a2a"/>
<circle cx="181.58" cy="403.39" r="2.0" fill="#8a9a2a"/>
<line x1="67.94" y1="491.57" x2="67.94" y2="491.04" stroke="#000" stroke-width="0.8"/>
<line x1="66.64" y1="491.04" x2="69.24" y2="491.04" stroke="#000" stroke-width="0.8"/>
<line x1="86.88" y1="491.04" x2="86.88" y2="490.50" stroke="#000" stroke-width="0.8"/>
<line x1="85.58" y1="490.50" x2="88.18" y2="490.50" stroke="#000" stroke-width="0.8"/>
<line x1="105.82" y1="489.44" x2="105.82" y2="488.91" stroke="#000" stroke-width="0.8"/>
<line x1="104.52" y1="488.91" x2="107.12" y2="488.91" stroke="#000" stroke-width="0.8"/>
<line x1="124.76" y1="484.12" x2="124.76" y2="483.05" stroke="#000" stroke-width="0.8"/>
<line x1="123.46" y1="483.05" x2="126.06" y2="483.05" stroke="#000" stroke-width="0.8"/>
<line x1="143.70" y1="477.03" x2="143.70" y2="475.44" stroke="#000" stroke-width="0.8"/>
<line x1="142.40" y1="475.44" x2="145.00" y2="475.44" stroke="#000" stroke-width="0.8"/>
<line x1="162.64" y1="447.11" x2="162.64" y2="442.85" stroke="#000" stroke-width="0.8"/>
<line x1="161.34" y1="442.85" x2="163.94" y2="442.85" stroke="#000" stroke-width="0.8"/>
<line x1="181.58" y1="405.41" x2="181.58" y2="389.44" stroke="#000" stroke-width="0.8"/>
<line x1="180.28" y1="389.44" x2="182.88" y2="389.44" stroke="#000" stroke-width="0.8"/>
<polyline points="49.00,493.70 67.94,491.57 86.88,491.04 105.82,489.44 124.76,484.12 143.70,477.03 162.64,447.11 181.58,405.41" fill="none" stroke="#000" stroke-width="1.35" stroke-linejoin="miter"/>
<circle cx="49.00" cy="493.70" r="2.0" fill="#000"/>
<circle cx="67.94" cy="491.57" r="2.0" fill="#000"/>
<circle cx="86.88" cy="491.04" r="2.0" fill="#000"/>
<circle cx="105.82" cy="489.44" r="2.0" fill="#000"/>
<circle cx="124.76" cy="484.12" r="2.0" fill="#000"/>
<circle cx="143.70" cy="477.03" r="2.0" fill="#000"/>
<circle cx="162.64" cy="447.11" r="2.0" fill="#000"/>
<circle cx="181.58" cy="405.41" r="2.0" fill="#000"/>
<line x1="55.50" y1="386.20" x2="65.10" y2="386.20" stroke="#000" stroke-width="1.3"/>
<circle cx="60.30" cy="386.20" r="2.0" fill="#000"/>
<text x="0" y="2.97" font-size="8.26" font-weight="normal" text-anchor="start" fill="#111" transform="translate(68.50 386.20) scale(0.86 1)">PBS</text>
<line x1="55.50" y1="396.60" x2="65.10" y2="396.60" stroke="#8a9a2a" stroke-width="1.3"/>
<circle cx="60.30" cy="396.60" r="2.0" fill="#8a9a2a"/>
<text x="0" y="2.97" font-size="8.26" font-weight="normal" text-anchor="start" fill="#111" transform="translate(68.50 396.60) scale(0.86 1)">α-CTLA-4</text>
<line x1="55.50" y1="406.80" x2="65.10" y2="406.80" stroke="#ff2d1f" stroke-width="1.3"/>
<circle cx="60.30" cy="406.80" r="2.0" fill="#ff2d1f"/>
<text x="0" y="2.97" font-size="8.26" font-weight="normal" text-anchor="start" fill="#111" transform="translate(68.50 406.80) scale(0.86 1)">D6 mOVA LiNx</text>
<line x1="55.50" y1="416.80" x2="65.10" y2="416.80" stroke="#8e1b1b" stroke-width="1.3"/>
<circle cx="60.30" cy="416.80" r="2.0" fill="#8e1b1b"/>
<text x="0" y="2.97" font-size="8.26" font-weight="normal" text-anchor="start" fill="#111" transform="translate(68.50 416.80) scale(0.86 1)">D6 mOVA LiNx + α-CTLA-4</text>
<text x="0" y="3.24" font-size="9.00" font-weight="bold" text-anchor="start" fill="#000" transform="translate(260.40 361.06) scale(1 1)">g</text>
<line x1="297.50" y1="374.50" x2="297.50" y2="492.70" stroke="#000" stroke-width="1.5"/>
<line x1="291.90" y1="492.50" x2="297.50" y2="492.50" stroke="#000" stroke-width="1.5"/>
<line x1="291.90" y1="469.50" x2="297.50" y2="469.50" stroke="#000" stroke-width="1.5"/>
<line x1="291.90" y1="447.50" x2="297.50" y2="447.50" stroke="#000" stroke-width="1.5"/>
<line x1="291.90" y1="424.50" x2="297.50" y2="424.50" stroke="#000" stroke-width="1.5"/>
<line x1="291.90" y1="402.50" x2="297.50" y2="402.50" stroke="#000" stroke-width="1.5"/>
<line x1="291.90" y1="380.50" x2="297.50" y2="380.50" stroke="#000" stroke-width="1.5"/>
<line x1="293.70" y1="480.50" x2="297.50" y2="480.50" stroke="#000" stroke-width="1.5"/>
<line x1="293.70" y1="458.50" x2="297.50" y2="458.50" stroke="#000" stroke-width="1.5"/>
<line x1="293.70" y1="436.50" x2="297.50" y2="436.50" stroke="#000" stroke-width="1.5"/>
<line x1="293.70" y1="413.50" x2="297.50" y2="413.50" stroke="#000" stroke-width="1.5"/>
<line x1="293.70" y1="391.50" x2="297.50" y2="391.50" stroke="#000" stroke-width="1.5"/>
<text x="0" y="3.33" font-size="9.24" font-weight="bold" text-anchor="end" fill="#000" transform="translate(290.60 492.20) scale(0.92 1)">0</text>
<text x="0" y="3.33" font-size="9.24" font-weight="bold" text-anchor="end" fill="#000" transform="translate(290.60 469.78) scale(0.92 1)">20</text>
<text x="0" y="3.33" font-size="9.24" font-weight="bold" text-anchor="end" fill="#000" transform="translate(290.60 447.36) scale(0.92 1)">40</text>
<text x="0" y="3.33" font-size="9.24" font-weight="bold" text-anchor="end" fill="#000" transform="translate(290.60 424.94) scale(0.92 1)">60</text>
<text x="0" y="3.33" font-size="9.24" font-weight="bold" text-anchor="end" fill="#000" transform="translate(290.60 402.52) scale(0.92 1)">80</text>
<text x="0" y="3.33" font-size="9.24" font-weight="bold" text-anchor="end" fill="#000" transform="translate(290.60 380.10) scale(0.92 1)">100</text>
<line x1="296.90" y1="492.50" x2="532.30" y2="492.50" stroke="#000" stroke-width="1.5"/>
<line x1="297.50" y1="492.50" x2="297.50" y2="497.10" stroke="#000" stroke-width="1.5"/>
<line x1="321.50" y1="492.50" x2="321.50" y2="497.10" stroke="#000" stroke-width="1.5"/>
<line x1="345.50" y1="492.50" x2="345.50" y2="497.10" stroke="#000" stroke-width="1.5"/>
<line x1="369.50" y1="492.50" x2="369.50" y2="497.10" stroke="#000" stroke-width="1.5"/>
<line x1="393.50" y1="492.50" x2="393.50" y2="497.10" stroke="#000" stroke-width="1.5"/>
<line x1="417.50" y1="492.50" x2="417.50" y2="497.10" stroke="#000" stroke-width="1.5"/>
<line x1="441.50" y1="492.50" x2="441.50" y2="497.10" stroke="#000" stroke-width="1.5"/>
<line x1="465.50" y1="492.50" x2="465.50" y2="497.10" stroke="#000" stroke-width="1.5"/>
<line x1="489.50" y1="492.50" x2="489.50" y2="497.10" stroke="#000" stroke-width="1.5"/>
<line x1="513.50" y1="492.50" x2="513.50" y2="497.10" stroke="#000" stroke-width="1.5"/>
<line x1="309.50" y1="492.50" x2="309.50" y2="495.50" stroke="#000" stroke-width="1.5"/>
<line x1="333.50" y1="492.50" x2="333.50" y2="495.50" stroke="#000" stroke-width="1.5"/>
<line x1="357.50" y1="492.50" x2="357.50" y2="495.50" stroke="#000" stroke-width="1.5"/>
<line x1="381.50" y1="492.50" x2="381.50" y2="495.50" stroke="#000" stroke-width="1.5"/>
<line x1="405.50" y1="492.50" x2="405.50" y2="495.50" stroke="#000" stroke-width="1.5"/>
<line x1="429.50" y1="492.50" x2="429.50" y2="495.50" stroke="#000" stroke-width="1.5"/>
<line x1="453.50" y1="492.50" x2="453.50" y2="495.50" stroke="#000" stroke-width="1.5"/>
<line x1="477.50" y1="492.50" x2="477.50" y2="495.50" stroke="#000" stroke-width="1.5"/>
<line x1="501.50" y1="492.50" x2="501.50" y2="495.50" stroke="#000" stroke-width="1.5"/>
<line x1="525.50" y1="492.50" x2="525.50" y2="495.50" stroke="#000" stroke-width="1.5"/>
<text x="0" y="2.82" font-size="7.83" font-weight="bold" text-anchor="middle" fill="#000" transform="translate(297.40 503.60) scale(0.92 1)">14</text>
<text x="0" y="2.82" font-size="7.83" font-weight="bold" text-anchor="middle" fill="#000" transform="translate(321.45 503.60) scale(0.92 1)">19</text>
<text x="0" y="2.82" font-size="7.83" font-weight="bold" text-anchor="middle" fill="#000" transform="translate(345.50 503.60) scale(0.92 1)">24</text>
<text x="0" y="2.82" font-size="7.83" font-weight="bold" text-anchor="middle" fill="#000" transform="translate(369.55 503.60) scale(0.92 1)">29</text>
<text x="0" y="2.82" font-size="7.83" font-weight="bold" text-anchor="middle" fill="#000" transform="translate(393.60 503.60) scale(0.92 1)">34</text>
<text x="0" y="2.82" font-size="7.83" font-weight="bold" text-anchor="middle" fill="#000" transform="translate(417.65 503.60) scale(0.92 1)">39</text>
<text x="0" y="2.82" font-size="7.83" font-weight="bold" text-anchor="middle" fill="#000" transform="translate(441.70 503.60) scale(0.92 1)">44</text>
<text x="0" y="2.82" font-size="7.83" font-weight="bold" text-anchor="middle" fill="#000" transform="translate(465.75 503.60) scale(0.92 1)">49</text>
<text x="0" y="2.82" font-size="7.83" font-weight="bold" text-anchor="middle" fill="#000" transform="translate(489.80 503.60) scale(0.92 1)">54</text>
<text x="0" y="2.82" font-size="7.83" font-weight="bold" text-anchor="middle" fill="#000" transform="translate(513.85 503.60) scale(0.92 1)">59</text>
<text x="0" y="3.52" font-size="9.78" font-weight="bold" text-anchor="middle" fill="#000" transform="translate(270.70 431.60) rotate(-90) scale(0.92 1)">Percent Survival</text>
<text x="0" y="3.44" font-size="9.57" font-weight="bold" text-anchor="middle" fill="#000" transform="translate(414.80 514.80) scale(0.92 1)">Days Post-Tumor Inoculation</text>
<polyline points="297.40,380.10 307.02,380.10 307.02,417.43 316.64,417.43 316.64,473.48 326.26,473.48 326.26,492.20 326.26,492.20" fill="none" stroke="#8a9a2a" stroke-width="1.7" stroke-linejoin="miter"/>
<polyline points="297.40,380.10 364.74,380.10 364.74,398.82 369.55,398.82 369.55,436.15 383.98,436.15 383.98,473.48 393.60,473.48 393.60,492.20 393.60,492.20" fill="none" stroke="#ff2d1f" stroke-width="1.7" stroke-linejoin="miter"/>
<polyline points="297.40,380.10 388.79,380.10 388.79,398.82 393.60,398.82 393.60,417.43 432.08,417.43 432.08,454.87 470.56,454.87 470.56,473.48 527.32,473.48" fill="none" stroke="#8e1b1b" stroke-width="1.7" stroke-linejoin="miter"/>
<polyline points="297.40,380.10 307.02,380.10 307.02,436.15 316.64,436.15 316.64,492.20 316.64,492.20" fill="none" stroke="#000" stroke-width="1.7" stroke-linejoin="miter"/>
<line x1="527.32" y1="473.48" x2="527.32" y2="471.48" stroke="#8e1b1b" stroke-width="1"/>
<line x1="451.00" y1="392.20" x2="462.00" y2="392.20" stroke="#000" stroke-width="1.5"/>
<line x1="456.50" y1="389.60" x2="456.50" y2="392.20" stroke="#000" stroke-width="1.0"/>
<text x="0" y="3.22" font-size="8.95" font-weight="normal" text-anchor="start" fill="#111" transform="translate(467.70 392.20) scale(0.86 1)">PBS</text>
<line x1="451.00" y1="406.20" x2="462.00" y2="406.20" stroke="#8a9a2a" stroke-width="1.5"/>
<line x1="456.50" y1="403.60" x2="456.50" y2="406.20" stroke="#8a9a2a" stroke-width="1.0"/>
<text x="0" y="3.22" font-size="8.95" font-weight="normal" text-anchor="start" fill="#111" transform="translate(467.70 406.20) scale(0.86 1)">α-CTLA-4</text>
<line x1="451.00" y1="421.50" x2="462.00" y2="421.50" stroke="#ff2d1f" stroke-width="1.5"/>
<line x1="456.50" y1="418.90" x2="456.50" y2="421.50" stroke="#ff2d1f" stroke-width="1.0"/>
<text x="0" y="3.22" font-size="8.95" font-weight="normal" text-anchor="start" fill="#111" transform="translate(467.70 421.50) scale(0.86 1)">D6 mOVA LiNx</text>
<line x1="451.00" y1="435.80" x2="462.00" y2="435.80" stroke="#8e1b1b" stroke-width="1.5"/>
<line x1="456.50" y1="433.20" x2="456.50" y2="435.80" stroke="#8e1b1b" stroke-width="1.0"/>
<text x="0" y="3.22" font-size="8.95" font-weight="normal" text-anchor="start" fill="#111" transform="translate(467.70 435.80) scale(0.86 1)">D6 mOVA LiNx + α-CTLA-4</text>
<line x1="502.60" y1="392.20" x2="572.30" y2="392.20" stroke="#000" stroke-width="1.4"/>
<line x1="572.30" y1="392.20" x2="572.30" y2="429.40" stroke="#000" stroke-width="1.4"/>
<line x1="565.20" y1="429.40" x2="572.30" y2="429.40" stroke="#000" stroke-width="1.4"/>
<line x1="565.20" y1="419.70" x2="565.20" y2="437.60" stroke="#000" stroke-width="1.4"/>
<text x="0" y="4.11" font-size="11.41" font-weight="bold" text-anchor="middle" fill="#000" transform="translate(579.40 394.50) rotate(90) scale(0.92 1)">***</text>
<text x="0" y="3.01" font-size="8.37" font-weight="normal" text-anchor="middle" fill="#000" transform="translate(580.00 425.50) rotate(90) scale(0.92 1)"><tspan font-style="italic">P</tspan>=0.0027</text>
<line x1="587.70" y1="416.20" x2="587.70" y2="441.20" stroke="#000" stroke-width="1.4"/>
<text x="0" y="4.11" font-size="11.41" font-weight="bold" text-anchor="middle" fill="#000" transform="translate(595.20 412.30) rotate(90) scale(0.92 1)">**</text>
<text x="0" y="3.01" font-size="8.37" font-weight="normal" text-anchor="middle" fill="#000" transform="translate(596.00 437.00) rotate(90) scale(0.92 1)"><tspan font-style="italic">P</tspan>=0.0039</text>
<text x="0" y="3.01" font-size="8.37" font-weight="bold" text-anchor="middle" fill="#000" transform="translate(621.50 381.10) scale(0.92 1)">Median survival (d)</text>
<text x="0" y="2.93" font-size="8.15" font-weight="bold" text-anchor="middle" fill="#000" transform="translate(622.40 394.70) scale(0.92 1)">17</text>
<text x="0" y="2.93" font-size="8.15" font-weight="bold" text-anchor="middle" fill="#000" transform="translate(622.40 407.20) scale(0.92 1)">18</text>
<text x="0" y="2.93" font-size="8.15" font-weight="bold" text-anchor="middle" fill="#000" transform="translate(622.40 423.30) scale(0.92 1)">30.5</text>
<text x="0" y="2.93" font-size="8.15" font-weight="bold" text-anchor="middle" fill="#000" transform="translate(622.40 437.60) scale(0.92 1)">42</text>
<text x="0" y="3.24" font-size="9.00" font-weight="bold" text-anchor="start" fill="#000" transform="translate(2.80 544.46) scale(1 1)">h</text>
<text x="0" y="2.86" font-size="7.93" font-weight="bold" text-anchor="start" fill="#000" transform="translate(111.20 552.50) scale(0.92 1)">B16F10 melanoma</text>
<line x1="48.50" y1="567.40" x2="48.50" y2="677.00" stroke="#000" stroke-width="1.2"/>
<line x1="45.00" y1="676.50" x2="48.50" y2="676.50" stroke="#000" stroke-width="1.2"/>
<line x1="45.00" y1="656.50" x2="48.50" y2="656.50" stroke="#000" stroke-width="1.2"/>
<line x1="45.00" y1="636.50" x2="48.50" y2="636.50" stroke="#000" stroke-width="1.2"/>
<line x1="45.00" y1="617.50" x2="48.50" y2="617.50" stroke="#000" stroke-width="1.2"/>
<line x1="45.00" y1="597.50" x2="48.50" y2="597.50" stroke="#000" stroke-width="1.2"/>
<line x1="45.00" y1="577.50" x2="48.50" y2="577.50" stroke="#000" stroke-width="1.2"/>
<line x1="46.50" y1="666.50" x2="48.50" y2="666.50" stroke="#000" stroke-width="1.2"/>
<line x1="46.50" y1="646.50" x2="48.50" y2="646.50" stroke="#000" stroke-width="1.2"/>
<line x1="46.50" y1="626.50" x2="48.50" y2="626.50" stroke="#000" stroke-width="1.2"/>
<line x1="46.50" y1="607.50" x2="48.50" y2="607.50" stroke="#000" stroke-width="1.2"/>
<line x1="46.50" y1="587.50" x2="48.50" y2="587.50" stroke="#000" stroke-width="1.2"/>
<line x1="46.50" y1="567.50" x2="48.50" y2="567.50" stroke="#000" stroke-width="1.2"/>
<text x="0" y="2.90" font-size="8.04" font-weight="bold" text-anchor="end" fill="#000" transform="translate(44.00 676.50) scale(0.92 1)">0</text>
<text x="0" y="2.90" font-size="8.04" font-weight="bold" text-anchor="end" fill="#000" transform="translate(44.00 656.68) scale(0.92 1)">400</text>
<text x="0" y="2.90" font-size="8.04" font-weight="bold" text-anchor="end" fill="#000" transform="translate(44.00 636.85) scale(0.92 1)">800</text>
<text x="0" y="2.90" font-size="8.04" font-weight="bold" text-anchor="end" fill="#000" transform="translate(44.00 617.03) scale(0.92 1)">1200</text>
<text x="0" y="2.90" font-size="8.04" font-weight="bold" text-anchor="end" fill="#000" transform="translate(44.00 597.20) scale(0.92 1)">1600</text>
<text x="0" y="2.90" font-size="8.04" font-weight="bold" text-anchor="end" fill="#000" transform="translate(44.00 577.38) scale(0.92 1)">2000</text>
<line x1="47.90" y1="676.50" x2="237.00" y2="676.50" stroke="#000" stroke-width="1.2"/>
<line x1="64.50" y1="676.50" x2="64.50" y2="679.50" stroke="#000" stroke-width="1.2"/>
<line x1="95.50" y1="676.50" x2="95.50" y2="679.50" stroke="#000" stroke-width="1.2"/>
<line x1="127.50" y1="676.50" x2="127.50" y2="679.50" stroke="#000" stroke-width="1.2"/>
<line x1="158.50" y1="676.50" x2="158.50" y2="679.50" stroke="#000" stroke-width="1.2"/>
<line x1="189.50" y1="676.50" x2="189.50" y2="679.50" stroke="#000" stroke-width="1.2"/>
<line x1="220.50" y1="676.50" x2="220.50" y2="679.50" stroke="#000" stroke-width="1.2"/>
<line x1="48.50" y1="676.50" x2="48.50" y2="678.30" stroke="#000" stroke-width="1.2"/>
<line x1="80.50" y1="676.50" x2="80.50" y2="678.30" stroke="#000" stroke-width="1.2"/>
<line x1="111.50" y1="676.50" x2="111.50" y2="678.30" stroke="#000" stroke-width="1.2"/>
<line x1="142.50" y1="676.50" x2="142.50" y2="678.30" stroke="#000" stroke-width="1.2"/>
<line x1="173.50" y1="676.50" x2="173.50" y2="678.30" stroke="#000" stroke-width="1.2"/>
<line x1="205.50" y1="676.50" x2="205.50" y2="678.30" stroke="#000" stroke-width="1.2"/>
<line x1="236.50" y1="676.50" x2="236.50" y2="678.30" stroke="#000" stroke-width="1.2"/>
<text x="0" y="2.19" font-size="6.09" font-weight="bold" text-anchor="middle" fill="#000" transform="translate(64.60 685.30) scale(0.92 1)">4</text>
<text x="0" y="2.19" font-size="6.09" font-weight="bold" text-anchor="middle" fill="#000" transform="translate(95.84 685.30) scale(0.92 1)">6</text>
<text x="0" y="2.19" font-size="6.09" font-weight="bold" text-anchor="middle" fill="#000" transform="translate(127.08 685.30) scale(0.92 1)">8</text>
<text x="0" y="2.19" font-size="6.09" font-weight="bold" text-anchor="middle" fill="#000" transform="translate(158.32 685.30) scale(0.92 1)">10</text>
<text x="0" y="2.19" font-size="6.09" font-weight="bold" text-anchor="middle" fill="#000" transform="translate(189.56 685.30) scale(0.92 1)">12</text>
<text x="0" y="2.19" font-size="6.09" font-weight="bold" text-anchor="middle" fill="#000" transform="translate(220.80 685.30) scale(0.92 1)">14</text>
<line x1="239" y1="673.3" x2="262" y2="673.3" stroke="#aaa" stroke-width="0.6" stroke-dasharray="1.2,1.6"/>
<text x="0" y="2.93" font-size="8.15" font-weight="bold" text-anchor="middle" fill="#000" transform="translate(17.40 620.00) rotate(-90) scale(0.92 1)">Tumor Volume (mm<tspan font-size="4.8" dy="-2.6">3</tspan><tspan dy="2.6">)</tspan></text>
<text x="0" y="2.82" font-size="7.83" font-weight="bold" text-anchor="middle" fill="#000" transform="translate(143.00 699.70) scale(0.92 1)">Days Post-Tumor Inoculation</text>
<line x1="64.60" y1="676.25" x2="64.60" y2="676.10" stroke="#4a92f0" stroke-width="0.8"/>
<line x1="63.30" y1="676.10" x2="65.90" y2="676.10" stroke="#4a92f0" stroke-width="0.8"/>
<line x1="95.84" y1="676.25" x2="95.84" y2="676.10" stroke="#4a92f0" stroke-width="0.8"/>
<line x1="94.54" y1="676.10" x2="97.14" y2="676.10" stroke="#4a92f0" stroke-width="0.8"/>
<line x1="127.08" y1="676.00" x2="127.08" y2="675.76" stroke="#4a92f0" stroke-width="0.8"/>
<line x1="125.78" y1="675.76" x2="128.38" y2="675.76" stroke="#4a92f0" stroke-width="0.8"/>
<line x1="158.32" y1="674.52" x2="158.32" y2="674.02" stroke="#4a92f0" stroke-width="0.8"/>
<line x1="157.02" y1="674.02" x2="159.62" y2="674.02" stroke="#4a92f0" stroke-width="0.8"/>
<line x1="189.56" y1="674.52" x2="189.56" y2="674.02" stroke="#4a92f0" stroke-width="0.8"/>
<line x1="188.26" y1="674.02" x2="190.86" y2="674.02" stroke="#4a92f0" stroke-width="0.8"/>
<line x1="220.80" y1="670.40" x2="220.80" y2="668.92" stroke="#4a92f0" stroke-width="0.8"/>
<line x1="219.50" y1="668.92" x2="222.10" y2="668.92" stroke="#4a92f0" stroke-width="0.8"/>
<polyline points="64.60,676.25 95.84,676.25 127.08,676.00 158.32,674.52 189.56,674.52 220.80,670.40" fill="none" stroke="#4a92f0" stroke-width="1.35" stroke-linejoin="miter"/>
<circle cx="64.60" cy="676.25" r="2.0" fill="#4a92f0"/>
<circle cx="95.84" cy="676.25" r="2.0" fill="#4a92f0"/>
<circle cx="127.08" cy="676.00" r="2.0" fill="#4a92f0"/>
<circle cx="158.32" cy="674.52" r="2.0" fill="#4a92f0"/>
<circle cx="189.56" cy="674.52" r="2.0" fill="#4a92f0"/>
<circle cx="220.80" cy="670.40" r="2.0" fill="#4a92f0"/>
<line x1="64.60" y1="676.25" x2="64.60" y2="676.10" stroke="#2a4f9c" stroke-width="0.8"/>
<line x1="63.30" y1="676.10" x2="65.90" y2="676.10" stroke="#2a4f9c" stroke-width="0.8"/>
<line x1="95.84" y1="676.00" x2="95.84" y2="675.76" stroke="#2a4f9c" stroke-width="0.8"/>
<line x1="94.54" y1="675.76" x2="97.14" y2="675.76" stroke="#2a4f9c" stroke-width="0.8"/>
<line x1="127.08" y1="676.00" x2="127.08" y2="675.76" stroke="#2a4f9c" stroke-width="0.8"/>
<line x1="125.78" y1="675.76" x2="128.38" y2="675.76" stroke="#2a4f9c" stroke-width="0.8"/>
<line x1="158.32" y1="673.53" x2="158.32" y2="672.78" stroke="#2a4f9c" stroke-width="0.8"/>
<line x1="157.02" y1="672.78" x2="159.62" y2="672.78" stroke="#2a4f9c" stroke-width="0.8"/>
<line x1="189.56" y1="669.21" x2="189.56" y2="666.74" stroke="#2a4f9c" stroke-width="0.8"/>
<line x1="188.26" y1="666.74" x2="190.86" y2="666.74" stroke="#2a4f9c" stroke-width="0.8"/>
<line x1="220.80" y1="661.88" x2="220.80" y2="658.91" stroke="#2a4f9c" stroke-width="0.8"/>
<line x1="219.50" y1="658.91" x2="222.10" y2="658.91" stroke="#2a4f9c" stroke-width="0.8"/>
<polyline points="64.60,676.25 95.84,676.00 127.08,676.00 158.32,673.53 189.56,669.21 220.80,661.88" fill="none" stroke="#2a4f9c" stroke-width="1.35" stroke-linejoin="miter"/>
<circle cx="64.60" cy="676.25" r="2.0" fill="#2a4f9c"/>
<circle cx="95.84" cy="676.00" r="2.0" fill="#2a4f9c"/>
<circle cx="127.08" cy="676.00" r="2.0" fill="#2a4f9c"/>
<circle cx="158.32" cy="673.53" r="2.0" fill="#2a4f9c"/>
<circle cx="189.56" cy="669.21" r="2.0" fill="#2a4f9c"/>
<circle cx="220.80" cy="661.88" r="2.0" fill="#2a4f9c"/>
<line x1="64.60" y1="676.00" x2="64.60" y2="675.86" stroke="#ff2d1f" stroke-width="0.8"/>
<line x1="63.30" y1="675.86" x2="65.90" y2="675.86" stroke="#ff2d1f" stroke-width="0.8"/>
<line x1="95.84" y1="676.00" x2="95.84" y2="675.86" stroke="#ff2d1f" stroke-width="0.8"/>
<line x1="94.54" y1="675.86" x2="97.14" y2="675.86" stroke="#ff2d1f" stroke-width="0.8"/>
<line x1="127.08" y1="676.00" x2="127.08" y2="675.76" stroke="#ff2d1f" stroke-width="0.8"/>
<line x1="125.78" y1="675.76" x2="128.38" y2="675.76" stroke="#ff2d1f" stroke-width="0.8"/>
<line x1="158.32" y1="675.51" x2="158.32" y2="675.01" stroke="#ff2d1f" stroke-width="0.8"/>
<line x1="157.02" y1="675.01" x2="159.62" y2="675.01" stroke="#ff2d1f" stroke-width="0.8"/>
<line x1="189.56" y1="675.51" x2="189.56" y2="675.01" stroke="#ff2d1f" stroke-width="0.8"/>
<line x1="188.26" y1="675.01" x2="190.86" y2="675.01" stroke="#ff2d1f" stroke-width="0.8"/>
<line x1="220.80" y1="672.04" x2="220.80" y2="671.05" stroke="#ff2d1f" stroke-width="0.8"/>
<line x1="219.50" y1="671.05" x2="222.10" y2="671.05" stroke="#ff2d1f" stroke-width="0.8"/>
<polyline points="64.60,676.00 95.84,676.00 127.08,676.00 158.32,675.51 189.56,675.51 220.80,672.04" fill="none" stroke="#ff2d1f" stroke-width="1.35" stroke-linejoin="miter"/>
<circle cx="64.60" cy="676.00" r="2.0" fill="#ff2d1f"/>
<circle cx="95.84" cy="676.00" r="2.0" fill="#ff2d1f"/>
<circle cx="127.08" cy="676.00" r="2.0" fill="#ff2d1f"/>
<circle cx="158.32" cy="675.51" r="2.0" fill="#ff2d1f"/>
<circle cx="189.56" cy="675.51" r="2.0" fill="#ff2d1f"/>
<circle cx="220.80" cy="672.04" r="2.0" fill="#ff2d1f"/>
<line x1="64.60" y1="676.00" x2="64.60" y2="675.86" stroke="#8e1b1b" stroke-width="0.8"/>
<line x1="63.30" y1="675.86" x2="65.90" y2="675.86" stroke="#8e1b1b" stroke-width="0.8"/>
<line x1="95.84" y1="676.00" x2="95.84" y2="675.86" stroke="#8e1b1b" stroke-width="0.8"/>
<line x1="94.54" y1="675.86" x2="97.14" y2="675.86" stroke="#8e1b1b" stroke-width="0.8"/>
<line x1="127.08" y1="675.76" x2="127.08" y2="675.51" stroke="#8e1b1b" stroke-width="0.8"/>
<line x1="125.78" y1="675.51" x2="128.38" y2="675.51" stroke="#8e1b1b" stroke-width="0.8"/>
<line x1="158.32" y1="672.54" x2="158.32" y2="671.54" stroke="#8e1b1b" stroke-width="0.8"/>
<line x1="157.02" y1="671.54" x2="159.62" y2="671.54" stroke="#8e1b1b" stroke-width="0.8"/>
<line x1="189.56" y1="673.03" x2="189.56" y2="672.04" stroke="#8e1b1b" stroke-width="0.8"/>
<line x1="188.26" y1="672.04" x2="190.86" y2="672.04" stroke="#8e1b1b" stroke-width="0.8"/>
<line x1="220.80" y1="665.99" x2="220.80" y2="663.52" stroke="#8e1b1b" stroke-width="0.8"/>
<line x1="219.50" y1="663.52" x2="222.10" y2="663.52" stroke="#8e1b1b" stroke-width="0.8"/>
<polyline points="64.60,676.00 95.84,676.00 127.08,675.76 158.32,672.54 189.56,673.03 220.80,665.99" fill="none" stroke="#8e1b1b" stroke-width="1.35" stroke-linejoin="miter"/>
<circle cx="64.60" cy="676.00" r="2.0" fill="#8e1b1b"/>
<circle cx="95.84" cy="676.00" r="2.0" fill="#8e1b1b"/>
<circle cx="127.08" cy="675.76" r="2.0" fill="#8e1b1b"/>
<circle cx="158.32" cy="672.54" r="2.0" fill="#8e1b1b"/>
<circle cx="189.56" cy="673.03" r="2.0" fill="#8e1b1b"/>
<circle cx="220.80" cy="665.99" r="2.0" fill="#8e1b1b"/>
<line x1="64.60" y1="675.76" x2="64.60" y2="675.51" stroke="#000" stroke-width="0.8"/>
<line x1="63.30" y1="675.51" x2="65.90" y2="675.51" stroke="#000" stroke-width="0.8"/>
<line x1="95.84" y1="673.72" x2="95.84" y2="673.23" stroke="#000" stroke-width="0.8"/>
<line x1="94.54" y1="673.23" x2="97.14" y2="673.23" stroke="#000" stroke-width="0.8"/>
<line x1="127.08" y1="668.42" x2="127.08" y2="667.43" stroke="#000" stroke-width="0.8"/>
<line x1="125.78" y1="667.43" x2="128.38" y2="667.43" stroke="#000" stroke-width="0.8"/>
<line x1="158.32" y1="641.41" x2="158.32" y2="636.46" stroke="#000" stroke-width="0.8"/>
<line x1="157.02" y1="636.46" x2="159.62" y2="636.46" stroke="#000" stroke-width="0.8"/>
<line x1="189.56" y1="616.88" x2="189.56" y2="607.91" stroke="#000" stroke-width="0.8"/>
<line x1="188.26" y1="607.91" x2="190.86" y2="607.91" stroke="#000" stroke-width="0.8"/>
<line x1="220.80" y1="584.62" x2="220.80" y2="566.97" stroke="#000" stroke-width="0.8"/>
<line x1="219.50" y1="566.97" x2="222.10" y2="566.97" stroke="#000" stroke-width="0.8"/>
<polyline points="64.60,675.76 95.84,673.72 127.08,668.42 158.32,641.41 189.56,616.88 220.80,584.62" fill="none" stroke="#000" stroke-width="1.35" stroke-linejoin="miter"/>
<circle cx="64.60" cy="675.76" r="2.0" fill="#000"/>
<circle cx="95.84" cy="673.72" r="2.0" fill="#000"/>
<circle cx="127.08" cy="668.42" r="2.0" fill="#000"/>
<circle cx="158.32" cy="641.41" r="2.0" fill="#000"/>
<circle cx="189.56" cy="616.88" r="2.0" fill="#000"/>
<circle cx="220.80" cy="584.62" r="2.0" fill="#000"/>
<line x1="56.10" y1="571.90" x2="65.70" y2="571.90" stroke="#000" stroke-width="1.3"/>
<circle cx="60.90" cy="571.90" r="2.0" fill="#000"/>
<text x="0" y="3.10" font-size="8.60" font-weight="normal" text-anchor="start" fill="#111" transform="translate(69.10 571.90) scale(0.86 1)">PBS</text>
<line x1="56.10" y1="582.10" x2="65.70" y2="582.10" stroke="#8e1b1b" stroke-width="1.3"/>
<circle cx="60.90" cy="582.10" r="2.0" fill="#8e1b1b"/>
<text x="0" y="3.10" font-size="8.60" font-weight="normal" text-anchor="start" fill="#111" transform="translate(69.10 582.10) scale(0.86 1)">D6 mTrp2 LiNx</text>
<line x1="56.10" y1="592.30" x2="65.70" y2="592.30" stroke="#ff2d1f" stroke-width="1.3"/>
<circle cx="60.90" cy="592.30" r="2.0" fill="#ff2d1f"/>
<text x="0" y="3.10" font-size="8.60" font-weight="normal" text-anchor="start" fill="#111" transform="translate(69.10 592.30) scale(0.86 1)">D6 mTrp2 LiNx + α-CTLA-4</text>
<line x1="56.10" y1="603.20" x2="65.70" y2="603.20" stroke="#2a4f9c" stroke-width="1.3"/>
<circle cx="60.90" cy="603.20" r="2.0" fill="#2a4f9c"/>
<text x="0" y="3.10" font-size="8.60" font-weight="normal" text-anchor="start" fill="#111" transform="translate(69.10 603.20) scale(0.86 1)">D6 mGp100 LiNx</text>
<line x1="56.10" y1="613.40" x2="65.70" y2="613.40" stroke="#4a92f0" stroke-width="1.3"/>
<circle cx="60.90" cy="613.40" r="2.0" fill="#4a92f0"/>
<text x="0" y="3.10" font-size="8.60" font-weight="normal" text-anchor="start" fill="#111" transform="translate(69.10 613.40) scale(0.86 1)">D6 mGp100 LiNx + α-CTLA-4</text>
<text x="0" y="3.24" font-size="9.00" font-weight="bold" text-anchor="start" fill="#000" transform="translate(259.40 544.06) scale(1 1)">i</text>
<line x1="296.50" y1="548.80" x2="296.50" y2="677.40" stroke="#000" stroke-width="1.5"/>
<line x1="290.90" y1="676.50" x2="296.50" y2="676.50" stroke="#000" stroke-width="1.5"/>
<line x1="290.90" y1="652.50" x2="296.50" y2="652.50" stroke="#000" stroke-width="1.5"/>
<line x1="290.90" y1="627.50" x2="296.50" y2="627.50" stroke="#000" stroke-width="1.5"/>
<line x1="290.90" y1="603.50" x2="296.50" y2="603.50" stroke="#000" stroke-width="1.5"/>
<line x1="290.90" y1="578.50" x2="296.50" y2="578.50" stroke="#000" stroke-width="1.5"/>
<line x1="290.90" y1="554.50" x2="296.50" y2="554.50" stroke="#000" stroke-width="1.5"/>
<line x1="292.70" y1="664.50" x2="296.50" y2="664.50" stroke="#000" stroke-width="1.5"/>
<line x1="292.70" y1="640.50" x2="296.50" y2="640.50" stroke="#000" stroke-width="1.5"/>
<line x1="292.70" y1="615.50" x2="296.50" y2="615.50" stroke="#000" stroke-width="1.5"/>
<line x1="292.70" y1="591.50" x2="296.50" y2="591.50" stroke="#000" stroke-width="1.5"/>
<line x1="292.70" y1="566.50" x2="296.50" y2="566.50" stroke="#000" stroke-width="1.5"/>
<text x="0" y="3.33" font-size="9.24" font-weight="bold" text-anchor="end" fill="#000" transform="translate(289.60 676.90) scale(0.92 1)">0</text>
<text x="0" y="3.33" font-size="9.24" font-weight="bold" text-anchor="end" fill="#000" transform="translate(289.60 652.37) scale(0.92 1)">20</text>
<text x="0" y="3.33" font-size="9.24" font-weight="bold" text-anchor="end" fill="#000" transform="translate(289.60 627.83) scale(0.92 1)">40</text>
<text x="0" y="3.33" font-size="9.24" font-weight="bold" text-anchor="end" fill="#000" transform="translate(289.60 603.30) scale(0.92 1)">60</text>
<text x="0" y="3.33" font-size="9.24" font-weight="bold" text-anchor="end" fill="#000" transform="translate(289.60 578.76) scale(0.92 1)">80</text>
<text x="0" y="3.33" font-size="9.24" font-weight="bold" text-anchor="end" fill="#000" transform="translate(289.60 554.23) scale(0.92 1)">100</text>
<line x1="295.90" y1="676.50" x2="534.70" y2="676.50" stroke="#000" stroke-width="1.5"/>
<line x1="309.50" y1="676.50" x2="309.50" y2="681.10" stroke="#000" stroke-width="1.5"/>
<line x1="333.50" y1="676.50" x2="333.50" y2="681.10" stroke="#000" stroke-width="1.5"/>
<line x1="357.50" y1="676.50" x2="357.50" y2="681.10" stroke="#000" stroke-width="1.5"/>
<line x1="382.50" y1="676.50" x2="382.50" y2="681.10" stroke="#000" stroke-width="1.5"/>
<line x1="406.50" y1="676.50" x2="406.50" y2="681.10" stroke="#000" stroke-width="1.5"/>
<line x1="431.50" y1="676.50" x2="431.50" y2="681.10" stroke="#000" stroke-width="1.5"/>
<line x1="455.50" y1="676.50" x2="455.50" y2="681.10" stroke="#000" stroke-width="1.5"/>
<line x1="479.50" y1="676.50" x2="479.50" y2="681.10" stroke="#000" stroke-width="1.5"/>
<line x1="504.50" y1="676.50" x2="504.50" y2="681.10" stroke="#000" stroke-width="1.5"/>
<line x1="528.50" y1="676.50" x2="528.50" y2="681.10" stroke="#000" stroke-width="1.5"/>
<line x1="296.50" y1="676.50" x2="296.50" y2="679.50" stroke="#000" stroke-width="1.5"/>
<line x1="321.50" y1="676.50" x2="321.50" y2="679.50" stroke="#000" stroke-width="1.5"/>
<line x1="345.50" y1="676.50" x2="345.50" y2="679.50" stroke="#000" stroke-width="1.5"/>
<line x1="370.50" y1="676.50" x2="370.50" y2="679.50" stroke="#000" stroke-width="1.5"/>
<line x1="394.50" y1="676.50" x2="394.50" y2="679.50" stroke="#000" stroke-width="1.5"/>
<line x1="418.50" y1="676.50" x2="418.50" y2="679.50" stroke="#000" stroke-width="1.5"/>
<line x1="443.50" y1="676.50" x2="443.50" y2="679.50" stroke="#000" stroke-width="1.5"/>
<line x1="467.50" y1="676.50" x2="467.50" y2="679.50" stroke="#000" stroke-width="1.5"/>
<line x1="492.50" y1="676.50" x2="492.50" y2="679.50" stroke="#000" stroke-width="1.5"/>
<line x1="516.50" y1="676.50" x2="516.50" y2="679.50" stroke="#000" stroke-width="1.5"/>
<text x="0" y="3.13" font-size="8.70" font-weight="bold" text-anchor="middle" fill="#000" transform="translate(309.00 688.00) scale(0.92 1)">12</text>
<text x="0" y="3.13" font-size="8.70" font-weight="bold" text-anchor="middle" fill="#000" transform="translate(333.40 688.00) scale(0.92 1)">14</text>
<text x="0" y="3.13" font-size="8.70" font-weight="bold" text-anchor="middle" fill="#000" transform="translate(357.80 688.00) scale(0.92 1)">16</text>
<text x="0" y="3.13" font-size="8.70" font-weight="bold" text-anchor="middle" fill="#000" transform="translate(382.20 688.00) scale(0.92 1)">18</text>
<text x="0" y="3.13" font-size="8.70" font-weight="bold" text-anchor="middle" fill="#000" transform="translate(406.60 688.00) scale(0.92 1)">20</text>
<text x="0" y="3.13" font-size="8.70" font-weight="bold" text-anchor="middle" fill="#000" transform="translate(431.00 688.00) scale(0.92 1)">22</text>
<text x="0" y="3.13" font-size="8.70" font-weight="bold" text-anchor="middle" fill="#000" transform="translate(455.40 688.00) scale(0.92 1)">24</text>
<text x="0" y="3.13" font-size="8.70" font-weight="bold" text-anchor="middle" fill="#000" transform="translate(479.80 688.00) scale(0.92 1)">26</text>
<text x="0" y="3.13" font-size="8.70" font-weight="bold" text-anchor="middle" fill="#000" transform="translate(504.20 688.00) scale(0.92 1)">28</text>
<text x="0" y="3.13" font-size="8.70" font-weight="bold" text-anchor="middle" fill="#000" transform="translate(528.60 688.00) scale(0.92 1)">30</text>
<text x="0" y="3.83" font-size="10.65" font-weight="bold" text-anchor="middle" fill="#000" transform="translate(270.30 612.50) rotate(-90) scale(0.92 1)">Percent Survival</text>
<text x="0" y="3.27" font-size="9.08" font-weight="bold" text-anchor="middle" fill="#000" transform="translate(412.80 700.30) scale(0.92 1)">Days Post-Tumor Inoculation</text>
<polyline points="296.80,554.23 382.20,554.23 382.20,574.72 406.60,574.72 406.60,595.08 418.80,595.08 418.80,615.56 431.00,615.56 431.00,636.05 443.20,636.05 443.20,656.41 455.40,656.41 455.40,676.90 455.40,676.90" fill="none" stroke="#2a4f9c" stroke-width="1.7" stroke-linejoin="miter"/>
<polyline points="296.80,554.23 431.00,554.23 431.00,574.72 443.20,574.72 443.20,615.56 455.40,615.56 455.40,636.05 467.60,636.05 467.60,656.41 479.80,656.41 479.80,676.90 479.80,676.90" fill="none" stroke="#4a92f0" stroke-width="1.7" stroke-linejoin="miter"/>
<polyline points="296.80,554.23 406.60,554.23 406.60,574.72 418.80,574.72 418.80,595.08 431.00,595.08 431.00,615.56 443.20,615.56 443.20,636.05 455.40,636.05 455.40,656.41 467.60,656.41" fill="none" stroke="#8e1b1b" stroke-width="1.7" stroke-linejoin="miter"/>
<polyline points="296.80,554.23 406.60,554.23 406.60,574.72 455.40,574.72 455.40,615.56 479.80,615.56 479.80,636.05 504.20,636.05 504.20,656.41 528.60,656.41 528.60,676.90 528.60,676.90" fill="none" stroke="#ff2d1f" stroke-width="1.7" stroke-linejoin="miter"/>
<polyline points="296.80,554.23 309.00,554.23 309.00,574.72 321.20,574.72 321.20,615.56 345.60,615.56 345.60,676.90 345.60,676.90" fill="none" stroke="#000" stroke-width="1.7" stroke-linejoin="miter"/>
<line x1="469.10" y1="540.40" x2="480.30" y2="540.40" stroke="#000" stroke-width="1.5"/>
<line x1="474.70" y1="537.80" x2="474.70" y2="540.40" stroke="#000" stroke-width="1.0"/>
<text x="0" y="3.12" font-size="8.66" font-weight="normal" text-anchor="start" fill="#111" transform="translate(485.00 540.40) scale(0.86 1)">PBS</text>
<line x1="469.10" y1="552.80" x2="480.30" y2="552.80" stroke="#8e1b1b" stroke-width="1.5"/>
<line x1="474.70" y1="550.20" x2="474.70" y2="552.80" stroke="#8e1b1b" stroke-width="1.0"/>
<text x="0" y="3.12" font-size="8.66" font-weight="normal" text-anchor="start" fill="#111" transform="translate(485.00 552.80) scale(0.86 1)">D6 mTrp2 LiNx</text>
<line x1="469.10" y1="565.30" x2="480.30" y2="565.30" stroke="#ff2d1f" stroke-width="1.5"/>
<line x1="474.70" y1="562.70" x2="474.70" y2="565.30" stroke="#ff2d1f" stroke-width="1.0"/>
<text x="0" y="3.12" font-size="8.66" font-weight="normal" text-anchor="start" fill="#111" transform="translate(485.00 565.30) scale(0.86 1)">D6 mTrp2&#160; LiNx + α-CTLA-4</text>
<line x1="469.10" y1="577.90" x2="480.30" y2="577.90" stroke="#2a4f9c" stroke-width="1.5"/>
<line x1="474.70" y1="575.30" x2="474.70" y2="577.90" stroke="#2a4f9c" stroke-width="1.0"/>
<text x="0" y="3.12" font-size="8.66" font-weight="normal" text-anchor="start" fill="#111" transform="translate(485.00 577.90) scale(0.86 1)">D6 mGp100&#160; LiNx</text>
<line x1="469.10" y1="590.50" x2="480.30" y2="590.50" stroke="#4a92f0" stroke-width="1.5"/>
<line x1="474.70" y1="587.90" x2="474.70" y2="590.50" stroke="#4a92f0" stroke-width="1.0"/>
<text x="0" y="3.12" font-size="8.66" font-weight="normal" text-anchor="start" fill="#111" transform="translate(485.00 590.50) scale(0.86 1)">D6 mGp100&#160; LiNx + α-CTLA-4</text>
<line x1="516.50" y1="540.20" x2="599.70" y2="540.20" stroke="#000" stroke-width="1.1"/>
<line x1="599.70" y1="540.20" x2="599.70" y2="572.00" stroke="#000" stroke-width="1.1"/>
<line x1="594.60" y1="572.00" x2="599.70" y2="572.00" stroke="#000" stroke-width="1.1"/>
<line x1="594.60" y1="548.70" x2="594.60" y2="592.00" stroke="#000" stroke-width="1.1"/>
<text x="0" y="3.33" font-size="9.24" font-weight="bold" text-anchor="middle" fill="#000" transform="translate(605.60 541.00) rotate(90) scale(0.92 1)">**</text>
<text x="0" y="2.82" font-size="7.83" font-weight="normal" text-anchor="middle" fill="#000" transform="translate(606.30 564.00) rotate(90) scale(0.92 1)"><tspan font-style="italic">P</tspan>=0.005</text>
<line x1="615.10" y1="575.80" x2="615.10" y2="594.20" stroke="#000" stroke-width="1.1"/>
<text x="0" y="3.33" font-size="9.24" font-weight="bold" text-anchor="middle" fill="#000" transform="translate(622.50 571.00) rotate(90) scale(0.92 1)">*</text>
<text x="0" y="2.82" font-size="7.83" font-weight="normal" text-anchor="middle" fill="#000" transform="translate(623.20 593.60) rotate(90) scale(0.92 1)"><tspan font-style="italic">P</tspan>=0.0497</text>
<text x="0" y="2.82" font-size="7.83" font-weight="bold" text-anchor="middle" fill="#000" transform="translate(651.40 530.30) scale(0.92 1)">Median survival (d)</text>
<text x="0" y="2.82" font-size="7.83" font-weight="normal" text-anchor="middle" fill="#111" transform="translate(653.30 542.30) scale(0.92 1)">14</text>
<text x="0" y="2.82" font-size="7.83" font-weight="normal" text-anchor="middle" fill="#111" transform="translate(653.30 554.60) scale(0.92 1)">22.5</text>
<text x="0" y="2.82" font-size="7.83" font-weight="normal" text-anchor="middle" fill="#111" transform="translate(653.30 566.70) scale(0.92 1)">25</text>
<text x="0" y="2.82" font-size="7.83" font-weight="normal" text-anchor="middle" fill="#111" transform="translate(653.30 579.00) scale(0.92 1)">21.5</text>
<text x="0" y="2.82" font-size="7.83" font-weight="normal" text-anchor="middle" fill="#111" transform="translate(653.30 591.70) scale(0.92 1)">23.5</text>
<text x="0" y="3.24" font-size="9.00" font-weight="bold" text-anchor="start" fill="#000" transform="translate(1.80 796.06) scale(1 1)">k</text>
<line x1="54.50" y1="803.70" x2="54.50" y2="932.70" stroke="#000" stroke-width="1.2"/>
<line x1="51.00" y1="932.50" x2="54.50" y2="932.50" stroke="#000" stroke-width="1.2"/>
<line x1="51.00" y1="900.50" x2="54.50" y2="900.50" stroke="#000" stroke-width="1.2"/>
<line x1="51.00" y1="868.50" x2="54.50" y2="868.50" stroke="#000" stroke-width="1.2"/>
<line x1="51.00" y1="836.50" x2="54.50" y2="836.50" stroke="#000" stroke-width="1.2"/>
<line x1="51.00" y1="805.50" x2="54.50" y2="805.50" stroke="#000" stroke-width="1.2"/>
<line x1="52.50" y1="916.50" x2="54.50" y2="916.50" stroke="#000" stroke-width="1.2"/>
<line x1="52.50" y1="884.50" x2="54.50" y2="884.50" stroke="#000" stroke-width="1.2"/>
<line x1="52.50" y1="852.50" x2="54.50" y2="852.50" stroke="#000" stroke-width="1.2"/>
<line x1="52.50" y1="820.50" x2="54.50" y2="820.50" stroke="#000" stroke-width="1.2"/>
<text x="0" y="3.09" font-size="8.59" font-weight="bold" text-anchor="end" fill="#000" transform="translate(50.00 932.20) scale(0.92 1)">0</text>
<text x="0" y="3.09" font-size="8.59" font-weight="bold" text-anchor="end" fill="#000" transform="translate(50.00 900.43) scale(0.92 1)">500</text>
<text x="0" y="3.09" font-size="8.59" font-weight="bold" text-anchor="end" fill="#000" transform="translate(50.00 868.65) scale(0.92 1)">1000</text>
<text x="0" y="3.09" font-size="8.59" font-weight="bold" text-anchor="end" fill="#000" transform="translate(50.00 836.88) scale(0.92 1)">1500</text>
<text x="0" y="3.09" font-size="8.59" font-weight="bold" text-anchor="end" fill="#000" transform="translate(50.00 805.10) scale(0.92 1)">2000</text>
<line x1="53.90" y1="932.50" x2="244.50" y2="932.50" stroke="#000" stroke-width="1.2"/>
<line x1="54.50" y1="932.50" x2="54.50" y2="935.50" stroke="#000" stroke-width="1.2"/>
<line x1="81.50" y1="932.50" x2="81.50" y2="935.50" stroke="#000" stroke-width="1.2"/>
<line x1="108.50" y1="932.50" x2="108.50" y2="935.50" stroke="#000" stroke-width="1.2"/>
<line x1="135.50" y1="932.50" x2="135.50" y2="935.50" stroke="#000" stroke-width="1.2"/>
<line x1="162.50" y1="932.50" x2="162.50" y2="935.50" stroke="#000" stroke-width="1.2"/>
<line x1="190.50" y1="932.50" x2="190.50" y2="935.50" stroke="#000" stroke-width="1.2"/>
<line x1="217.50" y1="932.50" x2="217.50" y2="935.50" stroke="#000" stroke-width="1.2"/>
<line x1="244.50" y1="932.50" x2="244.50" y2="935.50" stroke="#000" stroke-width="1.2"/>
<line x1="67.50" y1="932.50" x2="67.50" y2="934.30" stroke="#000" stroke-width="1.2"/>
<line x1="94.50" y1="932.50" x2="94.50" y2="934.30" stroke="#000" stroke-width="1.2"/>
<line x1="122.50" y1="932.50" x2="122.50" y2="934.30" stroke="#000" stroke-width="1.2"/>
<line x1="149.50" y1="932.50" x2="149.50" y2="934.30" stroke="#000" stroke-width="1.2"/>
<line x1="176.50" y1="932.50" x2="176.50" y2="934.30" stroke="#000" stroke-width="1.2"/>
<line x1="203.50" y1="932.50" x2="203.50" y2="934.30" stroke="#000" stroke-width="1.2"/>
<line x1="230.50" y1="932.50" x2="230.50" y2="934.30" stroke="#000" stroke-width="1.2"/>
<text x="0" y="2.31" font-size="6.41" font-weight="bold" text-anchor="middle" fill="#000" transform="translate(54.20 941.00) scale(0.92 1)">6</text>
<text x="0" y="2.31" font-size="6.41" font-weight="bold" text-anchor="middle" fill="#000" transform="translate(81.38 941.00) scale(0.92 1)">8</text>
<text x="0" y="2.31" font-size="6.41" font-weight="bold" text-anchor="middle" fill="#000" transform="translate(108.56 941.00) scale(0.92 1)">10</text>
<text x="0" y="2.31" font-size="6.41" font-weight="bold" text-anchor="middle" fill="#000" transform="translate(135.74 941.00) scale(0.92 1)">12</text>
<text x="0" y="2.31" font-size="6.41" font-weight="bold" text-anchor="middle" fill="#000" transform="translate(162.92 941.00) scale(0.92 1)">14</text>
<text x="0" y="2.31" font-size="6.41" font-weight="bold" text-anchor="middle" fill="#000" transform="translate(190.10 941.00) scale(0.92 1)">16</text>
<text x="0" y="2.31" font-size="6.41" font-weight="bold" text-anchor="middle" fill="#000" transform="translate(217.28 941.00) scale(0.92 1)">18</text>
<text x="0" y="2.31" font-size="6.41" font-weight="bold" text-anchor="middle" fill="#000" transform="translate(244.46 941.00) scale(0.92 1)">20</text>
<text x="0" y="2.97" font-size="8.26" font-weight="bold" text-anchor="middle" fill="#000" transform="translate(25.50 867.20) rotate(-90) scale(0.92 1)">Tumor Volume (mm<tspan font-size="4.8" dy="-2.5">3</tspan><tspan dy="2.5">)</tspan></text>
<text x="0" y="2.97" font-size="8.26" font-weight="bold" text-anchor="middle" fill="#000" transform="translate(149.30 951.20) scale(0.92 1)">Days Post-Tumor Inoculation</text>
<line x1="81.38" y1="932.20" x2="81.38" y2="931.88" stroke="#ff2d1f" stroke-width="0.8"/>
<line x1="80.08" y1="931.88" x2="82.68" y2="931.88" stroke="#ff2d1f" stroke-width="0.8"/>
<line x1="108.56" y1="930.93" x2="108.56" y2="930.29" stroke="#ff2d1f" stroke-width="0.8"/>
<line x1="107.26" y1="930.29" x2="109.86" y2="930.29" stroke="#ff2d1f" stroke-width="0.8"/>
<line x1="135.74" y1="932.20" x2="135.74" y2="931.88" stroke="#ff2d1f" stroke-width="0.8"/>
<line x1="134.44" y1="931.88" x2="137.04" y2="931.88" stroke="#ff2d1f" stroke-width="0.8"/>
<line x1="162.92" y1="928.39" x2="162.92" y2="927.43" stroke="#ff2d1f" stroke-width="0.8"/>
<line x1="161.62" y1="927.43" x2="164.22" y2="927.43" stroke="#ff2d1f" stroke-width="0.8"/>
<line x1="190.10" y1="925.53" x2="190.10" y2="924.26" stroke="#ff2d1f" stroke-width="0.8"/>
<line x1="188.80" y1="924.26" x2="191.40" y2="924.26" stroke="#ff2d1f" stroke-width="0.8"/>
<line x1="217.28" y1="918.54" x2="217.28" y2="914.72" stroke="#ff2d1f" stroke-width="0.8"/>
<line x1="215.98" y1="914.72" x2="218.58" y2="914.72" stroke="#ff2d1f" stroke-width="0.8"/>
<line x1="244.46" y1="918.54" x2="244.46" y2="913.45" stroke="#ff2d1f" stroke-width="0.8"/>
<line x1="243.16" y1="913.45" x2="245.76" y2="913.45" stroke="#ff2d1f" stroke-width="0.8"/>
<polyline points="54.20,932.20 81.38,932.20 108.56,930.93 135.74,932.20 162.92,928.39 190.10,925.53 217.28,918.54 244.46,918.54" fill="none" stroke="#ff2d1f" stroke-width="1.35" stroke-linejoin="miter"/>
<circle cx="54.20" cy="932.20" r="2.0" fill="#ff2d1f"/>
<circle cx="81.38" cy="932.20" r="2.0" fill="#ff2d1f"/>
<circle cx="108.56" cy="930.93" r="2.0" fill="#ff2d1f"/>
<circle cx="135.74" cy="932.20" r="2.0" fill="#ff2d1f"/>
<circle cx="162.92" cy="928.39" r="2.0" fill="#ff2d1f"/>
<circle cx="190.10" cy="925.53" r="2.0" fill="#ff2d1f"/>
<circle cx="217.28" cy="918.54" r="2.0" fill="#ff2d1f"/>
<circle cx="244.46" cy="918.54" r="2.0" fill="#ff2d1f"/>
<line x1="81.38" y1="920.44" x2="81.38" y2="918.54" stroke="#8a9a2a" stroke-width="0.8"/>
<line x1="80.08" y1="918.54" x2="82.68" y2="918.54" stroke="#8a9a2a" stroke-width="0.8"/>
<line x1="108.56" y1="915.68" x2="108.56" y2="911.86" stroke="#8a9a2a" stroke-width="0.8"/>
<line x1="107.26" y1="911.86" x2="109.86" y2="911.86" stroke="#8a9a2a" stroke-width="0.8"/>
<line x1="135.74" y1="887.72" x2="135.74" y2="879.45" stroke="#8a9a2a" stroke-width="0.8"/>
<line x1="134.44" y1="879.45" x2="137.04" y2="879.45" stroke="#8a9a2a" stroke-width="0.8"/>
<line x1="162.92" y1="841.13" x2="162.92" y2="815.71" stroke="#8a9a2a" stroke-width="0.8"/>
<line x1="161.62" y1="815.71" x2="164.22" y2="815.71" stroke="#8a9a2a" stroke-width="0.8"/>
<polyline points="54.20,932.20 81.38,920.44 108.56,915.68 135.74,887.72 162.92,841.13" fill="none" stroke="#8a9a2a" stroke-width="1.35" stroke-linejoin="miter"/>
<circle cx="54.20" cy="932.20" r="2.0" fill="#8a9a2a"/>
<circle cx="81.38" cy="920.44" r="2.0" fill="#8a9a2a"/>
<circle cx="108.56" cy="915.68" r="2.0" fill="#8a9a2a"/>
<circle cx="135.74" cy="887.72" r="2.0" fill="#8a9a2a"/>
<circle cx="162.92" cy="841.13" r="2.0" fill="#8a9a2a"/>
<line x1="81.38" y1="921.71" x2="81.38" y2="919.81" stroke="#8a8a8a" stroke-width="0.8"/>
<line x1="80.08" y1="919.81" x2="82.68" y2="919.81" stroke="#8a8a8a" stroke-width="0.8"/>
<line x1="108.56" y1="918.85" x2="108.56" y2="915.68" stroke="#8a8a8a" stroke-width="0.8"/>
<line x1="107.26" y1="915.68" x2="109.86" y2="915.68" stroke="#8a8a8a" stroke-width="0.8"/>
<line x1="135.74" y1="890.26" x2="135.74" y2="883.90" stroke="#8a8a8a" stroke-width="0.8"/>
<line x1="134.44" y1="883.90" x2="137.04" y2="883.90" stroke="#8a8a8a" stroke-width="0.8"/>
<line x1="162.92" y1="837.00" x2="162.92" y2="814.12" stroke="#8a8a8a" stroke-width="0.8"/>
<line x1="161.62" y1="814.12" x2="164.22" y2="814.12" stroke="#8a8a8a" stroke-width="0.8"/>
<polyline points="54.20,932.20 81.38,921.71 108.56,918.85 135.74,890.26 162.92,837.00" fill="none" stroke="#8a8a8a" stroke-width="1.35" stroke-linejoin="miter"/>
<circle cx="54.20" cy="932.20" r="2.0" fill="#8a8a8a"/>
<circle cx="81.38" cy="921.71" r="2.0" fill="#8a8a8a"/>
<circle cx="108.56" cy="918.85" r="2.0" fill="#8a8a8a"/>
<circle cx="135.74" cy="890.26" r="2.0" fill="#8a8a8a"/>
<circle cx="162.92" cy="837.00" r="2.0" fill="#8a8a8a"/>
<line x1="81.38" y1="919.49" x2="81.38" y2="915.68" stroke="#000" stroke-width="0.8"/>
<line x1="80.08" y1="915.68" x2="82.68" y2="915.68" stroke="#000" stroke-width="0.8"/>
<line x1="108.56" y1="913.77" x2="108.56" y2="903.60" stroke="#000" stroke-width="0.8"/>
<line x1="107.26" y1="903.60" x2="109.86" y2="903.60" stroke="#000" stroke-width="0.8"/>
<line x1="135.74" y1="895.66" x2="135.74" y2="890.57" stroke="#000" stroke-width="0.8"/>
<line x1="134.44" y1="890.57" x2="137.04" y2="890.57" stroke="#000" stroke-width="0.8"/>
<line x1="162.92" y1="858.29" x2="162.92" y2="845.58" stroke="#000" stroke-width="0.8"/>
<line x1="161.62" y1="845.58" x2="164.22" y2="845.58" stroke="#000" stroke-width="0.8"/>
<polyline points="54.20,932.20 81.38,919.49 108.56,913.77 135.74,895.66 162.92,858.29" fill="none" stroke="#000" stroke-width="1.35" stroke-linejoin="miter"/>
<circle cx="54.20" cy="932.20" r="2.0" fill="#000"/>
<circle cx="81.38" cy="919.49" r="2.0" fill="#000"/>
<circle cx="108.56" cy="913.77" r="2.0" fill="#000"/>
<circle cx="135.74" cy="895.66" r="2.0" fill="#000"/>
<circle cx="162.92" cy="858.29" r="2.0" fill="#000"/>
<line x1="62.60" y1="807.20" x2="72.20" y2="807.20" stroke="#000" stroke-width="1.3"/>
<circle cx="67.40" cy="807.20" r="2.0" fill="#000"/>
<text x="0" y="3.27" font-size="9.07" font-weight="normal" text-anchor="start" fill="#111" transform="translate(76.60 807.20) scale(0.86 1)">PBS</text>
<line x1="62.60" y1="818.40" x2="72.20" y2="818.40" stroke="#8a8a8a" stroke-width="1.3"/>
<circle cx="67.40" cy="818.40" r="2.0" fill="#8a8a8a"/>
<text x="0" y="3.27" font-size="9.07" font-weight="normal" text-anchor="start" fill="#111" transform="translate(76.60 818.40) scale(0.86 1)">PBS LiNx</text>
<line x1="62.60" y1="830.70" x2="72.20" y2="830.70" stroke="#8a9a2a" stroke-width="1.3"/>
<circle cx="67.40" cy="830.70" r="2.0" fill="#8a9a2a"/>
<text x="0" y="3.27" font-size="9.07" font-weight="normal" text-anchor="start" fill="#111" transform="translate(76.60 830.70) scale(0.86 1)">OVA LiNx</text>
<line x1="62.60" y1="842.30" x2="72.20" y2="842.30" stroke="#ff2d1f" stroke-width="1.3"/>
<circle cx="67.40" cy="842.30" r="2.0" fill="#ff2d1f"/>
<text x="0" y="3.27" font-size="9.07" font-weight="normal" text-anchor="start" fill="#111" transform="translate(76.60 842.30) scale(0.86 1)">D6 mOVA LiNx</text>
<text x="0" y="3.24" font-size="9.00" font-weight="bold" text-anchor="start" fill="#000" transform="translate(270.00 796.06) scale(1 1)">l</text>
<line x1="298.50" y1="809.30" x2="298.50" y2="929.20" stroke="#000" stroke-width="1.5"/>
<line x1="292.90" y1="928.50" x2="298.50" y2="928.50" stroke="#000" stroke-width="1.5"/>
<line x1="292.90" y1="905.50" x2="298.50" y2="905.50" stroke="#000" stroke-width="1.5"/>
<line x1="292.90" y1="882.50" x2="298.50" y2="882.50" stroke="#000" stroke-width="1.5"/>
<line x1="292.90" y1="859.50" x2="298.50" y2="859.50" stroke="#000" stroke-width="1.5"/>
<line x1="292.90" y1="837.50" x2="298.50" y2="837.50" stroke="#000" stroke-width="1.5"/>
<line x1="292.90" y1="814.50" x2="298.50" y2="814.50" stroke="#000" stroke-width="1.5"/>
<line x1="294.70" y1="917.50" x2="298.50" y2="917.50" stroke="#000" stroke-width="1.5"/>
<line x1="294.70" y1="894.50" x2="298.50" y2="894.50" stroke="#000" stroke-width="1.5"/>
<line x1="294.70" y1="871.50" x2="298.50" y2="871.50" stroke="#000" stroke-width="1.5"/>
<line x1="294.70" y1="848.50" x2="298.50" y2="848.50" stroke="#000" stroke-width="1.5"/>
<line x1="294.70" y1="825.50" x2="298.50" y2="825.50" stroke="#000" stroke-width="1.5"/>
<text x="0" y="3.21" font-size="8.91" font-weight="bold" text-anchor="end" fill="#000" transform="translate(291.60 928.70) scale(0.92 1)">0</text>
<text x="0" y="3.21" font-size="8.91" font-weight="bold" text-anchor="end" fill="#000" transform="translate(291.60 905.78) scale(0.92 1)">20</text>
<text x="0" y="3.21" font-size="8.91" font-weight="bold" text-anchor="end" fill="#000" transform="translate(291.60 882.86) scale(0.92 1)">40</text>
<text x="0" y="3.21" font-size="8.91" font-weight="bold" text-anchor="end" fill="#000" transform="translate(291.60 859.94) scale(0.92 1)">60</text>
<text x="0" y="3.21" font-size="8.91" font-weight="bold" text-anchor="end" fill="#000" transform="translate(291.60 837.02) scale(0.92 1)">80</text>
<text x="0" y="3.21" font-size="8.91" font-weight="bold" text-anchor="end" fill="#000" transform="translate(291.60 814.10) scale(0.92 1)">100</text>
<line x1="297.90" y1="928.50" x2="518.00" y2="928.50" stroke="#000" stroke-width="1.5"/>
<line x1="298.50" y1="928.50" x2="298.50" y2="933.10" stroke="#000" stroke-width="1.5"/>
<line x1="316.50" y1="928.50" x2="316.50" y2="933.10" stroke="#000" stroke-width="1.5"/>
<line x1="333.50" y1="928.50" x2="333.50" y2="933.10" stroke="#000" stroke-width="1.5"/>
<line x1="351.50" y1="928.50" x2="351.50" y2="933.10" stroke="#000" stroke-width="1.5"/>
<line x1="368.50" y1="928.50" x2="368.50" y2="933.10" stroke="#000" stroke-width="1.5"/>
<line x1="386.50" y1="928.50" x2="386.50" y2="933.10" stroke="#000" stroke-width="1.5"/>
<line x1="404.50" y1="928.50" x2="404.50" y2="933.10" stroke="#000" stroke-width="1.5"/>
<line x1="421.50" y1="928.50" x2="421.50" y2="933.10" stroke="#000" stroke-width="1.5"/>
<line x1="439.50" y1="928.50" x2="439.50" y2="933.10" stroke="#000" stroke-width="1.5"/>
<line x1="456.50" y1="928.50" x2="456.50" y2="933.10" stroke="#000" stroke-width="1.5"/>
<line x1="474.50" y1="928.50" x2="474.50" y2="933.10" stroke="#000" stroke-width="1.5"/>
<line x1="492.50" y1="928.50" x2="492.50" y2="933.10" stroke="#000" stroke-width="1.5"/>
<line x1="509.50" y1="928.50" x2="509.50" y2="933.10" stroke="#000" stroke-width="1.5"/>
<line x1="307.50" y1="928.50" x2="307.50" y2="931.50" stroke="#000" stroke-width="1.5"/>
<line x1="324.50" y1="928.50" x2="324.50" y2="931.50" stroke="#000" stroke-width="1.5"/>
<line x1="342.50" y1="928.50" x2="342.50" y2="931.50" stroke="#000" stroke-width="1.5"/>
<line x1="360.50" y1="928.50" x2="360.50" y2="931.50" stroke="#000" stroke-width="1.5"/>
<line x1="377.50" y1="928.50" x2="377.50" y2="931.50" stroke="#000" stroke-width="1.5"/>
<line x1="395.50" y1="928.50" x2="395.50" y2="931.50" stroke="#000" stroke-width="1.5"/>
<line x1="412.50" y1="928.50" x2="412.50" y2="931.50" stroke="#000" stroke-width="1.5"/>
<line x1="430.50" y1="928.50" x2="430.50" y2="931.50" stroke="#000" stroke-width="1.5"/>
<line x1="448.50" y1="928.50" x2="448.50" y2="931.50" stroke="#000" stroke-width="1.5"/>
<line x1="465.50" y1="928.50" x2="465.50" y2="931.50" stroke="#000" stroke-width="1.5"/>
<line x1="483.50" y1="928.50" x2="483.50" y2="931.50" stroke="#000" stroke-width="1.5"/>
<line x1="500.50" y1="928.50" x2="500.50" y2="931.50" stroke="#000" stroke-width="1.5"/>
<line x1="518.50" y1="928.50" x2="518.50" y2="931.50" stroke="#000" stroke-width="1.5"/>
<text x="0" y="2.93" font-size="8.15" font-weight="bold" text-anchor="middle" fill="#000" transform="translate(298.50 939.00) scale(0.92 1)">12</text>
<text x="0" y="2.93" font-size="8.15" font-weight="bold" text-anchor="middle" fill="#000" transform="translate(316.10 939.00) scale(0.92 1)">14</text>
<text x="0" y="2.93" font-size="8.15" font-weight="bold" text-anchor="middle" fill="#000" transform="translate(333.70 939.00) scale(0.92 1)">16</text>
<text x="0" y="2.93" font-size="8.15" font-weight="bold" text-anchor="middle" fill="#000" transform="translate(351.30 939.00) scale(0.92 1)">18</text>
<text x="0" y="2.93" font-size="8.15" font-weight="bold" text-anchor="middle" fill="#000" transform="translate(368.90 939.00) scale(0.92 1)">20</text>
<text x="0" y="2.93" font-size="8.15" font-weight="bold" text-anchor="middle" fill="#000" transform="translate(386.50 939.00) scale(0.92 1)">22</text>
<text x="0" y="2.93" font-size="8.15" font-weight="bold" text-anchor="middle" fill="#000" transform="translate(404.10 939.00) scale(0.92 1)">24</text>
<text x="0" y="2.93" font-size="8.15" font-weight="bold" text-anchor="middle" fill="#000" transform="translate(421.70 939.00) scale(0.92 1)">26</text>
<text x="0" y="2.93" font-size="8.15" font-weight="bold" text-anchor="middle" fill="#000" transform="translate(439.30 939.00) scale(0.92 1)">28</text>
<text x="0" y="2.93" font-size="8.15" font-weight="bold" text-anchor="middle" fill="#000" transform="translate(456.90 939.00) scale(0.92 1)">30</text>
<text x="0" y="2.93" font-size="8.15" font-weight="bold" text-anchor="middle" fill="#000" transform="translate(474.50 939.00) scale(0.92 1)">32</text>
<text x="0" y="2.93" font-size="8.15" font-weight="bold" text-anchor="middle" fill="#000" transform="translate(492.10 939.00) scale(0.92 1)">34</text>
<text x="0" y="2.93" font-size="8.15" font-weight="bold" text-anchor="middle" fill="#000" transform="translate(509.70 939.00) scale(0.92 1)">36</text>
<text x="0" y="3.60" font-size="10.00" font-weight="bold" text-anchor="middle" fill="#000" transform="translate(273.50 868.70) rotate(-90) scale(0.92 1)">Percent Survival</text>
<text x="0" y="3.01" font-size="8.37" font-weight="bold" text-anchor="middle" fill="#000" transform="translate(408.20 950.60) scale(0.92 1)">Days Post-Tumor Inoculation</text>
<polyline points="298.50,814.10 316.10,814.10 316.10,833.24 333.70,833.24 333.70,871.40 351.30,871.40 351.30,928.70 351.30,928.70" fill="none" stroke="#8a8a8a" stroke-width="1.7" stroke-linejoin="miter"/>
<polyline points="298.50,814.10 316.10,814.10 316.10,852.26 333.70,852.26 333.70,890.54 351.30,890.54 351.30,909.56 368.90,909.56 368.90,928.70 368.90,928.70" fill="none" stroke="#8a9a2a" stroke-width="1.7" stroke-linejoin="miter"/>
<polyline points="298.50,814.10 316.10,814.10 316.10,833.24 333.70,833.24 333.70,890.54 351.30,890.54 351.30,928.70 351.30,928.70" fill="none" stroke="#000" stroke-width="1.7" stroke-linejoin="miter"/>
<polyline points="316.10,814.10 421.70,814.10 421.70,833.24 439.30,833.24 439.30,852.26 456.90,852.26 456.90,909.56 518.50,909.56" fill="none" stroke="#ff2d1f" stroke-width="1.7" stroke-linejoin="miter"/>
<line x1="474.00" y1="842.20" x2="486.50" y2="842.20" stroke="#000" stroke-width="1.5"/>
<line x1="480.25" y1="839.60" x2="480.25" y2="842.20" stroke="#000" stroke-width="1.0"/>
<text x="0" y="3.27" font-size="9.07" font-weight="normal" text-anchor="start" fill="#111" transform="translate(491.90 842.20) scale(0.86 1)">PBS</text>
<text x="0" y="2.97" font-size="8.26" font-weight="normal" text-anchor="middle" fill="#111" transform="translate(617.00 842.20) scale(0.92 1)">16</text>
<line x1="474.00" y1="855.40" x2="486.50" y2="855.40" stroke="#8a8a8a" stroke-width="1.5"/>
<line x1="480.25" y1="852.80" x2="480.25" y2="855.40" stroke="#8a8a8a" stroke-width="1.0"/>
<text x="0" y="3.27" font-size="9.07" font-weight="normal" text-anchor="start" fill="#111" transform="translate(491.90 855.40) scale(0.86 1)">PBS LiNx</text>
<text x="0" y="2.97" font-size="8.26" font-weight="normal" text-anchor="middle" fill="#111" transform="translate(617.00 855.40) scale(0.92 1)">17</text>
<line x1="474.00" y1="868.70" x2="486.50" y2="868.70" stroke="#8a9a2a" stroke-width="1.5"/>
<line x1="480.25" y1="866.10" x2="480.25" y2="868.70" stroke="#8a9a2a" stroke-width="1.0"/>
<text x="0" y="3.27" font-size="9.07" font-weight="normal" text-anchor="start" fill="#111" transform="translate(491.90 868.70) scale(0.86 1)">OVA LiNx</text>
<text x="0" y="2.97" font-size="8.26" font-weight="normal" text-anchor="middle" fill="#111" transform="translate(617.00 868.70) scale(0.92 1)">17</text>
<line x1="474.00" y1="882.30" x2="486.50" y2="882.30" stroke="#ff2d1f" stroke-width="1.5"/>
<line x1="480.25" y1="879.70" x2="480.25" y2="882.30" stroke="#ff2d1f" stroke-width="1.0"/>
<text x="0" y="3.27" font-size="9.07" font-weight="normal" text-anchor="start" fill="#111" transform="translate(491.90 882.30) scale(0.86 1)">D6 mOVA LiNx</text>
<text x="0" y="2.97" font-size="8.26" font-weight="normal" text-anchor="middle" fill="#111" transform="translate(617.00 882.30) scale(0.92 1)">30</text>
<text x="0" y="3.91" font-size="10.87" font-weight="bold" text-anchor="middle" fill="#000" transform="translate(558.00 882.80) scale(0.92 1)">***</text>
<text x="0" y="2.90" font-size="8.04" font-weight="normal" text-anchor="start" fill="#111" transform="translate(568.00 882.30) scale(0.92 1)"><tspan font-style="italic">P</tspan>=0,0008</text>
<text x="0" y="3.01" font-size="8.37" font-weight="bold" text-anchor="middle" fill="#000" transform="translate(615.50 821.50) scale(0.92 1)">Median survival (d)</text>
</svg></body></html>
